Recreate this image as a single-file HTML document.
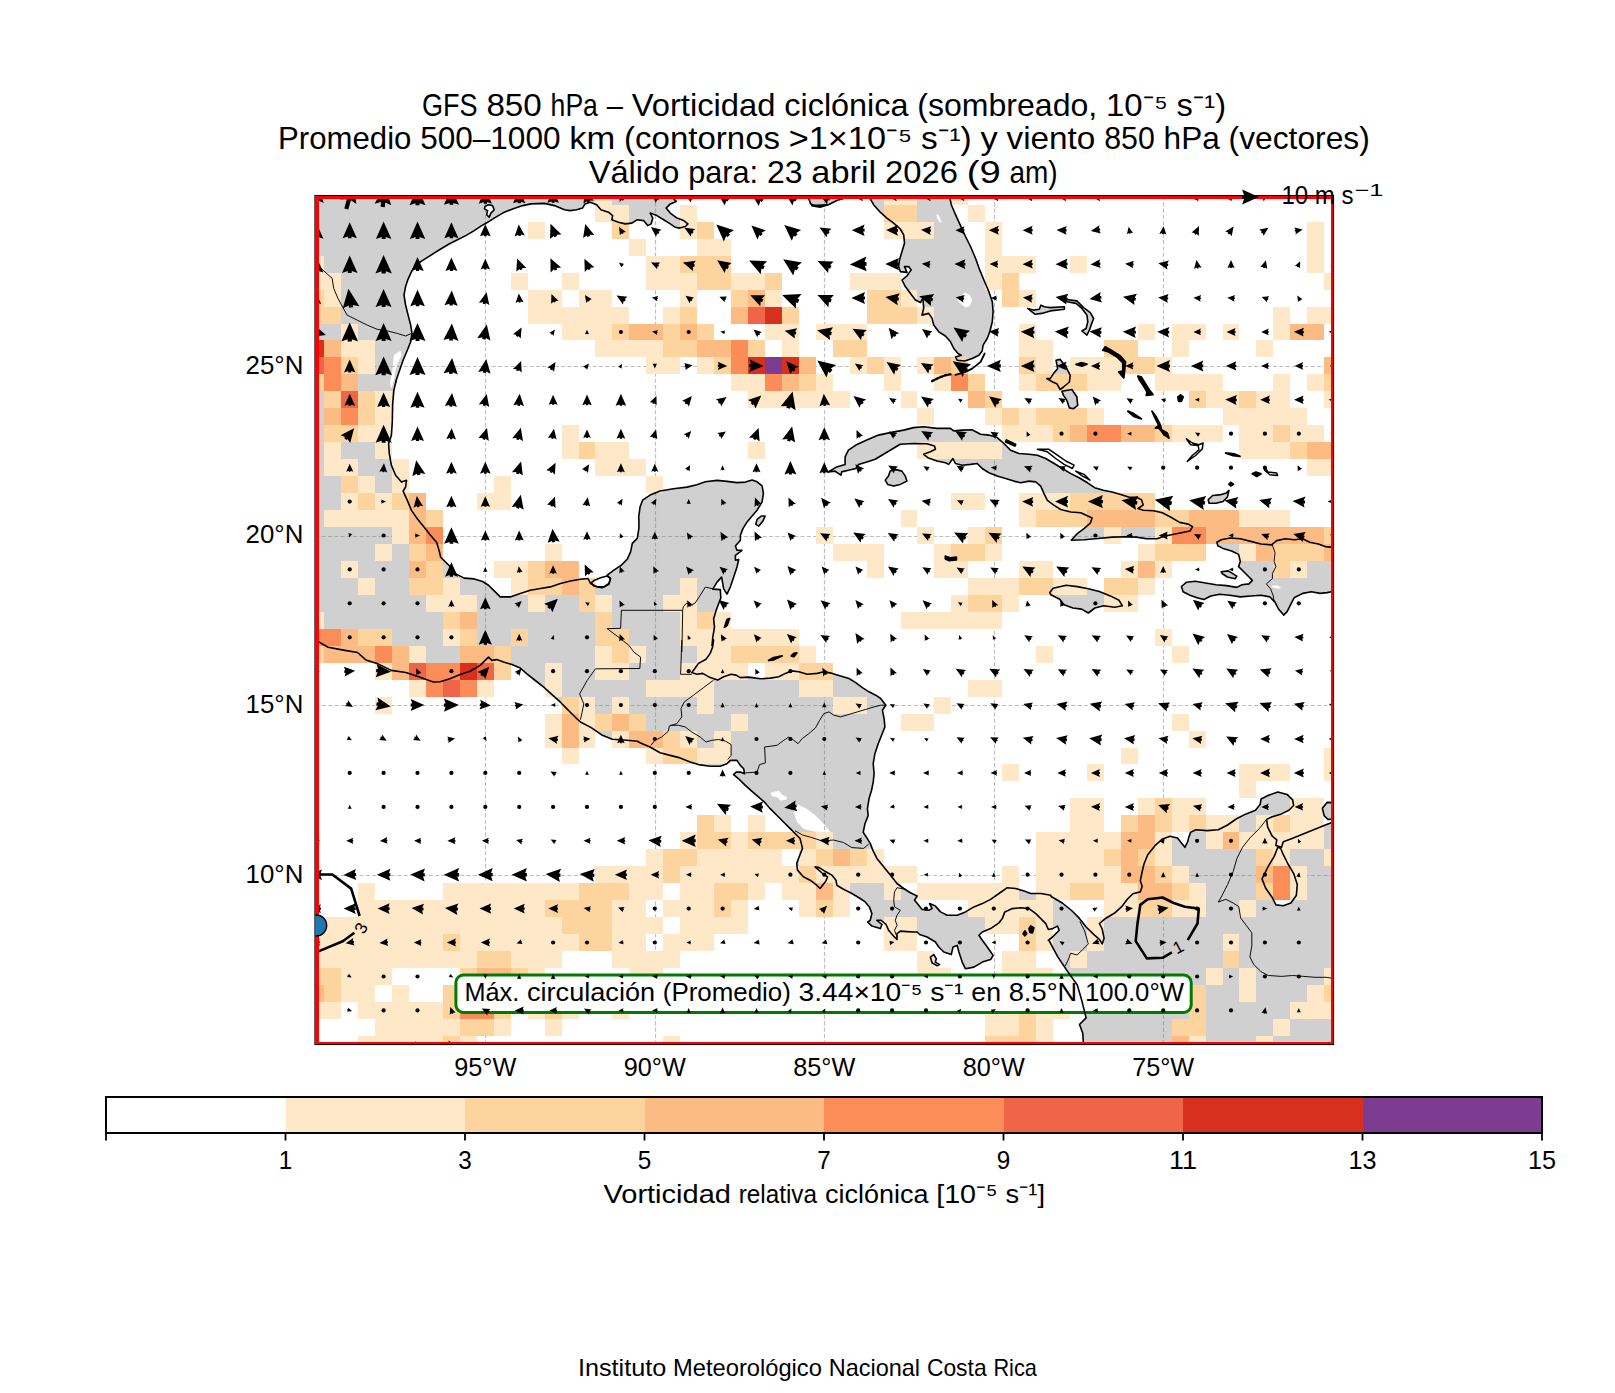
<!DOCTYPE html><html><head><meta charset="utf-8"><title>GFS 850 hPa</title><style>html,body{margin:0;padding:0;background:#fff}svg{display:block}text{font-family:"Liberation Sans",sans-serif;fill:#000}</style></head><body>
<svg width="1615" height="1393" viewBox="0 0 1615 1393">
<rect width="1615" height="1393" fill="#fff"/>
<defs><clipPath id="ax"><rect x="315.4" y="196.0" width="1017.7" height="848.1"/></clipPath></defs>
<g clip-path="url(#ax)">
<g fill="#d0d0d0" stroke="none">
<path d="M313.0 193.0 L673.7 193.0 L673.7 196.4 L673.7 198.9 L676.2 201.4 L670.3 203.9 L666.1 208.1 L670.3 213.1 L677.0 218.1 L683.7 220.6 L687.9 223.9 L685.4 226.5 L679.5 228.1 L675.3 227.3 L670.3 223.9 L663.6 219.8 L656.9 215.6 L650.2 213.1 L652.8 218.1 L651.1 223.9 L647.7 225.6 L643.6 220.6 L636.9 219.8 L631.9 223.1 L625.2 223.9 L618.5 222.3 L611.8 219.8 L612.6 215.6 L608.5 212.2 L600.9 209.7 L596.7 204.7 L590.1 202.2 L585.0 203.9 L582.5 208.1 L576.7 209.7 L570.0 210.6 L564.5 209.7 L554.4 205.6 L544.4 203.4 L531.0 203.9 L522.7 205.6 L512.6 208.9 L502.6 213.1 L494.2 218.1 L487.6 222.3 L480.9 226.1 L474.2 230.6 L465.8 235.6 L457.5 239.8 L449.1 244.0 L440.7 249.0 L434.1 253.2 L427.4 257.4 L420.7 261.6 L415.7 265.7 L411.5 271.6 L408.1 279.1 L405.6 286.6 L404.0 295.0 L405.6 305.0 L408.1 315.1 L410.7 325.1 L412.0 333.4 L410.7 341.8 L407.3 350.2 L403.1 360.2 L399.0 371.9 L395.6 381.9 L396.4 380.0 L393.9 390.0 L392.6 405.1 L392.3 421.8 L391.4 435.2 L388.6 443.5 L389.3 453.6 L391.4 465.3 L395.6 475.3 L401.5 482.0 L406.5 480.3 L405.6 487.0 L403.1 491.2 L407.3 500.4 L411.5 510.4 L417.3 518.8 L424.0 527.1 L430.7 535.5 L436.6 542.2 L439.1 550.5 L440.7 557.2 L445.8 562.2 L450.8 567.2 L455.8 573.9 L464.2 578.1 L474.2 578.9 L482.6 581.5 L488.5 585.2 L495.2 591.9 L500.2 596.9 L510.2 596.9 L520.2 593.6 L530.3 590.2 L540.3 588.5 L550.3 586.9 L560.4 583.5 L570.4 581.0 L580.4 579.3 L588.0 578.5 L590.5 583.5 L597.2 586.9 L603.8 586.9 L608.9 583.5 L610.5 578.5 L607.2 575.2 L613.9 570.2 L621.4 565.1 L627.2 559.3 L630.6 551.8 L632.3 543.4 L637.3 538.4 L638.9 528.4 L638.9 520.0 L638.7 516.9 L640.1 506.8 L642.6 500.2 L650.1 495.1 L660.1 491.0 L673.5 488.8 L686.9 487.1 L696.9 484.8 L705.3 481.8 L717.0 480.4 L727.0 481.4 L737.0 482.6 L745.4 482.1 L752.1 480.1 L757.1 481.8 L762.1 485.9 L763.4 493.5 L762.1 501.8 L757.1 510.2 L752.1 516.0 L747.1 521.9 L742.9 528.6 L740.4 535.3 L740.4 540.3 L735.4 546.1 L737.0 550.3 L742.0 550.3 L735.4 555.3 L735.4 560.3 L738.7 559.5 L737.0 567.0 L733.7 577.1 L730.3 587.1 L727.0 594.1 L723.7 588.8 L721.6 577.1 L717.0 582.1 L712.8 589.1 L720.3 589.6 L720.8 598.0 L718.6 603.8 L716.1 610.5 L713.6 618.9 L714.5 627.2 L712.8 637.2 L712.0 645.6 L713.6 640.0 L712.7 646.7 L710.2 653.4 L706.0 659.2 L698.5 663.4 L694.3 669.3 L691.8 672.6 L696.8 674.3 L702.7 673.4 L710.2 677.6 L717.7 680.1 L723.6 676.8 L731.1 674.3 L736.1 675.1 L740.3 677.6 L748.7 677.1 L760.4 678.8 L770.4 678.1 L778.8 676.8 L785.4 673.4 L791.3 670.9 L798.8 671.8 L807.2 674.3 L817.2 673.4 L823.9 671.8 L832.3 673.4 L840.6 675.9 L849.0 678.5 L855.7 682.6 L862.4 687.6 L869.0 691.8 L875.7 695.2 L880.7 698.5 L885.8 705.2 L882.4 710.2 L884.1 718.6 L884.9 726.9 L881.6 735.3 L878.2 743.7 L874.9 753.7 L873.2 763.7 L874.1 773.7 L873.2 782.1 L871.5 790.5 L869.0 798.8 L867.4 808.9 L868.2 815.5 L864.9 823.9 L863.2 832.3 L866.1 836.7 L870.2 843.4 L872.8 850.1 L876.9 858.4 L883.6 866.8 L890.3 875.1 L897.0 883.5 L903.7 888.5 L910.4 892.7 L917.1 896.0 L914.6 900.2 L918.7 905.2 L922.1 909.4 L928.8 910.2 L932.1 908.6 L929.6 903.6 L935.4 906.1 L940.5 911.9 L947.2 915.3 L957.2 915.3 L965.5 911.9 L973.9 906.9 L982.3 903.6 L990.6 899.4 L999.0 893.5 L1007.3 887.7 L1015.7 888.5 L1024.1 891.0 L1030.7 893.5 L1040.8 893.5 L1050.8 895.2 L1051.1 896.5 L1062.3 903.0 L1071.6 910.5 L1079.0 917.9 L1086.4 927.2 L1093.9 934.6 L1099.4 939.3 L1102.2 943.9 L1104.1 938.3 L1102.2 929.0 L1099.4 923.5 L1105.0 918.8 L1114.3 913.3 L1121.7 906.7 L1127.3 899.3 L1132.9 893.7 L1140.3 891.9 L1142.2 886.3 L1140.3 880.7 L1142.2 871.5 L1144.0 864.0 L1147.7 854.7 L1155.2 845.4 L1162.6 838.9 L1170.0 836.2 L1177.5 838.0 L1181.2 842.7 L1184.9 847.3 L1187.7 841.7 L1188.6 838.0 L1190.5 832.4 L1196.0 829.7 L1207.2 830.6 L1218.3 829.7 L1227.6 825.0 L1236.9 818.5 L1246.2 813.9 L1255.5 810.2 L1260.1 804.6 L1261.1 799.0 L1268.5 795.3 L1277.8 792.0 L1287.1 794.4 L1292.6 799.9 L1293.6 805.5 L1288.9 810.2 L1281.5 813.9 L1272.2 816.7 L1266.6 819.4 L1267.6 826.9 L1272.2 836.2 L1276.8 839.9 L1275.9 845.4 L1281.5 847.3 L1283.3 841.7 L1290.8 838.9 L1300.1 835.2 L1309.3 831.5 L1318.6 827.8 L1327.9 824.1 L1332.8 822.2 L1336.0 822.2 L1336.0 1047.0 L1084.8 1047.0 L1083.3 1042.5 L1082.8 1033.3 L1079.5 1024.5 L1086.1 1017.9 L1081.7 1000.3 L1077.3 985.0 L1066.3 969.6 L1057.5 956.4 L1048.7 939.9 L1048.3 940.3 L1052.5 937.0 L1059.2 930.3 L1057.5 926.1 L1052.5 928.6 L1048.3 929.5 L1045.8 923.6 L1040.8 918.6 L1035.8 913.6 L1029.1 908.6 L1020.7 907.7 L1012.4 908.6 L1004.8 911.9 L1002.3 918.6 L999.0 922.8 L990.6 928.6 L982.3 932.0 L978.9 935.3 L982.3 940.3 L987.3 947.0 L993.1 955.4 L990.6 959.6 L982.3 962.1 L973.9 967.1 L965.5 968.8 L962.2 962.1 L958.9 952.0 L957.2 945.4 L953.0 947.0 L951.3 954.6 L943.8 952.0 L938.8 947.0 L935.4 942.0 L927.1 937.0 L919.6 934.5 L917.1 932.0 L913.7 932.0 L907.0 931.6 L900.3 931.1 L897.0 933.7 L897.0 939.5 L893.7 936.2 L888.6 930.3 L886.1 924.5 L881.1 920.3 L876.9 920.3 L882.0 924.5 L880.3 928.6 L871.9 926.1 L867.7 922.0 L870.2 920.3 L871.9 913.6 L869.4 906.9 L865.2 901.9 L860.2 898.5 L851.9 893.5 L843.5 889.3 L836.8 885.2 L836.0 880.2 L831.8 875.1 L825.9 871.8 L819.3 867.6 L815.1 866.8 L822.6 873.5 L827.6 876.8 L825.9 881.0 L820.1 888.5 L816.7 885.2 L810.1 880.2 L803.4 876.8 L797.5 870.1 L796.7 863.4 L799.2 856.7 L802.5 848.4 L800.0 838.4 L796.3 834.8 L790.5 828.9 L783.8 822.2 L777.1 815.5 L770.4 808.9 L764.6 802.2 L758.7 797.2 L752.0 791.3 L745.3 785.4 L738.6 778.8 L733.6 774.6 L736.1 772.1 L740.3 772.1 L744.5 773.7 L743.7 768.7 L740.3 765.4 L737.0 760.4 L730.3 760.4 L726.9 763.7 L720.2 766.2 L710.2 766.2 L698.5 764.6 L690.2 762.0 L680.1 757.9 L670.1 755.4 L660.1 752.8 L650.0 747.0 L640.0 742.8 L637.5 741.3 L627.0 740.2 L612.3 739.2 L601.7 734.9 L591.2 727.6 L580.4 722.0 L575.4 717.3 L568.7 710.6 L560.4 702.2 L552.0 694.7 L543.7 687.2 L535.3 680.5 L526.9 673.8 L520.2 668.0 L511.9 664.6 L503.5 662.1 L496.8 659.6 L491.8 660.4 L488.5 657.1 L485.1 660.4 L480.1 665.4 L470.1 671.3 L460.1 674.6 L450.0 678.8 L440.0 681.8 L433.3 682.0 L418.6 676.7 L405.9 672.5 L391.2 670.4 L378.6 664.1 L365.9 659.9 L357.5 652.5 L344.9 650.4 L328.1 647.3 L315.4 639.9 L313.0 639.9Z"/>
<path d="M866.9 193.0 L873.6 204.7 L880.2 212.2 L886.9 218.1 L893.6 223.1 L900.3 229.0 L903.7 234.8 L904.5 243.2 L902.0 251.5 L899.5 259.9 L898.6 266.6 L900.3 271.6 L907.0 272.4 L904.5 266.6 L908.7 266.6 L911.2 269.9 L907.0 275.8 L902.0 280.0 L905.3 286.6 L910.3 293.3 L915.4 300.0 L920.4 302.5 L922.9 298.3 L923.7 308.4 L922.0 315.1 L928.7 313.4 L932.1 318.4 L933.7 325.1 L938.8 331.8 L945.4 336.0 L950.5 341.8 L953.8 348.5 L958.0 353.5 L961.3 355.2 L955.5 356.9 L957.2 360.2 L964.7 361.0 L972.2 358.5 L978.9 355.2 L982.2 351.0 L983.1 345.2 L987.2 338.5 L989.8 331.8 L992.3 321.7 L993.1 311.7 L992.3 301.7 L988.9 291.7 L983.9 280.0 L979.7 269.9 L975.5 258.2 L970.5 246.5 L965.5 236.5 L960.5 225.6 L955.5 214.7 L951.3 204.7 L948.8 193.0Z"/>
<path d="M806.6 193.0 L810.7 203.9 L817.4 206.4 L827.5 204.7 L811.7 205.6 L820.1 207.2 L828.4 204.7 L836.8 200.5 L845.1 198.0 L847.6 193.0Z"/>
<path d="M828.4 471.9 L836.7 466.9 L845.1 464.4 L845.1 456.8 L848.4 450.2 L855.9 445.1 L866.8 440.1 L878.5 435.1 L890.2 432.6 L903.6 430.1 L913.6 427.6 L923.7 426.7 L937.0 428.4 L950.4 428.4 L953.7 430.9 L962.1 430.1 L972.1 429.8 L980.5 434.3 L988.9 435.1 L997.2 437.6 L1003.9 443.5 L1010.6 450.2 L1018.9 453.5 L1029.0 454.3 L1037.3 455.2 L1045.7 458.5 L1054.1 463.5 L1062.4 468.5 L1070.8 473.6 L1079.1 477.7 L1087.5 482.8 L1094.7 487.7 L1103.3 490.3 L1112.0 492.0 L1120.7 494.6 L1129.3 497.2 L1136.3 497.2 L1141.5 499.8 L1143.2 505.0 L1138.0 508.5 L1143.2 510.2 L1153.6 510.7 L1162.3 512.8 L1171.0 517.2 L1179.6 522.4 L1188.3 524.1 L1192.6 526.7 L1190.0 531.0 L1181.4 532.8 L1172.7 534.5 L1164.0 536.2 L1157.1 538.8 L1146.7 538.8 L1136.3 537.1 L1125.9 536.7 L1112.0 537.1 L1098.1 538.5 L1084.3 539.7 L1071.3 540.2 L1077.3 533.6 L1084.3 528.4 L1090.3 523.2 L1092.1 518.0 L1080.8 512.8 L1070.8 512.0 L1060.7 509.5 L1054.1 505.3 L1047.4 500.3 L1044.0 493.6 L1040.7 486.1 L1035.7 481.9 L1029.0 481.1 L1020.6 482.8 L1013.9 481.1 L1005.6 478.6 L997.2 476.1 L988.9 472.7 L982.2 468.5 L977.2 463.5 L970.5 464.4 L962.1 465.2 L955.4 463.5 L952.9 458.5 L948.7 464.4 L945.4 462.7 L937.0 461.0 L927.8 457.7 L923.7 454.3 L930.3 451.8 L935.4 449.3 L934.5 446.0 L927.0 443.8 L913.6 443.5 L900.2 444.3 L891.9 449.3 L883.5 454.3 L875.2 459.3 L866.8 461.9 L858.5 464.4 L855.9 468.5 L848.4 470.2 L841.7 471.9 L840.9 475.2 L835.0 471.1Z"/>
<path d="M885.2 480.2 L888.5 476.1 L890.2 471.1 L895.2 469.4 L901.9 471.1 L905.3 476.1 L906.9 481.1 L900.2 484.4 L893.6 486.1 L887.7 484.4Z"/>
<path d="M1049.8 592.6 L1053.1 588.2 L1066.3 585.3 L1077.3 586.6 L1088.3 588.8 L1099.3 591.5 L1110.3 595.9 L1119.1 600.3 L1122.4 605.8 L1114.7 607.3 L1103.7 605.8 L1094.9 608.0 L1088.3 613.0 L1081.7 609.1 L1072.9 608.0 L1064.1 604.7 L1059.7 599.2 L1050.9 594.8Z"/>
<path d="M1216.9 542.3 L1221.2 539.7 L1229.9 538.0 L1240.3 538.8 L1250.7 541.4 L1261.1 544.0 L1271.5 544.9 L1276.7 540.6 L1285.4 538.8 L1294.1 539.7 L1302.7 538.8 L1309.7 542.3 L1318.3 544.0 L1325.3 546.6 L1336.0 547.5 L1336.0 590.8 L1327.0 592.6 L1320.1 593.4 L1311.4 591.7 L1302.7 593.4 L1294.1 597.8 L1290.6 604.7 L1287.1 611.6 L1283.7 615.1 L1278.5 609.0 L1275.0 602.1 L1269.8 596.9 L1261.1 595.2 L1250.7 596.0 L1240.3 596.9 L1229.9 595.2 L1219.5 594.3 L1210.8 596.0 L1203.9 599.5 L1197.0 597.8 L1190.0 595.2 L1183.1 591.7 L1181.4 586.5 L1186.6 582.2 L1195.2 581.3 L1205.6 583.0 L1216.0 584.8 L1226.4 585.6 L1236.8 587.4 L1242.0 584.8 L1249.0 583.9 L1252.4 580.4 L1249.0 577.0 L1243.8 571.8 L1238.6 566.6 L1240.3 561.4 L1238.6 554.4 L1231.6 551.0 L1223.0 548.4 L1217.8 545.8Z"/>
<path d="M1221.2 571.8 L1228.2 570.9 L1236.8 576.1 L1235.1 578.7 L1227.3 577.0 L1222.1 573.5Z"/>
<path d="M1208.2 499.8 L1212.6 495.5 L1221.2 494.6 L1226.4 492.9 L1229.0 490.3 L1227.3 497.2 L1223.0 501.5 L1216.0 503.3 L1209.1 503.3Z"/>
<path d="M1027.6 308.4 L1035.1 314.3 L1041.8 313.4 L1050.2 310.9 L1064.4 309.3 L1064.4 306.7 L1050.2 307.6 L1044.3 306.7 L1041.0 305.1 L1039.3 309.3 L1033.4 310.1Z"/>
<path d="M1064.4 299.2 L1076.9 300.9 L1083.6 307.6 L1090.3 312.6 L1093.6 318.5 L1091.1 325.1 L1089.4 330.2 L1086.9 335.2 L1081.9 331.0 L1086.1 328.5 L1087.8 321.8 L1086.9 315.1 L1081.9 308.4 L1076.1 303.4 L1066.9 301.7Z"/>
<path d="M1050.2 378.6 L1053.5 373.6 L1057.7 368.6 L1056.0 360.2 L1060.2 359.4 L1066.0 366.9 L1070.2 375.3 L1069.4 382.0 L1063.5 387.0 L1060.2 389.5 L1056.8 383.7 L1052.7 382.0 L1046.8 378.6Z"/>
<path d="M1061.9 391.2 L1071.9 389.5 L1076.9 397.0 L1077.7 405.4 L1073.6 408.7 L1069.4 407.9 L1066.9 400.4 L1063.5 395.4Z"/>
<path d="M755.8 524.4 L757.1 519.4 L761.3 516.0 L765.1 516.0 L762.9 521.1 L758.8 526.1Z"/>
<path d="M930.4 957.1 L933.8 954.6 L936.3 958.7 L935.4 962.1 L939.6 964.6 L937.1 965.8 L932.1 962.9Z"/>
<path d="M1336.3 802.7 L1327.0 802.4 L1322.4 808.3 L1324.2 815.7 L1327.9 819.4 L1336.3 819.1Z"/>
</g>
<g fill="#fff" stroke="none">
<path d="M1277.8 847.3 L1274.1 856.6 L1268.5 865.9 L1262.0 878.9 L1265.7 888.2 L1272.2 897.5 L1275.9 904.9 L1283.3 905.8 L1290.8 903.0 L1296.3 895.6 L1297.3 884.5 L1293.6 873.3 L1288.0 864.0 L1283.3 854.7 L1280.6 848.2Z"/>
<path d="M770.4 793.0 L778.8 790.5 L782.1 794.6 L787.1 797.2 L786.3 799.7 L780.4 800.5 L777.1 797.2 L772.1 796.3Z"/>
<path d="M793.8 810.5 L798.0 804.7 L807.2 808.9 L815.5 815.5 L823.9 823.9 L830.6 832.3 L823.9 832.3 L813.9 831.4 L803.8 828.9 L797.2 822.2 L794.6 815.5Z"/>
<path d="M964.7 292.5 L969.7 295.0 L972.2 300.0 L969.7 305.9 L965.5 307.5 L960.5 303.4 L957.2 300.0 L960.5 296.7Z"/>
<path d="M936.3 213.9 L938.8 215.6 L941.8 222.3 L939.6 222.3 L937.1 218.1Z"/>
<path d="M397.3 352.7 L400.6 351.0 L401.5 355.2 L398.1 361.9 L395.6 370.2 L393.9 380.3 L391.4 388.6 L389.8 383.6 L392.3 371.9 L393.1 361.9 L393.9 355.2Z"/>
<path d="M591.3 582.7 L593.8 586.0 L602.2 587.7 L608.9 584.4 L610.5 578.5 L607.2 576.0 L600.5 577.7 L594.6 580.2Z"/>
<path d="M1271.5 586.0 L1276.7 585.3 L1281.1 587.4 L1278.5 588.8 L1273.3 587.7Z"/>
<path d="M485.0 206.4 L488.4 204.7 L492.6 205.6 L494.2 209.7 L490.9 213.1 L489.2 217.3 L486.7 214.7 L487.6 210.6 L484.5 208.9Z"/>
</g>
<g stroke="#808080" stroke-opacity="0.5" stroke-width="1.15" stroke-dasharray="4.1 2.2" fill="none">
<path d="M485.5 196.0 V1044.1"/>
<path d="M655.5 196.0 V1044.1"/>
<path d="M824.5 196.0 V1044.1"/>
<path d="M994.5 196.0 V1044.1"/>
<path d="M1163.5 196.0 V1044.1"/>
<path d="M315.4 366.5 H1333.1"/>
<path d="M315.4 536.5 H1333.1"/>
<path d="M315.4 705.5 H1333.1"/>
<path d="M315.4 875.5 H1333.1"/>
</g>
<g shape-rendering="crispEdges">
<rect x="595" y="188" width="17" height="17" fill="#fee8c8"/>
<rect x="884" y="188" width="33" height="17" fill="#fee8c8"/>
<rect x="951" y="188" width="17" height="17" fill="#fee8c8"/>
<rect x="595" y="205" width="34" height="17" fill="#fee8c8"/>
<rect x="680" y="205" width="17" height="17" fill="#fee8c8"/>
<rect x="884" y="205" width="33" height="17" fill="#fdd49e"/>
<rect x="968" y="205" width="17" height="17" fill="#fee8c8"/>
<rect x="528" y="222" width="17" height="17" fill="#fee8c8"/>
<rect x="612" y="222" width="17" height="17" fill="#fdd49e"/>
<rect x="680" y="222" width="17" height="17" fill="#fee8c8"/>
<rect x="697" y="222" width="17" height="17" fill="#fdd49e"/>
<rect x="884" y="222" width="50" height="17" fill="#fee8c8"/>
<rect x="985" y="222" width="17" height="17" fill="#fee8c8"/>
<rect x="1307" y="222" width="17" height="17" fill="#fee8c8"/>
<rect x="629" y="239" width="17" height="17" fill="#fee8c8"/>
<rect x="697" y="239" width="34" height="17" fill="#fee8c8"/>
<rect x="985" y="239" width="17" height="17" fill="#fee8c8"/>
<rect x="1307" y="239" width="17" height="17" fill="#fee8c8"/>
<rect x="307" y="256" width="17" height="17" fill="#fee8c8"/>
<rect x="646" y="256" width="34" height="17" fill="#fee8c8"/>
<rect x="680" y="256" width="51" height="17" fill="#fdd49e"/>
<rect x="985" y="256" width="51" height="17" fill="#fee8c8"/>
<rect x="1070" y="256" width="17" height="17" fill="#fee8c8"/>
<rect x="1307" y="256" width="17" height="17" fill="#fee8c8"/>
<rect x="307" y="273" width="34" height="17" fill="#fee8c8"/>
<rect x="511" y="273" width="17" height="17" fill="#fee8c8"/>
<rect x="562" y="273" width="17" height="17" fill="#fee8c8"/>
<rect x="646" y="273" width="51" height="17" fill="#fee8c8"/>
<rect x="697" y="273" width="34" height="17" fill="#fdd49e"/>
<rect x="731" y="273" width="34" height="17" fill="#fee8c8"/>
<rect x="765" y="273" width="17" height="17" fill="#fdd49e"/>
<rect x="850" y="273" width="51" height="17" fill="#fee8c8"/>
<rect x="985" y="273" width="17" height="17" fill="#fee8c8"/>
<rect x="1002" y="273" width="17" height="17" fill="#fdd49e"/>
<rect x="1324" y="273" width="17" height="17" fill="#fee8c8"/>
<rect x="307" y="290" width="17" height="17" fill="#fdd49e"/>
<rect x="324" y="290" width="17" height="17" fill="#fee8c8"/>
<rect x="528" y="290" width="34" height="17" fill="#fee8c8"/>
<rect x="579" y="290" width="33" height="17" fill="#fee8c8"/>
<rect x="680" y="290" width="17" height="17" fill="#fee8c8"/>
<rect x="731" y="290" width="17" height="17" fill="#fdd49e"/>
<rect x="748" y="290" width="17" height="17" fill="#fdbb84"/>
<rect x="765" y="290" width="17" height="17" fill="#fee8c8"/>
<rect x="867" y="290" width="34" height="17" fill="#fdd49e"/>
<rect x="901" y="290" width="16" height="17" fill="#fee8c8"/>
<rect x="1002" y="290" width="17" height="17" fill="#fdd49e"/>
<rect x="1019" y="290" width="17" height="17" fill="#fee8c8"/>
<rect x="307" y="307" width="34" height="17" fill="#fdd49e"/>
<rect x="528" y="307" width="101" height="17" fill="#fee8c8"/>
<rect x="663" y="307" width="17" height="17" fill="#fee8c8"/>
<rect x="680" y="307" width="17" height="17" fill="#fdd49e"/>
<rect x="731" y="307" width="17" height="17" fill="#fdbb84"/>
<rect x="748" y="307" width="17" height="17" fill="#ef6548"/>
<rect x="765" y="307" width="17" height="17" fill="#d7301f"/>
<rect x="782" y="307" width="17" height="17" fill="#fdd49e"/>
<rect x="867" y="307" width="50" height="17" fill="#fdd49e"/>
<rect x="917" y="307" width="17" height="17" fill="#fee8c8"/>
<rect x="1273" y="307" width="17" height="17" fill="#fee8c8"/>
<rect x="1307" y="307" width="34" height="17" fill="#fee8c8"/>
<rect x="341" y="324" width="17" height="16" fill="#fee8c8"/>
<rect x="562" y="324" width="50" height="16" fill="#fee8c8"/>
<rect x="612" y="324" width="17" height="16" fill="#fdd49e"/>
<rect x="629" y="324" width="34" height="16" fill="#fdbb84"/>
<rect x="663" y="324" width="17" height="16" fill="#fdd49e"/>
<rect x="680" y="324" width="17" height="16" fill="#fdbb84"/>
<rect x="697" y="324" width="17" height="16" fill="#fdd49e"/>
<rect x="765" y="324" width="34" height="16" fill="#fee8c8"/>
<rect x="816" y="324" width="51" height="16" fill="#fee8c8"/>
<rect x="1019" y="324" width="17" height="16" fill="#fee8c8"/>
<rect x="1138" y="324" width="17" height="16" fill="#fee8c8"/>
<rect x="1172" y="324" width="34" height="16" fill="#fee8c8"/>
<rect x="1223" y="324" width="16" height="16" fill="#fee8c8"/>
<rect x="1273" y="324" width="17" height="16" fill="#fee8c8"/>
<rect x="1290" y="324" width="34" height="16" fill="#fdbb84"/>
<rect x="307" y="340" width="17" height="17" fill="#d7301f"/>
<rect x="324" y="340" width="17" height="17" fill="#fdbb84"/>
<rect x="341" y="340" width="34" height="17" fill="#fee8c8"/>
<rect x="595" y="340" width="68" height="17" fill="#fee8c8"/>
<rect x="663" y="340" width="34" height="17" fill="#fdd49e"/>
<rect x="697" y="340" width="34" height="17" fill="#fdbb84"/>
<rect x="731" y="340" width="17" height="17" fill="#fc8d59"/>
<rect x="748" y="340" width="17" height="17" fill="#fdd49e"/>
<rect x="782" y="340" width="17" height="17" fill="#fee8c8"/>
<rect x="833" y="340" width="34" height="17" fill="#fdd49e"/>
<rect x="1019" y="340" width="34" height="17" fill="#fee8c8"/>
<rect x="1104" y="340" width="34" height="17" fill="#fdd49e"/>
<rect x="1172" y="340" width="17" height="17" fill="#fee8c8"/>
<rect x="1256" y="340" width="17" height="17" fill="#fee8c8"/>
<rect x="307" y="357" width="17" height="17" fill="#ef6548"/>
<rect x="324" y="357" width="17" height="17" fill="#fc8d59"/>
<rect x="341" y="357" width="17" height="17" fill="#fdd49e"/>
<rect x="358" y="357" width="17" height="17" fill="#fee8c8"/>
<rect x="646" y="357" width="34" height="17" fill="#fee8c8"/>
<rect x="697" y="357" width="17" height="17" fill="#fee8c8"/>
<rect x="714" y="357" width="17" height="17" fill="#fdd49e"/>
<rect x="731" y="357" width="17" height="17" fill="#fc8d59"/>
<rect x="748" y="357" width="17" height="17" fill="#d7301f"/>
<rect x="765" y="357" width="17" height="17" fill="#7d3c92"/>
<rect x="782" y="357" width="17" height="17" fill="#d7301f"/>
<rect x="799" y="357" width="17" height="17" fill="#fdbb84"/>
<rect x="850" y="357" width="17" height="17" fill="#fee8c8"/>
<rect x="867" y="357" width="17" height="17" fill="#fdd49e"/>
<rect x="884" y="357" width="17" height="17" fill="#fee8c8"/>
<rect x="917" y="357" width="17" height="17" fill="#fee8c8"/>
<rect x="934" y="357" width="17" height="17" fill="#fdbb84"/>
<rect x="951" y="357" width="17" height="17" fill="#fdd49e"/>
<rect x="1019" y="357" width="17" height="17" fill="#fdd49e"/>
<rect x="1036" y="357" width="17" height="17" fill="#fee8c8"/>
<rect x="1070" y="357" width="51" height="17" fill="#fee8c8"/>
<rect x="1121" y="357" width="34" height="17" fill="#fdd49e"/>
<rect x="1155" y="357" width="17" height="17" fill="#fee8c8"/>
<rect x="1324" y="357" width="17" height="17" fill="#fdbb84"/>
<rect x="307" y="374" width="17" height="17" fill="#fdd49e"/>
<rect x="324" y="374" width="17" height="17" fill="#fc8d59"/>
<rect x="341" y="374" width="17" height="17" fill="#fdbb84"/>
<rect x="731" y="374" width="34" height="17" fill="#fee8c8"/>
<rect x="765" y="374" width="17" height="17" fill="#fc8d59"/>
<rect x="782" y="374" width="17" height="17" fill="#fdbb84"/>
<rect x="799" y="374" width="17" height="17" fill="#fdd49e"/>
<rect x="816" y="374" width="17" height="17" fill="#fee8c8"/>
<rect x="884" y="374" width="17" height="17" fill="#fee8c8"/>
<rect x="934" y="374" width="17" height="17" fill="#fee8c8"/>
<rect x="951" y="374" width="17" height="17" fill="#fc8d59"/>
<rect x="968" y="374" width="17" height="17" fill="#fdd49e"/>
<rect x="1019" y="374" width="17" height="17" fill="#fee8c8"/>
<rect x="1036" y="374" width="51" height="17" fill="#fdd49e"/>
<rect x="1087" y="374" width="34" height="17" fill="#fee8c8"/>
<rect x="1155" y="374" width="68" height="17" fill="#fee8c8"/>
<rect x="1273" y="374" width="17" height="17" fill="#fee8c8"/>
<rect x="1307" y="374" width="17" height="17" fill="#fee8c8"/>
<rect x="1324" y="374" width="17" height="17" fill="#fdd49e"/>
<rect x="324" y="391" width="17" height="17" fill="#fdd49e"/>
<rect x="341" y="391" width="17" height="17" fill="#ef6548"/>
<rect x="358" y="391" width="17" height="17" fill="#fdd49e"/>
<rect x="375" y="391" width="17" height="17" fill="#fee8c8"/>
<rect x="748" y="391" width="102" height="17" fill="#fee8c8"/>
<rect x="901" y="391" width="16" height="17" fill="#fee8c8"/>
<rect x="968" y="391" width="17" height="17" fill="#fdbb84"/>
<rect x="985" y="391" width="17" height="17" fill="#fdd49e"/>
<rect x="1189" y="391" width="17" height="17" fill="#fdd49e"/>
<rect x="1206" y="391" width="33" height="17" fill="#fee8c8"/>
<rect x="1239" y="391" width="17" height="17" fill="#fdd49e"/>
<rect x="1256" y="391" width="34" height="17" fill="#fee8c8"/>
<rect x="1324" y="391" width="17" height="17" fill="#fee8c8"/>
<rect x="324" y="408" width="17" height="17" fill="#fdbb84"/>
<rect x="341" y="408" width="17" height="17" fill="#fc8d59"/>
<rect x="358" y="408" width="17" height="17" fill="#fdd49e"/>
<rect x="375" y="408" width="17" height="17" fill="#fee8c8"/>
<rect x="917" y="408" width="17" height="17" fill="#fee8c8"/>
<rect x="985" y="408" width="17" height="17" fill="#fee8c8"/>
<rect x="1002" y="408" width="17" height="17" fill="#fdd49e"/>
<rect x="1019" y="408" width="17" height="17" fill="#fee8c8"/>
<rect x="1036" y="408" width="51" height="17" fill="#fdd49e"/>
<rect x="1087" y="408" width="17" height="17" fill="#fee8c8"/>
<rect x="1223" y="408" width="84" height="17" fill="#fee8c8"/>
<rect x="324" y="425" width="34" height="17" fill="#fdd49e"/>
<rect x="358" y="425" width="34" height="17" fill="#fee8c8"/>
<rect x="562" y="425" width="17" height="17" fill="#fee8c8"/>
<rect x="1002" y="425" width="51" height="17" fill="#fee8c8"/>
<rect x="1053" y="425" width="17" height="17" fill="#fdd49e"/>
<rect x="1070" y="425" width="17" height="17" fill="#fdbb84"/>
<rect x="1087" y="425" width="34" height="17" fill="#fc8d59"/>
<rect x="1121" y="425" width="34" height="17" fill="#fdbb84"/>
<rect x="1155" y="425" width="17" height="17" fill="#fdd49e"/>
<rect x="1172" y="425" width="51" height="17" fill="#fee8c8"/>
<rect x="1239" y="425" width="34" height="17" fill="#fee8c8"/>
<rect x="1273" y="425" width="17" height="17" fill="#fdd49e"/>
<rect x="1290" y="425" width="34" height="17" fill="#fee8c8"/>
<rect x="324" y="442" width="17" height="17" fill="#fee8c8"/>
<rect x="375" y="442" width="17" height="17" fill="#fee8c8"/>
<rect x="562" y="442" width="17" height="17" fill="#fee8c8"/>
<rect x="579" y="442" width="16" height="17" fill="#fdd49e"/>
<rect x="595" y="442" width="34" height="17" fill="#fee8c8"/>
<rect x="748" y="442" width="17" height="17" fill="#fee8c8"/>
<rect x="917" y="442" width="85" height="17" fill="#fee8c8"/>
<rect x="1239" y="442" width="51" height="17" fill="#fee8c8"/>
<rect x="1290" y="442" width="17" height="17" fill="#fdd49e"/>
<rect x="1307" y="442" width="34" height="17" fill="#fdbb84"/>
<rect x="324" y="459" width="34" height="17" fill="#fee8c8"/>
<rect x="392" y="459" width="17" height="17" fill="#fee8c8"/>
<rect x="595" y="459" width="51" height="17" fill="#fee8c8"/>
<rect x="1307" y="459" width="34" height="17" fill="#fee8c8"/>
<rect x="341" y="476" width="17" height="17" fill="#fdd49e"/>
<rect x="358" y="476" width="17" height="17" fill="#fee8c8"/>
<rect x="392" y="476" width="17" height="17" fill="#fee8c8"/>
<rect x="494" y="476" width="17" height="17" fill="#fee8c8"/>
<rect x="646" y="476" width="17" height="17" fill="#fee8c8"/>
<rect x="341" y="493" width="17" height="17" fill="#fee8c8"/>
<rect x="358" y="493" width="17" height="17" fill="#fdd49e"/>
<rect x="375" y="493" width="17" height="17" fill="#fee8c8"/>
<rect x="392" y="493" width="17" height="17" fill="#fdd49e"/>
<rect x="409" y="493" width="17" height="17" fill="#fdbb84"/>
<rect x="477" y="493" width="34" height="17" fill="#fee8c8"/>
<rect x="951" y="493" width="34" height="17" fill="#fee8c8"/>
<rect x="1019" y="493" width="51" height="17" fill="#fee8c8"/>
<rect x="1070" y="493" width="85" height="17" fill="#fdd49e"/>
<rect x="324" y="510" width="85" height="17" fill="#fee8c8"/>
<rect x="409" y="510" width="17" height="17" fill="#fdbb84"/>
<rect x="426" y="510" width="17" height="17" fill="#fdd49e"/>
<rect x="901" y="510" width="16" height="17" fill="#fee8c8"/>
<rect x="1019" y="510" width="17" height="17" fill="#fee8c8"/>
<rect x="1036" y="510" width="51" height="17" fill="#fdd49e"/>
<rect x="1087" y="510" width="68" height="17" fill="#fdbb84"/>
<rect x="1155" y="510" width="34" height="17" fill="#fdd49e"/>
<rect x="1189" y="510" width="50" height="17" fill="#fdbb84"/>
<rect x="1239" y="510" width="51" height="17" fill="#fee8c8"/>
<rect x="392" y="527" width="17" height="17" fill="#fee8c8"/>
<rect x="409" y="527" width="17" height="17" fill="#fdbb84"/>
<rect x="426" y="527" width="17" height="17" fill="#fc8d59"/>
<rect x="816" y="527" width="17" height="17" fill="#fee8c8"/>
<rect x="917" y="527" width="17" height="17" fill="#fee8c8"/>
<rect x="968" y="527" width="17" height="17" fill="#fee8c8"/>
<rect x="985" y="527" width="17" height="17" fill="#fdd49e"/>
<rect x="1104" y="527" width="17" height="17" fill="#fee8c8"/>
<rect x="1155" y="527" width="17" height="17" fill="#fee8c8"/>
<rect x="1172" y="527" width="34" height="17" fill="#fc8d59"/>
<rect x="1206" y="527" width="118" height="17" fill="#fdbb84"/>
<rect x="1324" y="527" width="17" height="17" fill="#fdd49e"/>
<rect x="375" y="544" width="17" height="17" fill="#fee8c8"/>
<rect x="409" y="544" width="17" height="17" fill="#fdd49e"/>
<rect x="426" y="544" width="17" height="17" fill="#fdbb84"/>
<rect x="545" y="544" width="17" height="17" fill="#fee8c8"/>
<rect x="833" y="544" width="51" height="17" fill="#fee8c8"/>
<rect x="934" y="544" width="17" height="17" fill="#fee8c8"/>
<rect x="951" y="544" width="34" height="17" fill="#fdd49e"/>
<rect x="985" y="544" width="17" height="17" fill="#fee8c8"/>
<rect x="1138" y="544" width="17" height="17" fill="#fee8c8"/>
<rect x="1155" y="544" width="51" height="17" fill="#fdd49e"/>
<rect x="1239" y="544" width="17" height="17" fill="#fee8c8"/>
<rect x="1256" y="544" width="17" height="17" fill="#fdbb84"/>
<rect x="1273" y="544" width="51" height="17" fill="#fdd49e"/>
<rect x="1324" y="544" width="17" height="17" fill="#fdbb84"/>
<rect x="341" y="561" width="17" height="17" fill="#fee8c8"/>
<rect x="409" y="561" width="17" height="17" fill="#fdbb84"/>
<rect x="426" y="561" width="17" height="17" fill="#fdd49e"/>
<rect x="494" y="561" width="34" height="17" fill="#fee8c8"/>
<rect x="528" y="561" width="17" height="17" fill="#fdd49e"/>
<rect x="545" y="561" width="34" height="17" fill="#fdbb84"/>
<rect x="867" y="561" width="17" height="17" fill="#fee8c8"/>
<rect x="934" y="561" width="34" height="17" fill="#fee8c8"/>
<rect x="1019" y="561" width="34" height="17" fill="#fee8c8"/>
<rect x="1121" y="561" width="17" height="17" fill="#fee8c8"/>
<rect x="1138" y="561" width="17" height="17" fill="#fdbb84"/>
<rect x="1155" y="561" width="17" height="17" fill="#fee8c8"/>
<rect x="1273" y="561" width="17" height="17" fill="#fdd49e"/>
<rect x="1290" y="561" width="17" height="17" fill="#fee8c8"/>
<rect x="358" y="578" width="17" height="17" fill="#fee8c8"/>
<rect x="409" y="578" width="34" height="17" fill="#fdd49e"/>
<rect x="443" y="578" width="17" height="17" fill="#fee8c8"/>
<rect x="511" y="578" width="17" height="17" fill="#fee8c8"/>
<rect x="528" y="578" width="34" height="17" fill="#fdd49e"/>
<rect x="562" y="578" width="17" height="17" fill="#fdbb84"/>
<rect x="579" y="578" width="16" height="17" fill="#fdd49e"/>
<rect x="680" y="578" width="17" height="17" fill="#fee8c8"/>
<rect x="968" y="578" width="51" height="17" fill="#fee8c8"/>
<rect x="1019" y="578" width="34" height="17" fill="#fdd49e"/>
<rect x="1053" y="578" width="34" height="17" fill="#fee8c8"/>
<rect x="1104" y="578" width="34" height="17" fill="#fdd49e"/>
<rect x="1138" y="578" width="17" height="17" fill="#fee8c8"/>
<rect x="426" y="595" width="51" height="17" fill="#fee8c8"/>
<rect x="528" y="595" width="17" height="17" fill="#fee8c8"/>
<rect x="579" y="595" width="16" height="17" fill="#fdd49e"/>
<rect x="595" y="595" width="17" height="17" fill="#fee8c8"/>
<rect x="663" y="595" width="34" height="17" fill="#fee8c8"/>
<rect x="951" y="595" width="17" height="17" fill="#fee8c8"/>
<rect x="968" y="595" width="34" height="17" fill="#fdd49e"/>
<rect x="1002" y="595" width="17" height="17" fill="#fee8c8"/>
<rect x="1104" y="595" width="34" height="17" fill="#fee8c8"/>
<rect x="307" y="612" width="17" height="17" fill="#fee8c8"/>
<rect x="443" y="612" width="17" height="17" fill="#fdd49e"/>
<rect x="460" y="612" width="17" height="17" fill="#fdbb84"/>
<rect x="595" y="612" width="17" height="17" fill="#fdd49e"/>
<rect x="680" y="612" width="17" height="17" fill="#fee8c8"/>
<rect x="697" y="612" width="17" height="17" fill="#fdd49e"/>
<rect x="714" y="612" width="17" height="17" fill="#fee8c8"/>
<rect x="901" y="612" width="101" height="17" fill="#fee8c8"/>
<rect x="307" y="629" width="34" height="17" fill="#fc8d59"/>
<rect x="341" y="629" width="17" height="17" fill="#fdbb84"/>
<rect x="358" y="629" width="34" height="17" fill="#fdd49e"/>
<rect x="443" y="629" width="17" height="17" fill="#fee8c8"/>
<rect x="460" y="629" width="17" height="17" fill="#fdd49e"/>
<rect x="511" y="629" width="17" height="17" fill="#fdd49e"/>
<rect x="595" y="629" width="34" height="17" fill="#fdd49e"/>
<rect x="680" y="629" width="119" height="17" fill="#fee8c8"/>
<rect x="1155" y="629" width="17" height="17" fill="#fee8c8"/>
<rect x="307" y="646" width="17" height="17" fill="#fdd49e"/>
<rect x="324" y="646" width="51" height="17" fill="#fdbb84"/>
<rect x="375" y="646" width="17" height="17" fill="#fc8d59"/>
<rect x="392" y="646" width="17" height="17" fill="#fdbb84"/>
<rect x="409" y="646" width="17" height="17" fill="#fee8c8"/>
<rect x="460" y="646" width="34" height="17" fill="#fdbb84"/>
<rect x="494" y="646" width="17" height="17" fill="#fdd49e"/>
<rect x="595" y="646" width="17" height="17" fill="#fee8c8"/>
<rect x="612" y="646" width="17" height="17" fill="#fdd49e"/>
<rect x="629" y="646" width="17" height="17" fill="#fee8c8"/>
<rect x="697" y="646" width="34" height="17" fill="#fee8c8"/>
<rect x="731" y="646" width="68" height="17" fill="#fdd49e"/>
<rect x="799" y="646" width="17" height="17" fill="#fee8c8"/>
<rect x="1036" y="646" width="17" height="17" fill="#fee8c8"/>
<rect x="1172" y="646" width="17" height="17" fill="#fee8c8"/>
<rect x="375" y="663" width="17" height="17" fill="#fee8c8"/>
<rect x="392" y="663" width="17" height="17" fill="#fdbb84"/>
<rect x="409" y="663" width="17" height="17" fill="#ef6548"/>
<rect x="426" y="663" width="34" height="17" fill="#fc8d59"/>
<rect x="460" y="663" width="17" height="17" fill="#d7301f"/>
<rect x="477" y="663" width="17" height="17" fill="#ef6548"/>
<rect x="494" y="663" width="17" height="17" fill="#fdd49e"/>
<rect x="545" y="663" width="17" height="17" fill="#fee8c8"/>
<rect x="595" y="663" width="34" height="17" fill="#fee8c8"/>
<rect x="680" y="663" width="68" height="17" fill="#fee8c8"/>
<rect x="765" y="663" width="34" height="17" fill="#fee8c8"/>
<rect x="799" y="663" width="34" height="17" fill="#fdd49e"/>
<rect x="409" y="680" width="17" height="17" fill="#fee8c8"/>
<rect x="426" y="680" width="17" height="17" fill="#fc8d59"/>
<rect x="443" y="680" width="17" height="17" fill="#ef6548"/>
<rect x="460" y="680" width="17" height="17" fill="#fc8d59"/>
<rect x="477" y="680" width="17" height="17" fill="#fee8c8"/>
<rect x="545" y="680" width="17" height="17" fill="#fee8c8"/>
<rect x="646" y="680" width="68" height="17" fill="#fee8c8"/>
<rect x="799" y="680" width="34" height="17" fill="#fee8c8"/>
<rect x="968" y="680" width="34" height="17" fill="#fee8c8"/>
<rect x="375" y="697" width="17" height="17" fill="#fee8c8"/>
<rect x="562" y="697" width="17" height="17" fill="#fdd49e"/>
<rect x="579" y="697" width="16" height="17" fill="#fee8c8"/>
<rect x="612" y="697" width="17" height="17" fill="#fee8c8"/>
<rect x="697" y="697" width="17" height="17" fill="#fee8c8"/>
<rect x="833" y="697" width="34" height="17" fill="#fee8c8"/>
<rect x="934" y="697" width="17" height="17" fill="#fee8c8"/>
<rect x="545" y="714" width="17" height="17" fill="#fee8c8"/>
<rect x="562" y="714" width="17" height="17" fill="#fdbb84"/>
<rect x="579" y="714" width="16" height="17" fill="#fee8c8"/>
<rect x="595" y="714" width="17" height="17" fill="#fdd49e"/>
<rect x="612" y="714" width="17" height="17" fill="#fdbb84"/>
<rect x="629" y="714" width="17" height="17" fill="#fdd49e"/>
<rect x="731" y="714" width="17" height="17" fill="#fee8c8"/>
<rect x="901" y="714" width="33" height="17" fill="#fee8c8"/>
<rect x="1172" y="714" width="17" height="17" fill="#fee8c8"/>
<rect x="545" y="731" width="17" height="17" fill="#fee8c8"/>
<rect x="562" y="731" width="17" height="17" fill="#fdbb84"/>
<rect x="579" y="731" width="16" height="17" fill="#fee8c8"/>
<rect x="612" y="731" width="17" height="17" fill="#fee8c8"/>
<rect x="629" y="731" width="34" height="17" fill="#fdbb84"/>
<rect x="663" y="731" width="17" height="17" fill="#fdd49e"/>
<rect x="680" y="731" width="17" height="17" fill="#fee8c8"/>
<rect x="714" y="731" width="17" height="17" fill="#fee8c8"/>
<rect x="1189" y="731" width="17" height="17" fill="#fee8c8"/>
<rect x="562" y="748" width="17" height="16" fill="#fee8c8"/>
<rect x="646" y="748" width="17" height="16" fill="#fee8c8"/>
<rect x="663" y="748" width="34" height="16" fill="#fdd49e"/>
<rect x="697" y="748" width="34" height="16" fill="#fee8c8"/>
<rect x="1121" y="748" width="17" height="16" fill="#fee8c8"/>
<rect x="1324" y="748" width="17" height="16" fill="#fee8c8"/>
<rect x="1002" y="764" width="17" height="17" fill="#fee8c8"/>
<rect x="1087" y="764" width="17" height="17" fill="#fee8c8"/>
<rect x="1239" y="764" width="51" height="17" fill="#fee8c8"/>
<rect x="1324" y="764" width="17" height="17" fill="#fee8c8"/>
<rect x="1239" y="781" width="17" height="17" fill="#fee8c8"/>
<rect x="1070" y="798" width="34" height="17" fill="#fee8c8"/>
<rect x="1138" y="798" width="17" height="17" fill="#fee8c8"/>
<rect x="1155" y="798" width="17" height="17" fill="#fdd49e"/>
<rect x="1172" y="798" width="34" height="17" fill="#fee8c8"/>
<rect x="1290" y="798" width="34" height="17" fill="#fee8c8"/>
<rect x="697" y="815" width="17" height="17" fill="#fdd49e"/>
<rect x="714" y="815" width="17" height="17" fill="#fee8c8"/>
<rect x="748" y="815" width="17" height="17" fill="#fee8c8"/>
<rect x="1070" y="815" width="34" height="17" fill="#fee8c8"/>
<rect x="1121" y="815" width="17" height="17" fill="#fdd49e"/>
<rect x="1138" y="815" width="17" height="17" fill="#fdbb84"/>
<rect x="1155" y="815" width="17" height="17" fill="#fdd49e"/>
<rect x="1172" y="815" width="17" height="17" fill="#fee8c8"/>
<rect x="1189" y="815" width="17" height="17" fill="#fdd49e"/>
<rect x="1206" y="815" width="33" height="17" fill="#fee8c8"/>
<rect x="1256" y="815" width="17" height="17" fill="#fee8c8"/>
<rect x="1273" y="815" width="17" height="17" fill="#fdd49e"/>
<rect x="1290" y="815" width="34" height="17" fill="#fee8c8"/>
<rect x="680" y="832" width="17" height="17" fill="#fee8c8"/>
<rect x="697" y="832" width="34" height="17" fill="#fdd49e"/>
<rect x="731" y="832" width="17" height="17" fill="#fee8c8"/>
<rect x="748" y="832" width="68" height="17" fill="#fdd49e"/>
<rect x="816" y="832" width="17" height="17" fill="#fee8c8"/>
<rect x="1036" y="832" width="85" height="17" fill="#fee8c8"/>
<rect x="1121" y="832" width="34" height="17" fill="#fdbb84"/>
<rect x="1155" y="832" width="17" height="17" fill="#fee8c8"/>
<rect x="1206" y="832" width="17" height="17" fill="#fee8c8"/>
<rect x="1223" y="832" width="16" height="17" fill="#fdbb84"/>
<rect x="1239" y="832" width="85" height="17" fill="#fee8c8"/>
<rect x="646" y="849" width="17" height="17" fill="#fee8c8"/>
<rect x="663" y="849" width="34" height="17" fill="#fdd49e"/>
<rect x="697" y="849" width="85" height="17" fill="#fee8c8"/>
<rect x="799" y="849" width="17" height="17" fill="#fee8c8"/>
<rect x="816" y="849" width="17" height="17" fill="#fdd49e"/>
<rect x="833" y="849" width="17" height="17" fill="#fdbb84"/>
<rect x="850" y="849" width="17" height="17" fill="#fdd49e"/>
<rect x="867" y="849" width="17" height="17" fill="#fee8c8"/>
<rect x="1036" y="849" width="68" height="17" fill="#fee8c8"/>
<rect x="1104" y="849" width="17" height="17" fill="#fdd49e"/>
<rect x="1121" y="849" width="17" height="17" fill="#fdbb84"/>
<rect x="1138" y="849" width="17" height="17" fill="#fdd49e"/>
<rect x="1155" y="849" width="17" height="17" fill="#fee8c8"/>
<rect x="1256" y="849" width="17" height="17" fill="#fdd49e"/>
<rect x="1273" y="849" width="17" height="17" fill="#fee8c8"/>
<rect x="1324" y="849" width="17" height="17" fill="#fee8c8"/>
<rect x="595" y="866" width="68" height="17" fill="#fee8c8"/>
<rect x="663" y="866" width="17" height="17" fill="#fdd49e"/>
<rect x="680" y="866" width="119" height="17" fill="#fee8c8"/>
<rect x="799" y="866" width="17" height="17" fill="#fdd49e"/>
<rect x="816" y="866" width="101" height="17" fill="#fee8c8"/>
<rect x="1002" y="866" width="17" height="17" fill="#fee8c8"/>
<rect x="1036" y="866" width="85" height="17" fill="#fee8c8"/>
<rect x="1121" y="866" width="34" height="17" fill="#fdbb84"/>
<rect x="1155" y="866" width="17" height="17" fill="#fdd49e"/>
<rect x="1172" y="866" width="17" height="17" fill="#fee8c8"/>
<rect x="1256" y="866" width="17" height="17" fill="#fdbb84"/>
<rect x="1273" y="866" width="17" height="17" fill="#fc8d59"/>
<rect x="1290" y="866" width="17" height="17" fill="#fee8c8"/>
<rect x="358" y="883" width="17" height="17" fill="#fee8c8"/>
<rect x="443" y="883" width="136" height="17" fill="#fee8c8"/>
<rect x="579" y="883" width="50" height="17" fill="#fdd49e"/>
<rect x="629" y="883" width="34" height="17" fill="#fee8c8"/>
<rect x="680" y="883" width="34" height="17" fill="#fee8c8"/>
<rect x="714" y="883" width="34" height="17" fill="#fdd49e"/>
<rect x="748" y="883" width="17" height="17" fill="#fee8c8"/>
<rect x="782" y="883" width="34" height="17" fill="#fee8c8"/>
<rect x="816" y="883" width="17" height="17" fill="#fdbb84"/>
<rect x="833" y="883" width="17" height="17" fill="#fee8c8"/>
<rect x="884" y="883" width="17" height="17" fill="#fee8c8"/>
<rect x="917" y="883" width="102" height="17" fill="#fee8c8"/>
<rect x="1036" y="883" width="34" height="17" fill="#fee8c8"/>
<rect x="1070" y="883" width="34" height="17" fill="#fdd49e"/>
<rect x="1104" y="883" width="34" height="17" fill="#fee8c8"/>
<rect x="1138" y="883" width="34" height="17" fill="#fdbb84"/>
<rect x="1172" y="883" width="17" height="17" fill="#fdd49e"/>
<rect x="1189" y="883" width="17" height="17" fill="#fee8c8"/>
<rect x="1256" y="883" width="17" height="17" fill="#fdd49e"/>
<rect x="1273" y="883" width="17" height="17" fill="#fc8d59"/>
<rect x="1290" y="883" width="17" height="17" fill="#fee8c8"/>
<rect x="358" y="900" width="187" height="17" fill="#fee8c8"/>
<rect x="545" y="900" width="67" height="17" fill="#fdd49e"/>
<rect x="612" y="900" width="34" height="17" fill="#fee8c8"/>
<rect x="663" y="900" width="51" height="17" fill="#fee8c8"/>
<rect x="714" y="900" width="17" height="17" fill="#fdd49e"/>
<rect x="731" y="900" width="17" height="17" fill="#fee8c8"/>
<rect x="799" y="900" width="17" height="17" fill="#fee8c8"/>
<rect x="816" y="900" width="17" height="17" fill="#fdd49e"/>
<rect x="833" y="900" width="17" height="17" fill="#fee8c8"/>
<rect x="968" y="900" width="85" height="17" fill="#fee8c8"/>
<rect x="1104" y="900" width="34" height="17" fill="#fee8c8"/>
<rect x="1138" y="900" width="34" height="17" fill="#fdd49e"/>
<rect x="1172" y="900" width="34" height="17" fill="#fee8c8"/>
<rect x="1239" y="900" width="17" height="17" fill="#fee8c8"/>
<rect x="307" y="917" width="255" height="17" fill="#fee8c8"/>
<rect x="562" y="917" width="50" height="17" fill="#fdd49e"/>
<rect x="612" y="917" width="51" height="17" fill="#fee8c8"/>
<rect x="680" y="917" width="68" height="17" fill="#fee8c8"/>
<rect x="884" y="917" width="33" height="17" fill="#fee8c8"/>
<rect x="985" y="917" width="34" height="17" fill="#fee8c8"/>
<rect x="1019" y="917" width="17" height="17" fill="#fdd49e"/>
<rect x="1036" y="917" width="17" height="17" fill="#fee8c8"/>
<rect x="1087" y="917" width="17" height="17" fill="#fee8c8"/>
<rect x="307" y="934" width="136" height="17" fill="#fee8c8"/>
<rect x="443" y="934" width="17" height="17" fill="#fdd49e"/>
<rect x="460" y="934" width="119" height="17" fill="#fee8c8"/>
<rect x="579" y="934" width="33" height="17" fill="#fdd49e"/>
<rect x="612" y="934" width="34" height="17" fill="#fee8c8"/>
<rect x="663" y="934" width="51" height="17" fill="#fee8c8"/>
<rect x="884" y="934" width="33" height="17" fill="#fee8c8"/>
<rect x="1019" y="934" width="17" height="17" fill="#fdd49e"/>
<rect x="1036" y="934" width="17" height="17" fill="#fee8c8"/>
<rect x="1087" y="934" width="17" height="17" fill="#fee8c8"/>
<rect x="1223" y="934" width="16" height="17" fill="#fee8c8"/>
<rect x="307" y="951" width="170" height="17" fill="#fee8c8"/>
<rect x="477" y="951" width="34" height="17" fill="#fdd49e"/>
<rect x="511" y="951" width="51" height="17" fill="#fee8c8"/>
<rect x="612" y="951" width="68" height="17" fill="#fee8c8"/>
<rect x="917" y="951" width="17" height="17" fill="#fee8c8"/>
<rect x="1002" y="951" width="34" height="17" fill="#fee8c8"/>
<rect x="1070" y="951" width="17" height="17" fill="#fee8c8"/>
<rect x="1223" y="951" width="16" height="17" fill="#fdd49e"/>
<rect x="307" y="968" width="34" height="17" fill="#fdd49e"/>
<rect x="341" y="968" width="51" height="17" fill="#fee8c8"/>
<rect x="460" y="968" width="17" height="17" fill="#fdd49e"/>
<rect x="477" y="968" width="34" height="17" fill="#fdbb84"/>
<rect x="511" y="968" width="17" height="17" fill="#fdd49e"/>
<rect x="528" y="968" width="17" height="17" fill="#fee8c8"/>
<rect x="629" y="968" width="34" height="17" fill="#fee8c8"/>
<rect x="917" y="968" width="34" height="17" fill="#fee8c8"/>
<rect x="1002" y="968" width="51" height="17" fill="#fee8c8"/>
<rect x="1206" y="968" width="17" height="17" fill="#fee8c8"/>
<rect x="1239" y="968" width="17" height="17" fill="#fee8c8"/>
<rect x="1324" y="968" width="17" height="17" fill="#fee8c8"/>
<rect x="307" y="985" width="17" height="17" fill="#fdbb84"/>
<rect x="324" y="985" width="17" height="17" fill="#fdd49e"/>
<rect x="341" y="985" width="34" height="17" fill="#fee8c8"/>
<rect x="392" y="985" width="17" height="17" fill="#fee8c8"/>
<rect x="443" y="985" width="17" height="17" fill="#fdd49e"/>
<rect x="1189" y="985" width="17" height="17" fill="#fdd49e"/>
<rect x="1239" y="985" width="17" height="17" fill="#fee8c8"/>
<rect x="1307" y="985" width="17" height="17" fill="#fee8c8"/>
<rect x="1324" y="985" width="17" height="17" fill="#fdd49e"/>
<rect x="307" y="1002" width="34" height="17" fill="#fee8c8"/>
<rect x="358" y="1002" width="85" height="17" fill="#fee8c8"/>
<rect x="443" y="1002" width="17" height="17" fill="#fdd49e"/>
<rect x="460" y="1002" width="34" height="17" fill="#fc8d59"/>
<rect x="494" y="1002" width="17" height="17" fill="#fdd49e"/>
<rect x="528" y="1002" width="17" height="17" fill="#fee8c8"/>
<rect x="545" y="1002" width="17" height="17" fill="#fdd49e"/>
<rect x="562" y="1002" width="17" height="17" fill="#fee8c8"/>
<rect x="612" y="1002" width="17" height="17" fill="#fee8c8"/>
<rect x="985" y="1002" width="34" height="17" fill="#fee8c8"/>
<rect x="1019" y="1002" width="17" height="17" fill="#fdd49e"/>
<rect x="1036" y="1002" width="34" height="17" fill="#fee8c8"/>
<rect x="1189" y="1002" width="17" height="17" fill="#fdd49e"/>
<rect x="1290" y="1002" width="51" height="17" fill="#fee8c8"/>
<rect x="375" y="1019" width="85" height="17" fill="#fee8c8"/>
<rect x="460" y="1019" width="34" height="17" fill="#fdd49e"/>
<rect x="494" y="1019" width="17" height="17" fill="#fee8c8"/>
<rect x="545" y="1019" width="17" height="17" fill="#fee8c8"/>
<rect x="985" y="1019" width="34" height="17" fill="#fee8c8"/>
<rect x="1019" y="1019" width="17" height="17" fill="#fdd49e"/>
<rect x="1036" y="1019" width="17" height="17" fill="#fee8c8"/>
<rect x="1172" y="1019" width="34" height="17" fill="#fdd49e"/>
<rect x="1273" y="1019" width="17" height="17" fill="#fee8c8"/>
<rect x="358" y="1036" width="85" height="17" fill="#fee8c8"/>
<rect x="443" y="1036" width="17" height="17" fill="#fdd49e"/>
<rect x="460" y="1036" width="17" height="17" fill="#fee8c8"/>
<rect x="663" y="1036" width="17" height="17" fill="#fee8c8"/>
<rect x="985" y="1036" width="51" height="17" fill="#fdd49e"/>
<rect x="1036" y="1036" width="17" height="17" fill="#fee8c8"/>
<rect x="1172" y="1036" width="17" height="17" fill="#fdbb84"/>
<rect x="1189" y="1036" width="17" height="17" fill="#fee8c8"/>
<rect x="1256" y="1036" width="17" height="17" fill="#fee8c8"/>
</g>
<rect x="455.9" y="975.1" width="735.3" height="37.4" rx="7.5" ry="7.5" fill="#fff" stroke="#007a00" stroke-width="3.0"/>
<text x="464.5" y="1000.5" font-size="26.3" textLength="54.8" lengthAdjust="spacingAndGlyphs">Máx.</text>
<text x="527.0" y="1000.5" font-size="26.3" textLength="128.1" lengthAdjust="spacingAndGlyphs">circulación</text>
<text x="662.8" y="1000.5" font-size="26.3" textLength="128.1" lengthAdjust="spacingAndGlyphs">(Promedio)</text>
<text x="798.6" y="1000.5" font-size="26.3" textLength="123.9" lengthAdjust="spacingAndGlyphs">3.44×10⁻⁵</text>
<text x="930.2" y="1000.5" font-size="26.3" textLength="33.4" lengthAdjust="spacingAndGlyphs">s⁻¹</text>
<text x="971.3" y="1000.5" font-size="26.3" textLength="29.7" lengthAdjust="spacingAndGlyphs">en</text>
<text x="1008.7" y="1000.5" font-size="26.3" textLength="68.6" lengthAdjust="spacingAndGlyphs">8.5°N</text>
<text x="1085.0" y="1000.5" font-size="26.3" textLength="99.0" lengthAdjust="spacingAndGlyphs">100.0°W</text>
<g fill="none" stroke="#000" stroke-width="1.6" stroke-linejoin="round" stroke-linecap="round">
<path d="M313.0 193.0 L673.7 193.0 L673.7 196.4 L673.7 198.9 L676.2 201.4 L670.3 203.9 L666.1 208.1 L670.3 213.1 L677.0 218.1 L683.7 220.6 L687.9 223.9 L685.4 226.5 L679.5 228.1 L675.3 227.3 L670.3 223.9 L663.6 219.8 L656.9 215.6 L650.2 213.1 L652.8 218.1 L651.1 223.9 L647.7 225.6 L643.6 220.6 L636.9 219.8 L631.9 223.1 L625.2 223.9 L618.5 222.3 L611.8 219.8 L612.6 215.6 L608.5 212.2 L600.9 209.7 L596.7 204.7 L590.1 202.2 L585.0 203.9 L582.5 208.1 L576.7 209.7 L570.0 210.6 L564.5 209.7 L554.4 205.6 L544.4 203.4 L531.0 203.9 L522.7 205.6 L512.6 208.9 L502.6 213.1 L494.2 218.1 L487.6 222.3 L480.9 226.1 L474.2 230.6 L465.8 235.6 L457.5 239.8 L449.1 244.0 L440.7 249.0 L434.1 253.2 L427.4 257.4 L420.7 261.6 L415.7 265.7 L411.5 271.6 L408.1 279.1 L405.6 286.6 L404.0 295.0 L405.6 305.0 L408.1 315.1 L410.7 325.1 L412.0 333.4 L410.7 341.8 L407.3 350.2 L403.1 360.2 L399.0 371.9 L395.6 381.9 L396.4 380.0 L393.9 390.0 L392.6 405.1 L392.3 421.8 L391.4 435.2 L388.6 443.5 L389.3 453.6 L391.4 465.3 L395.6 475.3 L401.5 482.0 L406.5 480.3 L405.6 487.0 L403.1 491.2 L407.3 500.4 L411.5 510.4 L417.3 518.8 L424.0 527.1 L430.7 535.5 L436.6 542.2 L439.1 550.5 L440.7 557.2 L445.8 562.2 L450.8 567.2 L455.8 573.9 L464.2 578.1 L474.2 578.9 L482.6 581.5 L488.5 585.2 L495.2 591.9 L500.2 596.9 L510.2 596.9 L520.2 593.6 L530.3 590.2 L540.3 588.5 L550.3 586.9 L560.4 583.5 L570.4 581.0 L580.4 579.3 L588.0 578.5 L590.5 583.5 L597.2 586.9 L603.8 586.9 L608.9 583.5 L610.5 578.5 L607.2 575.2 L613.9 570.2 L621.4 565.1 L627.2 559.3 L630.6 551.8 L632.3 543.4 L637.3 538.4 L638.9 528.4 L638.9 520.0 L638.7 516.9 L640.1 506.8 L642.6 500.2 L650.1 495.1 L660.1 491.0 L673.5 488.8 L686.9 487.1 L696.9 484.8 L705.3 481.8 L717.0 480.4 L727.0 481.4 L737.0 482.6 L745.4 482.1 L752.1 480.1 L757.1 481.8 L762.1 485.9 L763.4 493.5 L762.1 501.8 L757.1 510.2 L752.1 516.0 L747.1 521.9 L742.9 528.6 L740.4 535.3 L740.4 540.3 L735.4 546.1 L737.0 550.3 L742.0 550.3 L735.4 555.3 L735.4 560.3 L738.7 559.5 L737.0 567.0 L733.7 577.1 L730.3 587.1 L727.0 594.1 L723.7 588.8 L721.6 577.1 L717.0 582.1 L712.8 589.1 L720.3 589.6 L720.8 598.0 L718.6 603.8 L716.1 610.5 L713.6 618.9 L714.5 627.2 L712.8 637.2 L712.0 645.6 L713.6 640.0 L712.7 646.7 L710.2 653.4 L706.0 659.2 L698.5 663.4 L694.3 669.3 L691.8 672.6 L696.8 674.3 L702.7 673.4 L710.2 677.6 L717.7 680.1 L723.6 676.8 L731.1 674.3 L736.1 675.1 L740.3 677.6 L748.7 677.1 L760.4 678.8 L770.4 678.1 L778.8 676.8 L785.4 673.4 L791.3 670.9 L798.8 671.8 L807.2 674.3 L817.2 673.4 L823.9 671.8 L832.3 673.4 L840.6 675.9 L849.0 678.5 L855.7 682.6 L862.4 687.6 L869.0 691.8 L875.7 695.2 L880.7 698.5 L885.8 705.2 L882.4 710.2 L884.1 718.6 L884.9 726.9 L881.6 735.3 L878.2 743.7 L874.9 753.7 L873.2 763.7 L874.1 773.7 L873.2 782.1 L871.5 790.5 L869.0 798.8 L867.4 808.9 L868.2 815.5 L864.9 823.9 L863.2 832.3 L866.1 836.7 L870.2 843.4 L872.8 850.1 L876.9 858.4 L883.6 866.8 L890.3 875.1 L897.0 883.5 L903.7 888.5 L910.4 892.7 L917.1 896.0 L914.6 900.2 L918.7 905.2 L922.1 909.4 L928.8 910.2 L932.1 908.6 L929.6 903.6 L935.4 906.1 L940.5 911.9 L947.2 915.3 L957.2 915.3 L965.5 911.9 L973.9 906.9 L982.3 903.6 L990.6 899.4 L999.0 893.5 L1007.3 887.7 L1015.7 888.5 L1024.1 891.0 L1030.7 893.5 L1040.8 893.5 L1050.8 895.2 L1051.1 896.5 L1062.3 903.0 L1071.6 910.5 L1079.0 917.9 L1086.4 927.2 L1093.9 934.6 L1099.4 939.3 L1102.2 943.9 L1104.1 938.3 L1102.2 929.0 L1099.4 923.5 L1105.0 918.8 L1114.3 913.3 L1121.7 906.7 L1127.3 899.3 L1132.9 893.7 L1140.3 891.9 L1142.2 886.3 L1140.3 880.7 L1142.2 871.5 L1144.0 864.0 L1147.7 854.7 L1155.2 845.4 L1162.6 838.9 L1170.0 836.2 L1177.5 838.0 L1181.2 842.7 L1184.9 847.3 L1187.7 841.7 L1188.6 838.0 L1190.5 832.4 L1196.0 829.7 L1207.2 830.6 L1218.3 829.7 L1227.6 825.0 L1236.9 818.5 L1246.2 813.9 L1255.5 810.2 L1260.1 804.6 L1261.1 799.0 L1268.5 795.3 L1277.8 792.0 L1287.1 794.4 L1292.6 799.9 L1293.6 805.5 L1288.9 810.2 L1281.5 813.9 L1272.2 816.7 L1266.6 819.4 L1267.6 826.9 L1272.2 836.2 L1276.8 839.9 L1275.9 845.4 L1281.5 847.3 L1283.3 841.7 L1290.8 838.9 L1300.1 835.2 L1309.3 831.5 L1318.6 827.8 L1327.9 824.1 L1332.8 822.2 L1336.0 822.2 L1336.0 1047.0 L1084.8 1047.0 L1083.3 1042.5 L1082.8 1033.3 L1079.5 1024.5 L1086.1 1017.9 L1081.7 1000.3 L1077.3 985.0 L1066.3 969.6 L1057.5 956.4 L1048.7 939.9 L1048.3 940.3 L1052.5 937.0 L1059.2 930.3 L1057.5 926.1 L1052.5 928.6 L1048.3 929.5 L1045.8 923.6 L1040.8 918.6 L1035.8 913.6 L1029.1 908.6 L1020.7 907.7 L1012.4 908.6 L1004.8 911.9 L1002.3 918.6 L999.0 922.8 L990.6 928.6 L982.3 932.0 L978.9 935.3 L982.3 940.3 L987.3 947.0 L993.1 955.4 L990.6 959.6 L982.3 962.1 L973.9 967.1 L965.5 968.8 L962.2 962.1 L958.9 952.0 L957.2 945.4 L953.0 947.0 L951.3 954.6 L943.8 952.0 L938.8 947.0 L935.4 942.0 L927.1 937.0 L919.6 934.5 L917.1 932.0 L913.7 932.0 L907.0 931.6 L900.3 931.1 L897.0 933.7 L897.0 939.5 L893.7 936.2 L888.6 930.3 L886.1 924.5 L881.1 920.3 L876.9 920.3 L882.0 924.5 L880.3 928.6 L871.9 926.1 L867.7 922.0 L870.2 920.3 L871.9 913.6 L869.4 906.9 L865.2 901.9 L860.2 898.5 L851.9 893.5 L843.5 889.3 L836.8 885.2 L836.0 880.2 L831.8 875.1 L825.9 871.8 L819.3 867.6 L815.1 866.8 L822.6 873.5 L827.6 876.8 L825.9 881.0 L820.1 888.5 L816.7 885.2 L810.1 880.2 L803.4 876.8 L797.5 870.1 L796.7 863.4 L799.2 856.7 L802.5 848.4 L800.0 838.4 L796.3 834.8 L790.5 828.9 L783.8 822.2 L777.1 815.5 L770.4 808.9 L764.6 802.2 L758.7 797.2 L752.0 791.3 L745.3 785.4 L738.6 778.8 L733.6 774.6 L736.1 772.1 L740.3 772.1 L744.5 773.7 L743.7 768.7 L740.3 765.4 L737.0 760.4 L730.3 760.4 L726.9 763.7 L720.2 766.2 L710.2 766.2 L698.5 764.6 L690.2 762.0 L680.1 757.9 L670.1 755.4 L660.1 752.8 L650.0 747.0 L640.0 742.8 L637.5 741.3 L627.0 740.2 L612.3 739.2 L601.7 734.9 L591.2 727.6 L580.4 722.0 L575.4 717.3 L568.7 710.6 L560.4 702.2 L552.0 694.7 L543.7 687.2 L535.3 680.5 L526.9 673.8 L520.2 668.0 L511.9 664.6 L503.5 662.1 L496.8 659.6 L491.8 660.4 L488.5 657.1 L485.1 660.4 L480.1 665.4 L470.1 671.3 L460.1 674.6 L450.0 678.8 L440.0 681.8 L433.3 682.0 L418.6 676.7 L405.9 672.5 L391.2 670.4 L378.6 664.1 L365.9 659.9 L357.5 652.5 L344.9 650.4 L328.1 647.3 L315.4 639.9 L313.0 639.9Z"/>
<path d="M866.9 193.0 L873.6 204.7 L880.2 212.2 L886.9 218.1 L893.6 223.1 L900.3 229.0 L903.7 234.8 L904.5 243.2 L902.0 251.5 L899.5 259.9 L898.6 266.6 L900.3 271.6 L907.0 272.4 L904.5 266.6 L908.7 266.6 L911.2 269.9 L907.0 275.8 L902.0 280.0 L905.3 286.6 L910.3 293.3 L915.4 300.0 L920.4 302.5 L922.9 298.3 L923.7 308.4 L922.0 315.1 L928.7 313.4 L932.1 318.4 L933.7 325.1 L938.8 331.8 L945.4 336.0 L950.5 341.8 L953.8 348.5 L958.0 353.5 L961.3 355.2 L955.5 356.9 L957.2 360.2 L964.7 361.0 L972.2 358.5 L978.9 355.2 L982.2 351.0 L983.1 345.2 L987.2 338.5 L989.8 331.8 L992.3 321.7 L993.1 311.7 L992.3 301.7 L988.9 291.7 L983.9 280.0 L979.7 269.9 L975.5 258.2 L970.5 246.5 L965.5 236.5 L960.5 225.6 L955.5 214.7 L951.3 204.7 L948.8 193.0Z"/>
<path d="M806.6 193.0 L810.7 203.9 L817.4 206.4 L827.5 204.7 L811.7 205.6 L820.1 207.2 L828.4 204.7 L836.8 200.5 L845.1 198.0 L847.6 193.0Z"/>
<path d="M828.4 471.9 L836.7 466.9 L845.1 464.4 L845.1 456.8 L848.4 450.2 L855.9 445.1 L866.8 440.1 L878.5 435.1 L890.2 432.6 L903.6 430.1 L913.6 427.6 L923.7 426.7 L937.0 428.4 L950.4 428.4 L953.7 430.9 L962.1 430.1 L972.1 429.8 L980.5 434.3 L988.9 435.1 L997.2 437.6 L1003.9 443.5 L1010.6 450.2 L1018.9 453.5 L1029.0 454.3 L1037.3 455.2 L1045.7 458.5 L1054.1 463.5 L1062.4 468.5 L1070.8 473.6 L1079.1 477.7 L1087.5 482.8 L1094.7 487.7 L1103.3 490.3 L1112.0 492.0 L1120.7 494.6 L1129.3 497.2 L1136.3 497.2 L1141.5 499.8 L1143.2 505.0 L1138.0 508.5 L1143.2 510.2 L1153.6 510.7 L1162.3 512.8 L1171.0 517.2 L1179.6 522.4 L1188.3 524.1 L1192.6 526.7 L1190.0 531.0 L1181.4 532.8 L1172.7 534.5 L1164.0 536.2 L1157.1 538.8 L1146.7 538.8 L1136.3 537.1 L1125.9 536.7 L1112.0 537.1 L1098.1 538.5 L1084.3 539.7 L1071.3 540.2 L1077.3 533.6 L1084.3 528.4 L1090.3 523.2 L1092.1 518.0 L1080.8 512.8 L1070.8 512.0 L1060.7 509.5 L1054.1 505.3 L1047.4 500.3 L1044.0 493.6 L1040.7 486.1 L1035.7 481.9 L1029.0 481.1 L1020.6 482.8 L1013.9 481.1 L1005.6 478.6 L997.2 476.1 L988.9 472.7 L982.2 468.5 L977.2 463.5 L970.5 464.4 L962.1 465.2 L955.4 463.5 L952.9 458.5 L948.7 464.4 L945.4 462.7 L937.0 461.0 L927.8 457.7 L923.7 454.3 L930.3 451.8 L935.4 449.3 L934.5 446.0 L927.0 443.8 L913.6 443.5 L900.2 444.3 L891.9 449.3 L883.5 454.3 L875.2 459.3 L866.8 461.9 L858.5 464.4 L855.9 468.5 L848.4 470.2 L841.7 471.9 L840.9 475.2 L835.0 471.1Z"/>
<path d="M885.2 480.2 L888.5 476.1 L890.2 471.1 L895.2 469.4 L901.9 471.1 L905.3 476.1 L906.9 481.1 L900.2 484.4 L893.6 486.1 L887.7 484.4Z"/>
<path d="M1049.8 592.6 L1053.1 588.2 L1066.3 585.3 L1077.3 586.6 L1088.3 588.8 L1099.3 591.5 L1110.3 595.9 L1119.1 600.3 L1122.4 605.8 L1114.7 607.3 L1103.7 605.8 L1094.9 608.0 L1088.3 613.0 L1081.7 609.1 L1072.9 608.0 L1064.1 604.7 L1059.7 599.2 L1050.9 594.8Z"/>
<path d="M1216.9 542.3 L1221.2 539.7 L1229.9 538.0 L1240.3 538.8 L1250.7 541.4 L1261.1 544.0 L1271.5 544.9 L1276.7 540.6 L1285.4 538.8 L1294.1 539.7 L1302.7 538.8 L1309.7 542.3 L1318.3 544.0 L1325.3 546.6 L1336.0 547.5 L1336.0 590.8 L1327.0 592.6 L1320.1 593.4 L1311.4 591.7 L1302.7 593.4 L1294.1 597.8 L1290.6 604.7 L1287.1 611.6 L1283.7 615.1 L1278.5 609.0 L1275.0 602.1 L1269.8 596.9 L1261.1 595.2 L1250.7 596.0 L1240.3 596.9 L1229.9 595.2 L1219.5 594.3 L1210.8 596.0 L1203.9 599.5 L1197.0 597.8 L1190.0 595.2 L1183.1 591.7 L1181.4 586.5 L1186.6 582.2 L1195.2 581.3 L1205.6 583.0 L1216.0 584.8 L1226.4 585.6 L1236.8 587.4 L1242.0 584.8 L1249.0 583.9 L1252.4 580.4 L1249.0 577.0 L1243.8 571.8 L1238.6 566.6 L1240.3 561.4 L1238.6 554.4 L1231.6 551.0 L1223.0 548.4 L1217.8 545.8Z"/>
<path d="M1221.2 571.8 L1228.2 570.9 L1236.8 576.1 L1235.1 578.7 L1227.3 577.0 L1222.1 573.5Z"/>
<path d="M1208.2 499.8 L1212.6 495.5 L1221.2 494.6 L1226.4 492.9 L1229.0 490.3 L1227.3 497.2 L1223.0 501.5 L1216.0 503.3 L1209.1 503.3Z"/>
<path d="M1027.6 308.4 L1035.1 314.3 L1041.8 313.4 L1050.2 310.9 L1064.4 309.3 L1064.4 306.7 L1050.2 307.6 L1044.3 306.7 L1041.0 305.1 L1039.3 309.3 L1033.4 310.1Z"/>
<path d="M1064.4 299.2 L1076.9 300.9 L1083.6 307.6 L1090.3 312.6 L1093.6 318.5 L1091.1 325.1 L1089.4 330.2 L1086.9 335.2 L1081.9 331.0 L1086.1 328.5 L1087.8 321.8 L1086.9 315.1 L1081.9 308.4 L1076.1 303.4 L1066.9 301.7Z"/>
<path d="M1050.2 378.6 L1053.5 373.6 L1057.7 368.6 L1056.0 360.2 L1060.2 359.4 L1066.0 366.9 L1070.2 375.3 L1069.4 382.0 L1063.5 387.0 L1060.2 389.5 L1056.8 383.7 L1052.7 382.0 L1046.8 378.6Z"/>
<path d="M1061.9 391.2 L1071.9 389.5 L1076.9 397.0 L1077.7 405.4 L1073.6 408.7 L1069.4 407.9 L1066.9 400.4 L1063.5 395.4Z"/>
<path d="M755.8 524.4 L757.1 519.4 L761.3 516.0 L765.1 516.0 L762.9 521.1 L758.8 526.1Z"/>
<path d="M930.4 957.1 L933.8 954.6 L936.3 958.7 L935.4 962.1 L939.6 964.6 L937.1 965.8 L932.1 962.9Z"/>
<path d="M1336.3 802.7 L1327.0 802.4 L1322.4 808.3 L1324.2 815.7 L1327.9 819.4 L1336.3 819.1Z"/>
<path d="M1277.8 847.3 L1274.1 856.6 L1268.5 865.9 L1262.0 878.9 L1265.7 888.2 L1272.2 897.5 L1275.9 904.9 L1283.3 905.8 L1290.8 903.0 L1296.3 895.6 L1297.3 884.5 L1293.6 873.3 L1288.0 864.0 L1283.3 854.7 L1280.6 848.2Z"/>
<path d="M591.3 582.7 L593.8 586.0 L602.2 587.7 L608.9 584.4 L610.5 578.5 L607.2 576.0 L600.5 577.7 L594.6 580.2Z"/>
<path d="M485.0 206.4 L488.4 204.7 L492.6 205.6 L494.2 209.7 L490.9 213.1 L489.2 217.3 L486.7 214.7 L487.6 210.6 L484.5 208.9Z"/>
<path d="M1102.8 350.2 L1105.3 346.9 L1113.7 351.9 L1120.4 356.1 L1125.4 361.9 L1124.6 370.3 L1123.7 377.8 L1118.7 372.0 L1122.9 371.1 L1122.9 362.8 L1117.0 356.9 L1108.7 351.9 L1102.8 350.2" stroke-width="1.9" fill="#000"/>
<path d="M1137.9 376.1 L1141.3 377.0 L1145.4 383.7 L1149.6 390.3 L1153.0 394.5 L1146.3 395.4 L1147.1 392.0 L1143.8 386.2 L1139.6 380.3 L1137.9 376.1" stroke-width="1.9" fill="#000"/>
<path d="M1127.9 411.2 L1133.7 413.7 L1141.3 418.8 L1133.7 416.3 L1127.9 411.2" stroke-width="1.9" fill="#000"/>
<path d="M1152.1 411.2 L1156.3 417.1 L1160.5 425.4 L1161.3 429.6 L1167.2 433.0 L1168.9 438.0 L1165.5 435.5 L1158.8 428.0 L1155.5 428.0 L1158.8 425.4 L1154.6 417.1 L1152.1 411.2" stroke-width="1.9" fill="#000"/>
<path d="M1178.0 397.0 L1180.6 395.0 L1183.1 397.0 L1181.4 401.2 L1178.6 401.2 L1178.0 397.0" stroke-width="1.9" fill="#000"/>
<path d="M1076.1 364.4 L1081.1 362.8 L1086.9 364.1 L1081.9 366.1 L1076.1 364.4" stroke-width="1.9" fill="#000"/>
<path d="M1186.4 438.8 L1192.3 443.0 L1198.9 444.7 L1203.1 443.0 L1202.3 448.9 L1195.6 455.5 L1187.2 461.4 L1192.3 455.5 L1198.9 449.7 L1198.1 445.5 L1190.6 444.7 L1186.4 438.8" stroke-width="1.5" fill="none"/>
<path d="M1225.7 453.0 L1234.1 453.9 L1239.9 456.4 L1233.2 455.5 L1225.7 453.0" stroke-width="1.9" fill="#000"/>
<path d="M1252.4 473.8 L1255.9 472.1 L1261.1 473.8 L1256.8 476.4 L1252.4 473.8" stroke-width="1.9" fill="#000"/>
<path d="M1264.6 466.9 L1268.0 472.1 L1276.7 472.9 L1277.6 475.5 L1269.8 474.7 L1264.6 470.3 L1264.6 466.9" stroke-width="1.5" fill="none"/>
<path d="M1230.8 482.5 L1233.4 484.2 L1230.8 485.9 L1229.0 484.2 L1230.8 482.5" stroke-width="1.9" fill="#000"/>
<path d="M1037.3 449.3 L1049.0 449.3 L1057.4 455.2 L1065.8 461.0 L1074.1 465.2 L1072.4 468.5 L1064.1 464.4 L1055.7 458.5 L1047.4 451.8 L1037.3 449.3" stroke-width="1.5" fill="none"/>
<path d="M1075.8 471.1 L1084.1 474.4 L1090.0 480.2 L1082.5 476.1 L1075.8 471.1" stroke-width="1.5" fill="none"/>
<path d="M1006.4 440.1 L1015.6 444.3 L1014.8 446.0 L1005.6 441.8 L1006.4 440.1" stroke-width="1.9" fill="#000"/>
<path d="M945.4 556.3 L950.4 558.0 L956.3 557.2 L956.3 559.7 L948.7 560.5 L945.4 558.8 L945.4 556.3" stroke-width="1.9" fill="#000"/>
<path d="M1023.2 933.7 L1024.9 931.1 L1026.6 933.7 L1024.9 935.7 L1023.2 933.7" stroke-width="1.9" fill="#000"/>
<path d="M1029.1 928.6 L1030.7 926.1 L1033.8 927.8 L1032.4 932.8 L1029.9 932.3 L1029.1 928.6" stroke-width="1.9" fill="#000"/>
<path d="M768.7 660.4 L773.7 657.6 L782.1 655.9 L773.7 659.7 L768.7 660.4" stroke-width="1.9" fill="#000"/>
<path d="M791.3 655.9 L793.8 653.4 L796.8 653.0 L793.8 656.7 L791.3 655.9" stroke-width="1.9" fill="#000"/>
<path d="M724.5 627.2 L727.0 619.7 L729.5 618.5 L727.0 625.5 L724.5 627.2" stroke-width="1.9" fill="#000"/>
<path d="M932.1 381.1 L938.8 377.8 L945.4 375.2 L950.5 374.4" stroke-width="2.4" stroke-dasharray="2.5 2"/>
<path d="M955.5 374.9 L965.5 371.9 L972.2 368.6 L980.6 361.9 L984.7 353.5" stroke-width="1.8"/>
</g>
<g fill="none" stroke="#000" stroke-width="0.95" stroke-linejoin="round">
<path d="M316.2 264.1 L323.7 270.8 L332.1 278.3 L333.7 288.3 L337.9 298.3 L342.9 307.5 L347.1 315.1 L357.2 320.1 L367.2 325.1 L377.2 329.3 L387.2 330.9 L397.3 333.4 L405.6 336.0 L411.5 333.4"/>
<path d="M580.4 719.8 L582.1 712.3 L583.8 703.9 L579.6 693.9 L587.1 680.5 L595.5 668.8 L639.8 668.5 L640.6 657.1 L633.9 652.1 L628.9 645.4 L620.6 638.7 L613.9 633.7 L607.2 628.7 L620.6 628.3 L621.4 610.3 L682.4 610.3"/>
<path d="M712.8 588.8 L705.3 587.1 L700.2 595.4 L695.2 603.0 L690.2 605.5 L686.9 603.0 L683.5 606.3 L682.7 609.7 L681.9 652.0"/>
<path d="M681.8 640.0 L680.6 674.3 L691.8 674.3"/>
<path d="M713.6 680.1 L703.5 687.6 L693.5 695.2 L684.3 701.9 L681.0 708.5 L681.8 716.9 L676.8 723.6 L669.3 726.1 L668.4 731.1 L661.7 737.0 L655.0 740.3 L650.9 745.3"/>
<path d="M670.1 725.3 L678.5 725.3 L685.1 726.9 L691.8 732.0 L700.2 737.0 L706.0 742.0 L711.9 740.3 L718.6 739.5 L725.3 741.1 L731.1 744.5 L731.1 755.4 L727.8 759.5"/>
<path d="M745.3 772.9 L757.0 772.1 L759.5 764.6 L765.4 762.9 L764.6 747.0 L777.1 745.3 L783.8 740.3 L788.8 737.0 L793.8 740.3 L798.0 743.7 L802.2 738.6 L808.9 733.6 L815.5 727.8 L819.7 720.2 L823.9 713.6 L828.9 711.9 L833.9 715.2 L840.6 716.9 L849.0 714.4 L857.3 711.9 L865.7 709.4 L874.1 706.9 L880.7 705.2 L885.8 705.2"/>
<path d="M795.0 830.8 L802.5 835.0 L811.7 837.5 L821.8 840.9 L833.5 840.0 L843.5 842.5 L851.9 847.6 L863.6 848.4 L868.6 844.2"/>
<path d="M905.4 889.3 L897.0 887.7 L894.5 891.9 L893.7 900.2 L894.5 906.9 L900.3 910.2 L897.0 915.3 L895.3 920.3 L897.0 925.3 L894.5 930.3 L897.0 937.0"/>
<path d="M1079.9 921.6 L1084.6 930.9 L1088.3 943.9 L1082.7 949.5 L1077.2 955.0 L1070.7 953.2 L1067.9 960.6 L1065.1 966.2"/>
<path d="M1266.6 819.4 L1259.2 828.7 L1249.9 838.0 L1242.5 847.3 L1236.9 858.5 L1233.2 871.5 L1227.6 884.5 L1222.0 895.6 L1218.3 902.1 L1225.8 899.3 L1233.2 903.0 L1238.8 906.7 L1240.6 917.9 L1246.2 925.3 L1251.8 932.8 L1251.8 945.8 L1249.9 956.9 L1253.6 964.3 L1261.1 971.8 L1268.5 975.5 L1281.5 976.4 L1292.6 975.5 L1303.8 976.4 L1314.9 977.3 L1326.1 977.3 L1332.8 978.3"/>
<path d="M1272.4 544.9 L1275.0 552.7 L1274.1 561.4 L1275.9 566.6 L1272.4 573.5 L1272.4 578.7 L1266.3 583.9 L1270.7 589.1 L1273.3 596.0 L1274.1 602.1"/>
</g>
<g fill="none" stroke="#000" stroke-width="2.6" stroke-linejoin="round" stroke-linecap="butt">
<path d="M1187.7 940.2 L1197.5 923.5 L1198.8 908.6 L1184.9 906.7 L1173.7 903.0 L1162.6 897.5 L1147.7 899.3 L1140.3 904.9 L1137.5 923.5 L1135.7 941.1 L1146.8 958.4 L1162.6 957.8 L1171.9 952.3"/>
<path d="M318.6 874.5 L332.3 874.5 L351.2 888.6 L359.6 916.0"/>
<path d="M354.4 932.8 L342.8 941.3 L319.6 950.9 L315.4 952.8"/>
</g>
<text x="1178" y="953" font-size="17" text-anchor="middle" transform="rotate(-28 1178 947)">1</text>
<text x="361" y="934" font-size="17" text-anchor="middle" transform="rotate(-62 361 928)">3</text>
<g fill="#000" stroke="none">
<path d="M316.8 209.4 L317.6 200.3 L323.7 202.9 L317.0 183.3 L307.0 201.4 L313.4 199.9 L312.6 209.1Z"/>
<path d="M348.3 209.6 L350.9 200.3 L356.4 203.9 L353.2 183.5 L340.2 199.6 L346.8 199.2 L344.3 208.6Z"/>
<path d="M384.8 207.2 L385.2 202.5 L391.3 205.2 L384.6 185.6 L374.6 203.7 L381.0 202.1 L380.6 206.8Z"/>
<path d="M419.5 205.3 L419.5 203.3 L425.5 205.3 L417.5 187.3 L409.5 205.3 L415.5 203.3 L415.5 205.3Z"/>
<path d="M453.3 204.8 L453.3 202.9 L459.0 204.8 L451.4 187.8 L443.9 204.8 L449.5 202.9 L449.5 204.8Z"/>
<path d="M487.0 203.8 L487.0 202.1 L492.0 203.8 L485.3 188.8 L478.7 203.8 L483.7 202.1 L483.7 203.8Z"/>
<path d="M520.8 203.3 L520.8 201.7 L525.4 203.3 L519.2 189.3 L513.0 203.3 L517.7 201.7 L517.7 203.3Z"/>
<path d="M554.6 202.8 L554.6 201.4 L558.9 202.8 L553.1 189.8 L547.3 202.8 L551.7 201.4 L551.7 202.8Z"/>
<path d="M589.9 201.8 L589.5 200.5 L593.7 200.7 L585.5 190.5 L583.4 203.5 L586.9 201.2 L587.3 202.4Z"/>
<path d="M624.0 199.7 L623.5 198.8 L626.6 198.2 L618.7 192.4 L619.7 202.2 L621.8 199.8 L622.3 200.7Z"/>
<path d="M659.3 198.7 L658.5 197.9 L661.5 196.1 L651.0 193.1 L655.8 202.9 L657.1 199.7 L657.9 200.4Z"/>
<path d="M693.6 197.8 L692.6 197.3 L695.2 195.0 L684.4 193.8 L690.8 202.6 L691.5 199.2 L692.5 199.8Z"/>
<path d="M729.2 199.0 L727.9 198.1 L731.9 195.2 L716.9 192.3 L724.8 205.4 L726.2 200.7 L727.4 201.6Z"/>
<path d="M763.6 199.2 L762.2 198.3 L766.5 195.1 L750.3 192.0 L758.8 206.1 L760.3 201.0 L761.7 202.0Z"/>
<path d="M797.0 199.0 L795.7 198.1 L799.7 195.2 L784.6 192.3 L792.5 205.4 L793.9 200.7 L795.2 201.6Z"/>
<path d="M830.6 198.3 L829.4 197.6 L832.8 194.5 L818.6 193.1 L827.0 204.6 L827.9 200.1 L829.2 200.8Z"/>
<path d="M863.2 195.6 L862.1 195.5 L863.5 192.3 L853.2 195.9 L862.8 201.2 L861.9 197.7 L863.1 197.8Z"/>
<path d="M897.1 195.6 L896.0 195.5 L897.4 192.3 L887.1 195.9 L896.7 201.2 L895.8 197.7 L896.9 197.8Z"/>
<path d="M931.0 195.6 L929.9 195.5 L931.3 192.3 L921.0 195.9 L930.6 201.2 L929.7 197.7 L930.8 197.8Z"/>
<path d="M964.9 195.6 L963.8 195.5 L965.2 192.3 L954.9 195.9 L964.4 201.2 L963.6 197.7 L964.7 197.8Z"/>
<path d="M998.8 195.6 L997.7 195.5 L999.1 192.3 L988.8 195.9 L998.3 201.2 L997.5 197.7 L998.6 197.8Z"/>
<path d="M1032.7 195.6 L1031.6 195.5 L1033.0 192.3 L1022.7 195.9 L1032.2 201.2 L1031.4 197.7 L1032.5 197.8Z"/>
<path d="M1066.6 195.6 L1065.5 195.5 L1066.9 192.3 L1056.6 195.9 L1066.1 201.2 L1065.3 197.7 L1066.4 197.8Z"/>
<path d="M1100.5 195.6 L1099.4 195.5 L1100.8 192.3 L1090.5 195.9 L1100.0 201.2 L1099.2 197.7 L1100.3 197.8Z"/>
<path d="M1195.9 200.2 L1196.3 199.4 L1198.2 201.5 L1199.1 192.8 L1192.0 198.0 L1194.8 198.5 L1194.4 199.3Z"/>
<path d="M1229.1 199.9 L1229.7 199.3 L1231.2 201.6 L1233.6 193.2 L1225.7 197.1 L1228.3 198.1 L1227.8 198.8Z"/>
<path d="M1262.1 199.3 L1262.9 198.8 L1263.7 201.5 L1268.2 194.0 L1259.6 195.7 L1261.9 197.4 L1261.1 197.9Z"/>
<path d="M317.7 238.7 L317.7 236.8 L323.4 238.7 L315.9 221.7 L308.3 238.7 L314.0 236.8 L314.0 238.7Z"/>
<path d="M351.5 238.2 L351.5 236.4 L356.9 238.2 L349.7 222.2 L342.6 238.2 L348.0 236.4 L348.0 238.2Z"/>
<path d="M385.6 239.0 L385.6 237.0 L391.4 239.0 L383.6 221.5 L375.9 239.0 L381.7 237.0 L381.7 239.0Z"/>
<path d="M419.5 239.0 L419.5 237.0 L425.3 239.0 L417.5 221.5 L409.8 239.0 L415.6 237.0 L415.6 239.0Z"/>
<path d="M453.2 238.2 L453.2 236.4 L458.5 238.2 L451.4 222.2 L444.3 238.2 L449.7 236.4 L449.7 238.2Z"/>
<path d="M486.7 236.2 L486.7 234.9 L490.7 236.2 L485.3 224.2 L480.0 236.2 L484.0 234.9 L484.0 236.2Z"/>
<path d="M521.0 235.8 L520.9 234.6 L524.8 235.5 L518.7 224.5 L514.6 236.4 L518.3 234.8 L518.4 236.1Z"/>
<path d="M557.2 236.1 L556.6 234.7 L561.5 234.4 L550.5 223.7 L550.0 239.0 L553.7 235.9 L554.3 237.3Z"/>
<path d="M590.1 236.1 L589.7 234.7 L594.3 235.0 L585.3 223.9 L583.1 238.0 L586.9 235.5 L587.3 236.9Z"/>
<path d="M623.6 233.2 L623.2 232.4 L625.9 231.9 L619.0 226.8 L619.9 235.3 L621.7 233.3 L622.1 234.0Z"/>
<path d="M659.4 232.4 L658.5 231.7 L661.5 229.8 L650.9 227.1 L656.0 236.8 L657.2 233.5 L658.1 234.2Z"/>
<path d="M693.6 231.8 L692.6 231.2 L695.2 228.9 L684.4 227.7 L690.8 236.6 L691.5 233.1 L692.5 233.7Z"/>
<path d="M730.2 234.5 L728.8 233.2 L734.0 230.3 L716.3 224.5 L723.9 241.5 L726.2 236.0 L727.6 237.3Z"/>
<path d="M762.7 233.9 L761.5 232.8 L765.8 230.4 L751.4 225.4 L757.4 239.5 L759.4 235.1 L760.5 236.1Z"/>
<path d="M797.6 234.1 L796.2 233.0 L801.1 230.1 L784.3 225.0 L791.8 240.8 L793.9 235.6 L795.3 236.8Z"/>
<path d="M829.6 231.9 L828.6 231.3 L831.5 228.7 L819.5 227.5 L826.6 237.2 L827.4 233.4 L828.4 234.0Z"/>
<path d="M864.6 228.8 L863.1 228.8 L864.6 224.5 L851.8 230.2 L864.6 235.9 L863.1 231.6 L864.6 231.6Z"/>
<path d="M898.1 229.1 L896.8 229.1 L898.2 225.1 L886.1 230.0 L897.9 235.8 L896.7 231.7 L898.0 231.8Z"/>
<path d="M931.0 229.5 L929.9 229.5 L931.3 226.2 L921.0 229.8 L930.6 235.1 L929.7 231.7 L930.8 231.8Z"/>
<path d="M964.4 229.2 L963.4 229.2 L964.4 226.2 L955.4 230.2 L964.4 234.2 L963.4 231.2 L964.4 231.2Z"/>
<path d="M998.8 229.1 L997.6 229.1 L998.8 225.8 L988.8 230.2 L998.8 234.7 L997.6 231.3 L998.8 231.3Z"/>
<path d="M1032.6 229.1 L1031.5 229.1 L1032.6 225.8 L1022.6 230.2 L1032.6 234.7 L1031.5 231.3 L1032.6 231.3Z"/>
<path d="M1066.6 229.3 L1065.5 229.2 L1066.7 226.0 L1056.5 230.0 L1066.4 234.8 L1065.4 231.5 L1066.5 231.5Z"/>
<path d="M1099.9 228.4 L1098.9 228.5 L1099.4 225.2 L1090.8 231.0 L1100.8 233.6 L1099.3 230.6 L1100.3 230.4Z"/>
<path d="M1130.7 233.5 L1130.6 232.8 L1133.0 233.1 L1128.7 226.8 L1126.9 234.2 L1129.0 233.0 L1129.2 233.8Z"/>
<path d="M1163.8 234.3 L1163.8 233.4 L1166.4 234.5 L1163.6 226.2 L1159.3 233.9 L1162.1 233.2 L1162.0 234.1Z"/>
<path d="M1196.1 234.7 L1196.5 233.8 L1198.8 236.0 L1199.0 226.1 L1191.6 232.6 L1194.7 233.0 L1194.3 233.9Z"/>
<path d="M1229.3 234.5 L1229.8 233.7 L1231.7 236.2 L1233.6 226.5 L1225.2 231.6 L1228.2 232.5 L1227.6 233.3Z"/>
<path d="M1262.0 233.4 L1262.7 232.9 L1263.6 235.8 L1268.4 227.8 L1259.3 229.6 L1261.7 231.3 L1260.9 231.9Z"/>
<path d="M1295.0 231.8 L1295.9 231.6 L1295.5 234.4 L1302.7 229.5 L1294.2 227.4 L1295.6 229.9 L1294.7 230.0Z"/>
<path d="M317.7 272.6 L317.7 270.8 L323.4 272.6 L315.9 255.6 L308.3 272.6 L314.0 270.8 L314.0 272.6Z"/>
<path d="M351.7 272.9 L351.7 270.9 L357.5 272.9 L349.7 255.4 L342.0 272.9 L347.8 270.9 L347.8 272.9Z"/>
<path d="M385.7 273.4 L385.7 271.3 L391.9 273.4 L383.6 254.9 L375.4 273.4 L381.6 271.3 L381.6 273.4Z"/>
<path d="M419.1 271.1 L419.1 269.6 L423.8 271.1 L417.5 257.1 L411.3 271.1 L416.0 269.6 L416.0 271.1Z"/>
<path d="M452.9 270.9 L452.9 269.4 L457.4 270.9 L451.4 257.4 L445.4 270.9 L449.9 269.4 L449.9 270.9Z"/>
<path d="M486.5 269.5 L486.5 268.3 L490.1 269.5 L485.3 258.8 L480.6 269.5 L484.1 268.3 L484.1 269.5Z"/>
<path d="M522.5 269.3 L522.1 268.1 L526.3 268.0 L517.2 258.5 L516.3 271.6 L519.6 269.0 L520.0 270.2Z"/>
<path d="M557.2 269.4 L556.6 268.1 L561.1 267.6 L550.4 258.2 L550.6 272.5 L553.9 269.3 L554.6 270.6Z"/>
<path d="M590.8 268.9 L590.3 267.7 L594.4 267.2 L584.4 258.7 L584.8 271.9 L587.9 268.9 L588.4 270.1Z"/>
<path d="M623.2 265.3 L622.8 265.0 L624.2 264.0 L619.0 262.5 L621.4 267.4 L622.0 265.8 L622.5 266.2Z"/>
<path d="M659.0 265.0 L658.2 264.6 L660.2 262.4 L651.0 262.4 L657.1 269.3 L657.4 266.3 L658.3 266.7Z"/>
<path d="M694.8 264.5 L693.5 264.1 L695.9 260.7 L682.9 262.5 L693.0 270.9 L692.8 266.7 L694.1 267.1Z"/>
<path d="M729.0 266.8 L727.8 265.9 L731.6 263.1 L717.1 260.3 L724.7 272.9 L726.0 268.4 L727.3 269.2Z"/>
<path d="M764.7 266.1 L763.1 265.3 L767.1 261.2 L749.1 260.5 L760.7 274.3 L761.4 268.6 L763.1 269.4Z"/>
<path d="M798.7 267.4 L797.1 266.3 L801.9 262.6 L783.2 259.3 L793.3 275.4 L794.9 269.5 L796.5 270.6Z"/>
<path d="M831.5 265.7 L830.1 265.1 L833.6 261.4 L817.7 261.1 L828.1 273.0 L828.7 268.0 L830.2 268.7Z"/>
<path d="M866.5 262.0 L864.6 262.1 L866.3 256.4 L849.8 264.4 L866.8 271.3 L864.7 265.8 L866.6 265.7Z"/>
<path d="M898.9 262.6 L897.4 262.6 L898.9 258.1 L885.3 264.1 L898.9 270.2 L897.4 265.7 L898.9 265.7Z"/>
<path d="M930.3 263.6 L929.3 263.5 L930.5 260.7 L921.7 263.8 L929.9 268.3 L929.2 265.4 L930.1 265.5Z"/>
<path d="M965.4 262.9 L964.1 262.9 L965.4 259.3 L954.4 264.1 L965.4 269.0 L964.1 265.4 L965.4 265.4Z"/>
<path d="M998.0 263.2 L997.1 263.2 L998.0 260.4 L989.5 264.1 L998.0 267.9 L997.1 265.1 L998.0 265.1Z"/>
<path d="M1032.6 262.9 L1031.5 262.9 L1032.5 259.5 L1022.6 264.3 L1032.8 268.4 L1031.6 265.1 L1032.7 265.1Z"/>
<path d="M1067.5 262.6 L1066.2 262.6 L1067.4 258.6 L1055.5 264.3 L1067.7 269.3 L1066.3 265.3 L1067.6 265.3Z"/>
<path d="M1100.3 262.6 L1099.2 262.7 L1100.0 259.3 L1090.5 264.6 L1100.8 268.1 L1099.4 264.9 L1100.5 264.8Z"/>
<path d="M1133.6 263.6 L1132.7 263.5 L1133.9 260.7 L1125.1 263.8 L1133.2 268.3 L1132.5 265.4 L1133.5 265.5Z"/>
<path d="M1168.3 263.9 L1167.2 263.7 L1168.9 260.6 L1158.3 263.3 L1167.4 269.4 L1166.9 265.9 L1168.0 266.1Z"/>
<path d="M1198.8 268.2 L1198.6 267.2 L1201.6 267.7 L1196.4 260.0 L1194.1 269.0 L1196.8 267.6 L1196.9 268.5Z"/>
<path d="M1231.9 268.1 L1231.9 267.3 L1234.6 268.1 L1231.0 260.1 L1227.5 268.1 L1230.1 267.3 L1230.1 268.1Z"/>
<path d="M1264.7 268.2 L1265.0 267.4 L1267.3 268.9 L1265.9 260.3 L1260.4 267.1 L1263.2 266.9 L1263.0 267.8Z"/>
<path d="M1298.1 267.4 L1298.4 266.7 L1300.0 268.3 L1300.2 261.2 L1294.8 265.9 L1297.1 266.1 L1296.8 266.8Z"/>
<path d="M1333.3 266.6 L1333.3 266.1 L1334.9 266.6 L1332.7 261.6 L1330.5 266.6 L1332.1 266.1 L1332.1 266.6Z"/>
<path d="M317.2 304.1 L317.2 302.7 L321.2 304.1 L315.9 292.1 L310.5 304.1 L314.5 302.7 L314.5 304.1Z"/>
<path d="M353.1 307.2 L352.8 305.0 L359.4 306.2 L348.4 288.7 L342.7 308.5 L348.7 305.6 L349.0 307.8Z"/>
<path d="M385.6 307.1 L385.6 305.1 L391.6 307.1 L383.6 289.1 L375.6 307.1 L381.6 305.1 L381.6 307.1Z"/>
<path d="M419.4 306.3 L419.4 304.5 L424.9 306.3 L417.5 289.8 L410.2 306.3 L415.7 304.5 L415.7 306.3Z"/>
<path d="M452.7 305.6 L452.8 304.0 L457.7 305.9 L451.8 290.6 L444.4 305.2 L449.5 303.8 L449.4 305.5Z"/>
<path d="M485.4 304.2 L485.7 302.9 L489.3 305.0 L486.6 292.2 L478.9 302.8 L483.1 302.3 L482.8 303.7Z"/>
<path d="M520.6 302.5 L520.5 301.5 L523.6 302.2 L518.8 293.6 L515.6 302.9 L518.5 301.6 L518.6 302.6Z"/>
<path d="M555.7 301.9 L555.4 300.9 L558.5 300.7 L551.4 293.9 L551.1 303.7 L553.5 301.7 L553.9 302.6Z"/>
<path d="M589.8 300.7 L589.4 300.0 L591.9 299.3 L584.9 294.9 L586.3 303.1 L588.0 301.0 L588.4 301.7Z"/>
<path d="M625.8 299.7 L624.8 299.1 L627.5 296.8 L616.6 295.5 L622.9 304.4 L623.7 301.0 L624.6 301.6Z"/>
<path d="M657.9 297.9 L657.2 297.8 L658.2 296.0 L651.8 297.5 L657.3 301.2 L657.0 299.1 L657.6 299.2Z"/>
<path d="M692.4 299.8 L691.7 299.2 L694.0 297.6 L685.5 295.7 L689.7 303.3 L690.6 300.6 L691.4 301.2Z"/>
<path d="M726.1 298.7 L725.4 298.4 L727.0 296.6 L719.4 296.7 L724.6 302.3 L724.8 299.8 L725.5 300.1Z"/>
<path d="M763.3 299.4 L761.9 298.8 L765.1 295.3 L750.3 295.3 L760.2 306.3 L760.7 301.6 L762.0 302.2Z"/>
<path d="M799.3 299.4 L797.5 298.7 L801.5 293.9 L782.1 294.9 L795.8 308.6 L796.1 302.4 L797.9 303.1Z"/>
<path d="M831.8 299.6 L830.3 298.9 L833.8 295.0 L817.4 295.0 L828.4 307.2 L828.9 302.0 L830.4 302.6Z"/>
<path d="M865.0 296.5 L863.5 296.5 L865.0 292.0 L851.4 298.1 L865.0 304.1 L863.5 299.6 L865.0 299.6Z"/>
<path d="M899.0 297.8 L897.5 297.5 L899.8 293.3 L885.4 296.9 L897.7 305.2 L897.0 300.5 L898.5 300.7Z"/>
<path d="M933.1 298.4 L931.6 298.0 L934.3 293.9 L919.2 296.2 L931.1 305.9 L930.8 301.0 L932.3 301.4Z"/>
<path d="M964.2 297.9 L963.3 297.7 L964.7 295.1 L955.7 297.3 L963.4 302.5 L962.9 299.6 L963.9 299.7Z"/>
<path d="M996.8 297.4 L996.1 297.4 L996.8 295.4 L990.8 298.1 L996.8 300.7 L996.1 298.7 L996.8 298.7Z"/>
<path d="M1032.5 297.4 L1031.4 297.3 L1032.7 294.3 L1022.9 297.6 L1032.0 302.7 L1031.2 299.4 L1032.3 299.5Z"/>
<path d="M1067.7 297.8 L1066.4 297.6 L1068.4 293.8 L1055.6 297.0 L1066.5 304.4 L1065.9 300.2 L1067.2 300.4Z"/>
<path d="M1101.2 295.9 L1099.9 296.1 L1100.6 291.9 L1089.5 298.9 L1102.1 302.5 L1100.2 298.7 L1101.6 298.5Z"/>
<path d="M1136.0 298.0 L1134.6 297.7 L1136.9 293.8 L1123.0 296.7 L1134.5 305.1 L1134.0 300.5 L1135.4 300.8Z"/>
<path d="M1168.3 297.4 L1167.2 297.3 L1168.6 294.1 L1158.2 297.6 L1167.8 302.9 L1167.0 299.5 L1168.1 299.6Z"/>
<path d="M1200.9 297.6 L1200.1 297.5 L1201.1 295.1 L1193.4 297.7 L1200.6 301.7 L1200.0 299.1 L1200.8 299.2Z"/>
<path d="M1234.8 297.6 L1234.0 297.5 L1235.0 295.1 L1227.3 297.7 L1234.5 301.7 L1233.8 299.1 L1234.7 299.2Z"/>
<path d="M1268.5 298.5 L1267.7 298.3 L1269.3 296.3 L1261.6 296.9 L1267.1 302.2 L1267.2 299.7 L1267.9 300.0Z"/>
<path d="M1300.9 300.3 L1300.5 299.7 L1302.6 299.3 L1297.3 295.5 L1298.0 302.0 L1299.4 300.4 L1299.7 301.0Z"/>
<path d="M1334.4 299.9 L1334.2 299.5 L1335.9 299.1 L1331.5 295.9 L1332.0 301.3 L1333.2 300.0 L1333.5 300.5Z"/>
<path d="M305.2 330.9 L309.2 332.1 L305.4 337.6 L325.9 335.0 L310.3 321.5 L310.4 328.1 L306.4 326.9Z"/>
<path d="M351.8 341.5 L351.8 339.3 L358.1 341.4 L349.7 322.5 L341.3 341.4 L347.6 339.3 L347.6 341.5Z"/>
<path d="M385.6 341.0 L385.6 339.0 L391.6 341.0 L383.6 323.0 L375.6 341.0 L381.6 339.0 L381.6 341.0Z"/>
<path d="M419.5 341.0 L419.5 339.0 L425.5 341.0 L417.5 323.0 L409.5 341.0 L415.5 339.0 L415.5 341.0Z"/>
<path d="M452.9 340.6 L453.0 338.7 L458.5 340.9 L451.9 323.5 L443.4 340.1 L449.2 338.5 L449.1 340.4Z"/>
<path d="M485.5 339.7 L485.8 338.0 L490.4 340.6 L486.8 324.6 L477.3 338.1 L482.6 337.4 L482.3 339.0Z"/>
<path d="M517.8 336.9 L518.3 335.9 L520.7 338.5 L521.6 327.6 L512.9 334.2 L516.4 334.8 L515.8 335.8Z"/>
<path d="M552.0 334.8 L552.4 334.3 L553.6 336.0 L554.8 329.5 L549.2 333.0 L551.3 333.5 L550.9 334.1Z"/>
<path d="M587.5 334.2 L587.5 333.7 L589.0 334.2 L587.0 329.7 L585.0 334.2 L586.5 333.7 L586.5 334.2Z"/>
<circle cx="620.9" cy="332.0" r="2.1"/>
<path d="M657.6 331.9 L657.0 331.7 L657.9 330.1 L652.1 331.5 L657.1 334.9 L656.8 333.0 L657.4 333.1Z"/>
<circle cx="688.7" cy="332.0" r="2.1"/>
<path d="M724.9 331.9 L724.4 331.8 L725.2 330.4 L720.4 331.6 L724.5 334.3 L724.2 332.8 L724.7 332.9Z"/>
<path d="M760.1 333.9 L759.4 333.4 L761.8 331.9 L753.5 329.4 L757.2 337.3 L758.2 334.7 L758.9 335.3Z"/>
<path d="M796.4 332.0 L795.1 331.7 L797.2 328.2 L784.7 330.7 L794.9 338.4 L794.5 334.3 L795.8 334.6Z"/>
<path d="M831.9 332.0 L830.3 331.7 L833.0 327.2 L817.1 330.3 L830.0 340.1 L829.5 334.9 L831.1 335.2Z"/>
<path d="M864.6 333.9 L863.3 333.2 L866.7 330.1 L852.5 328.8 L861.1 340.2 L861.9 335.7 L863.2 336.4Z"/>
<path d="M896.3 335.5 L895.6 334.6 L899.2 333.3 L888.7 327.7 L891.6 339.2 L893.7 336.0 L894.4 337.0Z"/>
<path d="M930.4 334.1 L929.6 333.5 L932.4 331.6 L922.1 329.0 L927.1 338.4 L928.3 335.2 L929.1 335.8Z"/>
<path d="M967.1 335.0 L965.7 334.0 L970.1 330.8 L953.5 327.6 L962.2 342.0 L963.8 336.8 L965.2 337.8Z"/>
<path d="M998.8 331.3 L997.7 331.2 L999.1 328.0 L988.8 331.5 L998.3 336.8 L997.5 333.4 L998.6 333.5Z"/>
<path d="M1034.5 330.7 L1033.0 330.7 L1034.7 326.2 L1020.8 331.7 L1034.2 338.3 L1032.9 333.7 L1034.4 333.7Z"/>
<path d="M1068.4 331.1 L1066.9 330.9 L1068.8 326.6 L1054.8 331.4 L1067.8 338.6 L1066.7 333.9 L1068.2 334.1Z"/>
<path d="M1101.5 331.2 L1100.2 331.1 L1101.9 327.2 L1089.5 331.5 L1100.9 337.8 L1100.0 333.7 L1101.3 333.8Z"/>
<path d="M1135.9 330.8 L1134.4 330.7 L1136.0 326.4 L1122.8 331.8 L1135.6 338.0 L1134.3 333.6 L1135.8 333.7Z"/>
<path d="M1169.3 330.9 L1167.9 330.8 L1169.4 326.9 L1157.2 331.8 L1169.0 337.5 L1167.8 333.5 L1169.2 333.5Z"/>
<path d="M1200.9 331.1 L1200.0 331.1 L1200.9 328.6 L1193.4 332.0 L1200.9 335.3 L1200.0 332.8 L1200.9 332.8Z"/>
<path d="M1235.5 331.0 L1234.5 331.0 L1235.5 328.0 L1226.5 332.0 L1235.5 336.0 L1234.5 333.0 L1235.5 333.0Z"/>
<path d="M1268.7 331.1 L1267.8 331.1 L1268.7 328.6 L1261.2 332.0 L1268.7 335.3 L1267.8 332.8 L1268.7 332.8Z"/>
<path d="M1303.8 331.0 L1302.7 331.0 L1304.0 327.7 L1293.8 331.8 L1303.6 336.6 L1302.7 333.2 L1303.8 333.3Z"/>
<path d="M1336.7 331.2 L1335.8 331.2 L1336.8 328.6 L1328.7 331.8 L1336.6 335.7 L1335.8 333.0 L1336.7 333.0Z"/>
<path d="M351.2 372.4 L351.2 371.0 L355.5 372.4 L349.7 359.4 L344.0 372.4 L348.3 371.0 L348.3 372.4Z"/>
<path d="M385.7 375.3 L385.7 373.2 L392.0 375.3 L383.6 356.6 L375.3 375.3 L381.6 373.2 L381.6 375.3Z"/>
<path d="M419.5 374.9 L419.5 372.9 L425.5 374.9 L417.5 356.9 L409.5 374.9 L415.5 372.9 L415.5 374.9Z"/>
<path d="M452.5 374.0 L452.7 372.3 L457.8 374.5 L452.1 357.9 L443.6 373.2 L449.1 371.9 L449.0 373.7Z"/>
<path d="M485.9 373.0 L486.1 371.5 L490.5 373.7 L486.3 359.0 L478.2 372.0 L483.0 371.1 L482.8 372.6Z"/>
<path d="M518.4 371.2 L518.8 370.1 L521.7 372.5 L521.1 361.0 L513.0 369.1 L516.7 369.3 L516.2 370.4Z"/>
<path d="M551.6 370.2 L552.1 369.4 L554.1 371.8 L555.5 362.1 L547.4 367.6 L550.4 368.3 L549.9 369.1Z"/>
<path d="M585.5 368.6 L586.0 368.1 L587.1 369.9 L589.0 363.6 L583.0 366.4 L585.0 367.2 L584.5 367.7Z"/>
<path d="M620.2 368.1 L620.5 367.7 L621.5 368.8 L622.0 364.0 L618.0 366.8 L619.6 367.2 L619.3 367.6Z"/>
<path d="M654.2 363.4 L654.2 364.0 L652.6 363.4 L654.8 368.4 L657.0 363.4 L655.4 364.0 L655.4 363.4Z"/>
<path d="M684.9 367.4 L685.8 367.3 L685.3 370.0 L692.6 365.3 L684.2 363.0 L685.5 365.5 L684.6 365.6Z"/>
<path d="M717.8 367.0 L718.9 367.0 L717.8 370.1 L727.3 365.9 L717.8 361.7 L718.9 364.8 L717.8 364.8Z"/>
<path d="M749.3 367.2 L750.9 367.3 L749.1 372.0 L763.6 366.1 L749.6 359.3 L751.0 364.1 L749.4 364.1Z"/>
<path d="M795.5 369.6 L794.6 368.5 L798.6 366.8 L786.3 361.3 L790.4 374.1 L792.6 370.4 L793.5 371.4Z"/>
<path d="M832.5 369.8 L830.9 368.6 L836.1 365.1 L817.3 360.5 L826.4 377.5 L828.5 371.7 L830.0 372.9Z"/>
<path d="M862.0 367.5 L861.2 367.0 L863.5 365.3 L854.9 363.6 L859.4 371.1 L860.2 368.4 L860.9 368.9Z"/>
<path d="M898.5 368.5 L897.2 367.7 L901.0 364.9 L886.5 362.0 L894.2 374.7 L895.5 370.1 L896.7 371.0Z"/>
<path d="M931.6 367.8 L930.5 367.1 L933.7 364.5 L920.9 362.9 L928.3 373.4 L929.2 369.4 L930.3 370.0Z"/>
<path d="M968.0 368.9 L966.4 367.9 L971.1 364.2 L952.7 361.3 L962.9 376.9 L964.4 371.1 L966.0 372.1Z"/>
<path d="M1000.8 364.3 L999.2 364.3 L1000.8 359.7 L986.8 365.9 L1000.8 372.1 L999.2 367.5 L1000.8 367.5Z"/>
<path d="M1034.4 364.4 L1032.9 364.4 L1034.4 359.9 L1020.8 365.9 L1034.4 371.9 L1032.9 367.4 L1034.4 367.4Z"/>
<path d="M1066.5 364.8 L1065.4 364.8 L1066.5 361.5 L1056.5 365.9 L1066.5 370.3 L1065.4 367.0 L1066.5 367.0Z"/>
<path d="M1099.9 364.9 L1098.9 364.9 L1099.9 361.9 L1090.9 365.9 L1099.9 369.9 L1098.9 366.9 L1099.9 366.9Z"/>
<path d="M1133.3 365.0 L1132.4 365.0 L1133.3 362.3 L1125.3 365.9 L1133.3 369.5 L1132.4 366.8 L1133.3 366.8Z"/>
<path d="M1170.0 364.4 L1168.5 364.4 L1170.0 359.9 L1156.4 365.9 L1170.0 371.9 L1168.5 367.4 L1170.0 367.4Z"/>
<path d="M1203.3 364.5 L1201.9 364.5 L1203.3 360.4 L1190.9 365.9 L1203.3 371.4 L1201.9 367.3 L1203.3 367.3Z"/>
<path d="M1236.3 364.7 L1235.1 364.7 L1236.3 361.2 L1225.8 365.9 L1236.3 370.6 L1235.1 367.1 L1236.3 367.1Z"/>
<path d="M1268.7 365.1 L1267.8 365.1 L1268.7 362.6 L1261.2 365.9 L1268.7 369.2 L1267.8 366.7 L1268.7 366.7Z"/>
<path d="M1303.1 365.0 L1302.1 365.0 L1303.1 362.1 L1294.6 365.9 L1303.1 369.7 L1302.1 366.8 L1303.1 366.8Z"/>
<path d="M1335.7 365.2 L1335.0 365.2 L1335.7 363.2 L1329.7 365.9 L1335.7 368.6 L1335.0 366.6 L1335.7 366.6Z"/>
<path d="M351.1 405.8 L351.1 404.5 L355.1 405.8 L349.7 393.8 L344.4 405.8 L348.4 404.5 L348.4 405.8Z"/>
<path d="M385.3 407.1 L385.3 405.5 L390.1 407.1 L383.6 392.6 L377.2 407.1 L382.0 405.5 L382.0 407.1Z"/>
<path d="M419.3 407.8 L419.3 406.0 L424.6 407.8 L417.5 391.8 L410.4 407.8 L415.8 406.0 L415.8 407.8Z"/>
<path d="M452.3 406.7 L452.5 405.2 L456.9 407.1 L452.0 393.0 L444.8 406.1 L449.5 405.0 L449.3 406.5Z"/>
<path d="M485.3 406.0 L485.6 404.7 L489.2 406.9 L486.7 394.0 L478.8 404.5 L483.0 404.1 L482.7 405.4Z"/>
<path d="M520.0 405.9 L520.1 404.6 L524.0 406.3 L519.7 393.8 L513.4 405.3 L517.5 404.4 L517.4 405.7Z"/>
<path d="M554.2 404.8 L554.2 403.7 L557.6 404.8 L553.1 394.8 L548.7 404.8 L552.0 403.7 L552.0 404.8Z"/>
<path d="M588.2 405.2 L588.2 404.0 L591.8 405.2 L587.0 394.5 L582.3 405.2 L585.8 404.0 L585.8 405.2Z"/>
<path d="M622.2 405.8 L622.2 404.5 L626.2 405.8 L620.9 393.8 L615.6 405.8 L619.6 404.5 L619.6 405.8Z"/>
<path d="M654.1 404.1 L654.4 403.2 L656.7 405.1 L656.4 395.9 L649.8 402.3 L652.7 402.5 L652.4 403.4Z"/>
<path d="M686.3 404.4 L687.0 403.5 L688.9 406.5 L691.9 396.0 L682.1 400.8 L685.3 402.1 L684.6 402.9Z"/>
<path d="M719.2 403.7 L720.1 403.0 L721.2 406.4 L726.6 396.9 L715.9 399.2 L718.8 401.2 L717.9 401.9Z"/>
<path d="M752.7 405.2 L753.7 404.2 L755.5 408.4 L761.3 395.5 L747.9 399.9 L751.8 402.1 L750.7 403.1Z"/>
<path d="M790.0 408.7 L790.5 406.9 L795.6 410.2 L792.6 391.4 L780.7 406.2 L786.8 405.9 L786.3 407.7Z"/>
<path d="M826.1 405.7 L826.0 404.4 L830.1 405.3 L823.8 393.8 L819.5 406.3 L823.4 404.6 L823.5 405.9Z"/>
<path d="M863.7 402.6 L862.6 401.7 L866.2 399.5 L853.5 396.0 L859.5 407.7 L861.0 403.8 L862.0 404.6Z"/>
<path d="M895.5 400.9 L894.8 400.5 L896.7 398.9 L889.0 398.1 L893.5 404.3 L894.0 401.9 L894.7 402.2Z"/>
<path d="M931.6 402.2 L930.5 401.4 L933.9 398.9 L921.0 396.4 L927.8 407.6 L929.0 403.6 L930.1 404.4Z"/>
<path d="M962.1 400.5 L961.6 400.3 L962.8 399.2 L957.9 398.7 L960.8 402.7 L961.1 401.1 L961.6 401.4Z"/>
<path d="M999.3 402.4 L998.3 401.6 L1001.8 399.2 L989.0 396.2 L995.3 407.7 L996.7 403.7 L997.7 404.5Z"/>
<path d="M1031.3 401.0 L1030.6 400.6 L1032.6 398.8 L1024.4 397.9 L1029.2 404.6 L1029.8 402.0 L1030.5 402.4Z"/>
<path d="M1065.0 400.9 L1064.3 400.5 L1066.1 398.9 L1058.5 398.1 L1063.0 404.3 L1063.5 401.9 L1064.2 402.2Z"/>
<path d="M1098.9 402.5 L1098.3 401.7 L1101.1 400.6 L1092.7 396.6 L1095.3 405.5 L1096.8 403.0 L1097.4 403.7Z"/>
<path d="M1132.5 400.8 L1131.9 400.5 L1133.6 398.9 L1126.5 398.2 L1130.7 403.9 L1131.2 401.7 L1131.8 402.1Z"/>
<path d="M1165.8 400.2 L1165.2 400.0 L1166.3 398.6 L1160.9 399.0 L1164.8 402.8 L1164.9 401.0 L1165.4 401.2Z"/>
<path d="M1199.4 399.3 L1198.9 399.3 L1199.4 397.8 L1194.9 399.8 L1199.4 401.8 L1198.9 400.3 L1199.4 400.3Z"/>
<path d="M1236.8 398.8 L1235.5 398.7 L1236.9 395.0 L1225.3 399.6 L1236.5 405.1 L1235.4 401.2 L1236.7 401.3Z"/>
<path d="M1269.8 398.7 L1268.7 398.7 L1269.8 395.5 L1260.1 399.8 L1269.8 404.1 L1268.7 400.9 L1269.8 400.9Z"/>
<path d="M1303.5 398.8 L1302.5 398.8 L1303.5 395.6 L1294.1 399.8 L1303.5 404.0 L1302.5 400.9 L1303.5 400.9Z"/>
<path d="M1336.7 398.9 L1335.8 398.9 L1336.7 396.3 L1328.7 399.8 L1336.7 403.4 L1335.8 400.7 L1336.7 400.7Z"/>
<path d="M346.6 440.1 L347.5 438.9 L350.2 443.0 L354.1 428.3 L340.6 435.3 L345.1 437.0 L344.2 438.2Z"/>
<path d="M385.6 442.7 L385.6 440.7 L391.6 442.7 L383.6 424.7 L375.6 442.7 L381.6 440.7 L381.6 442.7Z"/>
<path d="M419.1 441.0 L419.1 439.4 L424.0 441.0 L417.5 426.5 L411.1 441.0 L415.9 439.4 L415.9 441.0Z"/>
<path d="M452.4 439.3 L452.4 438.1 L456.0 439.5 L451.7 428.2 L446.3 439.0 L450.0 437.9 L449.9 439.2Z"/>
<path d="M485.0 439.9 L485.3 438.6 L488.8 441.0 L487.0 428.0 L478.5 438.0 L482.8 437.9 L482.4 439.1Z"/>
<path d="M518.9 440.1 L519.3 438.8 L523.0 441.2 L520.8 427.7 L512.2 438.3 L516.6 438.1 L516.3 439.4Z"/>
<path d="M553.3 438.9 L553.5 437.8 L556.6 439.4 L554.0 428.8 L547.9 437.9 L551.3 437.4 L551.2 438.5Z"/>
<path d="M588.0 438.0 L588.0 437.0 L590.8 438.0 L587.0 429.5 L583.2 438.0 L586.1 437.0 L586.1 438.0Z"/>
<path d="M622.0 438.7 L622.0 437.6 L625.3 438.7 L620.9 428.7 L616.5 438.7 L619.8 437.6 L619.8 438.7Z"/>
<path d="M654.4 438.3 L654.7 437.4 L657.3 439.2 L656.1 429.4 L649.7 436.9 L652.8 436.8 L652.5 437.8Z"/>
<path d="M686.8 437.1 L687.4 436.5 L688.7 438.8 L691.2 431.0 L683.7 434.3 L686.1 435.3 L685.6 436.0Z"/>
<path d="M719.8 436.7 L720.5 436.2 L721.3 438.9 L725.9 431.5 L717.3 433.0 L719.5 434.7 L718.8 435.2Z"/>
<path d="M755.7 440.1 L756.1 438.8 L759.6 441.5 L758.6 427.9 L749.1 437.7 L753.5 437.8 L753.0 439.1Z"/>
<path d="M790.3 441.4 L790.7 439.8 L795.2 442.5 L792.1 426.4 L782.2 439.5 L787.4 439.0 L787.1 440.7Z"/>
<path d="M825.7 440.2 L825.7 438.8 L830.1 440.2 L824.3 427.2 L818.5 440.2 L822.8 438.8 L822.8 440.2Z"/>
<path d="M860.7 437.0 L860.3 436.2 L863.1 435.9 L856.5 430.1 L856.6 438.9 L858.7 436.9 L859.1 437.7Z"/>
<path d="M895.9 435.3 L895.1 434.8 L897.4 433.1 L888.8 431.4 L893.3 438.9 L894.1 436.3 L894.8 436.8Z"/>
<path d="M931.3 435.4 L930.3 434.8 L933.2 432.3 L921.2 431.0 L928.3 440.7 L929.1 436.9 L930.1 437.5Z"/>
<path d="M965.2 435.4 L964.2 434.8 L967.1 432.3 L955.1 431.0 L962.2 440.7 L962.9 436.9 L964.0 437.5Z"/>
<path d="M997.7 435.0 L996.9 434.5 L999.0 432.7 L990.3 431.7 L995.4 438.8 L996.0 436.1 L996.8 436.5Z"/>
<path d="M1029.2 435.8 L1029.0 435.3 L1030.7 435.1 L1026.6 431.5 L1026.7 436.9 L1028.0 435.7 L1028.2 436.2Z"/>
<circle cx="1061.5" cy="433.7" r="2.1"/>
<circle cx="1095.4" cy="433.7" r="2.1"/>
<path d="M1131.6 433.2 L1131.1 433.2 L1131.6 431.7 L1127.1 433.7 L1131.6 435.7 L1131.1 434.2 L1131.6 434.2Z"/>
<path d="M1165.4 434.4 L1165.0 434.2 L1166.2 433.1 L1161.3 432.6 L1164.2 436.6 L1164.5 435.0 L1164.9 435.3Z"/>
<path d="M1199.6 434.5 L1199.1 434.2 L1200.4 433.1 L1195.0 432.5 L1198.2 436.9 L1198.5 435.2 L1199.0 435.5Z"/>
<circle cx="1231.0" cy="433.7" r="2.1"/>
<circle cx="1264.9" cy="433.7" r="2.1"/>
<circle cx="1298.8" cy="433.7" r="2.1"/>
<path d="M1335.1 434.5 L1334.7 434.2 L1336.0 433.1 L1330.5 432.5 L1333.8 436.9 L1334.1 435.2 L1334.6 435.5Z"/>
<path d="M350.6 471.7 L350.6 470.8 L353.3 471.7 L349.7 463.7 L346.2 471.7 L348.9 470.8 L348.9 471.7Z"/>
<path d="M384.2 472.2 L384.3 471.2 L387.2 472.5 L384.0 463.2 L379.3 471.8 L382.3 471.1 L382.3 472.1Z"/>
<path d="M420.5 474.8 L420.2 473.1 L425.4 473.9 L416.2 460.3 L412.3 476.2 L416.9 473.7 L417.2 475.3Z"/>
<path d="M452.8 473.7 L452.8 472.3 L456.8 473.7 L451.4 461.7 L446.1 473.7 L450.1 472.3 L450.1 473.7Z"/>
<path d="M486.7 473.7 L486.7 472.3 L490.7 473.7 L485.3 461.7 L480.0 473.7 L484.0 472.3 L484.0 473.7Z"/>
<path d="M518.7 474.2 L519.1 472.9 L522.8 475.5 L521.1 461.5 L511.9 472.2 L516.4 472.0 L516.0 473.4Z"/>
<path d="M551.7 473.0 L552.3 471.9 L554.9 474.7 L555.6 462.8 L546.4 470.3 L550.1 470.9 L549.6 471.9Z"/>
<path d="M585.7 471.5 L586.2 470.8 L588.0 472.9 L589.1 464.2 L581.9 469.3 L584.6 469.9 L584.2 470.6Z"/>
<path d="M621.9 472.2 L621.9 471.2 L624.9 472.2 L620.9 463.2 L616.9 472.2 L619.9 471.2 L619.9 472.2Z"/>
<path d="M655.7 471.7 L655.7 470.8 L658.4 471.7 L654.8 463.7 L651.2 471.7 L653.9 470.8 L653.9 471.7Z"/>
<path d="M687.8 470.6 L688.1 470.0 L689.5 471.6 L690.2 465.1 L684.9 468.9 L687.0 469.3 L686.6 469.9Z"/>
<path d="M723.1 470.2 L723.1 469.6 L724.8 470.2 L722.6 465.2 L720.4 470.2 L722.0 469.6 L722.0 470.2Z"/>
<path d="M757.5 472.2 L757.5 471.2 L760.5 472.2 L756.5 463.2 L752.5 472.2 L755.5 471.2 L755.5 472.2Z"/>
<path d="M791.9 474.4 L791.9 472.9 L796.4 474.4 L790.4 460.9 L784.4 474.4 L788.9 472.9 L788.9 474.4Z"/>
<path d="M825.5 473.2 L825.5 471.9 L829.2 473.2 L824.3 462.2 L819.4 473.2 L823.1 471.9 L823.1 473.2Z"/>
<path d="M861.8 470.5 L861.2 469.7 L864.1 468.5 L855.3 464.2 L858.0 473.7 L859.7 471.0 L860.3 471.7Z"/>
<path d="M896.5 469.0 L895.6 468.5 L898.0 466.4 L888.2 465.4 L894.0 473.4 L894.6 470.3 L895.5 470.8Z"/>
<path d="M928.9 468.6 L928.3 468.2 L929.9 466.9 L923.4 466.2 L927.2 471.5 L927.6 469.4 L928.2 469.7Z"/>
<path d="M963.5 468.8 L962.8 468.4 L964.8 466.6 L956.6 465.8 L961.4 472.4 L962.0 469.8 L962.7 470.3Z"/>
<path d="M996.8 467.3 L996.1 467.2 L997.0 465.3 L990.8 467.4 L996.5 470.6 L996.0 468.5 L996.7 468.6Z"/>
<path d="M1031.7 468.2 L1030.9 467.9 L1032.6 465.7 L1023.9 466.3 L1030.2 472.4 L1030.3 469.6 L1031.1 469.9Z"/>
<path d="M1065.1 468.1 L1064.4 467.9 L1065.9 465.9 L1058.3 466.5 L1063.8 471.8 L1063.8 469.3 L1064.6 469.6Z"/>
<path d="M1098.2 468.3 L1097.6 468.0 L1099.0 466.6 L1092.9 466.5 L1096.9 471.0 L1097.1 469.1 L1097.7 469.4Z"/>
<path d="M1131.8 468.4 L1131.3 468.2 L1132.6 467.0 L1127.2 466.4 L1130.4 470.8 L1130.7 469.1 L1131.2 469.4Z"/>
<circle cx="1163.2" cy="467.7" r="2.1"/>
<circle cx="1197.1" cy="467.7" r="2.1"/>
<circle cx="1231.0" cy="467.7" r="2.1"/>
<circle cx="1264.9" cy="467.7" r="2.1"/>
<path d="M1300.5 469.9 L1300.3 469.3 L1302.2 469.1 L1297.6 465.2 L1297.8 471.2 L1299.2 469.9 L1299.4 470.4Z"/>
<path d="M1335.1 468.4 L1334.7 468.2 L1336.0 467.0 L1330.5 466.4 L1333.8 470.8 L1334.1 469.1 L1334.6 469.4Z"/>
<circle cx="349.7" cy="501.6" r="2.1"/>
<path d="M381.1 502.1 L381.7 502.1 L381.1 503.8 L386.1 501.6 L381.1 499.4 L381.7 501.0 L381.1 501.0Z"/>
<path d="M419.5 506.9 L419.3 505.6 L423.1 506.3 L416.8 496.1 L413.5 507.7 L416.9 506.0 L417.1 507.2Z"/>
<path d="M452.7 507.3 L452.7 506.1 L456.5 507.3 L451.4 495.8 L446.3 507.3 L450.2 506.1 L450.2 507.3Z"/>
<path d="M486.5 506.8 L486.5 505.7 L490.0 506.8 L485.3 496.3 L480.7 506.8 L484.2 505.7 L484.2 506.8Z"/>
<path d="M519.2 508.8 L519.5 507.2 L523.7 509.8 L520.8 494.8 L511.6 507.0 L516.5 506.5 L516.1 508.1Z"/>
<path d="M552.4 506.8 L552.8 505.7 L555.6 507.9 L554.9 496.8 L547.1 504.8 L550.7 504.9 L550.3 506.0Z"/>
<path d="M587.3 506.1 L587.4 505.1 L590.2 506.5 L587.7 497.2 L582.5 505.3 L585.5 504.8 L585.4 505.8Z"/>
<path d="M619.9 504.8 L620.3 504.1 L621.8 505.8 L622.5 498.8 L616.8 503.0 L619.0 503.4 L618.7 504.0Z"/>
<path d="M653.8 504.8 L654.2 504.1 L655.7 505.8 L656.4 498.8 L650.7 503.0 L652.9 503.4 L652.5 504.0Z"/>
<path d="M689.3 504.1 L689.3 503.5 L690.9 504.1 L688.7 499.1 L686.5 504.1 L688.1 503.5 L688.1 504.1Z"/>
<path d="M724.5 504.2 L724.3 503.6 L726.5 503.3 L721.3 498.7 L721.3 505.7 L723.0 504.1 L723.2 504.8Z"/>
<path d="M759.0 505.2 L758.6 504.3 L761.6 504.1 L754.9 497.6 L754.6 506.9 L756.8 505.0 L757.2 505.9Z"/>
<path d="M793.2 505.2 L792.8 504.3 L795.9 504.0 L788.5 497.5 L788.7 507.3 L791.0 505.2 L791.4 506.1Z"/>
<path d="M828.3 504.8 L827.6 503.9 L830.9 502.7 L821.1 497.7 L824.0 508.3 L825.9 505.3 L826.6 506.2Z"/>
<path d="M862.7 503.7 L861.8 503.1 L864.6 501.2 L854.3 498.6 L859.3 508.0 L860.5 504.8 L861.3 505.4Z"/>
<path d="M896.6 503.3 L895.7 502.7 L898.3 500.6 L888.1 499.0 L893.7 507.7 L894.6 504.5 L895.5 505.1Z"/>
<path d="M930.6 501.4 L929.6 501.2 L931.1 498.4 L921.5 500.8 L929.7 506.3 L929.2 503.2 L930.2 503.3Z"/>
<path d="M963.1 502.3 L962.5 502.0 L964.0 500.3 L956.9 500.2 L961.6 505.6 L961.8 503.3 L962.5 503.6Z"/>
<path d="M998.5 502.8 L997.5 502.3 L999.9 500.0 L989.5 499.4 L996.1 507.5 L996.6 504.2 L997.5 504.7Z"/>
<path d="M1033.2 500.6 L1032.0 500.5 L1033.3 496.9 L1022.1 501.4 L1033.0 506.7 L1031.9 503.0 L1033.1 503.0Z"/>
<path d="M1068.0 500.1 L1066.6 500.1 L1068.0 495.8 L1055.0 501.6 L1068.0 507.4 L1066.6 503.0 L1068.0 503.0Z"/>
<path d="M1102.9 499.9 L1101.3 499.9 L1102.9 494.9 L1087.9 501.6 L1102.9 508.2 L1101.3 503.2 L1102.9 503.2Z"/>
<path d="M1137.5 501.2 L1135.8 500.9 L1138.4 496.0 L1121.5 500.2 L1136.0 510.0 L1135.1 504.4 L1136.9 504.7Z"/>
<path d="M1172.1 501.5 L1170.2 501.1 L1173.3 495.8 L1154.7 499.8 L1170.1 511.0 L1169.4 504.9 L1171.3 505.3Z"/>
<path d="M1205.3 501.2 L1203.6 500.9 L1206.2 496.0 L1189.2 500.2 L1203.8 510.0 L1202.9 504.4 L1204.7 504.7Z"/>
<path d="M1237.7 501.3 L1236.2 501.0 L1238.4 497.0 L1224.6 500.5 L1236.4 508.4 L1235.7 503.9 L1237.2 504.1Z"/>
<path d="M1271.1 501.8 L1269.8 501.5 L1272.1 498.0 L1259.1 500.0 L1269.3 508.3 L1269.1 504.1 L1270.4 504.4Z"/>
<path d="M1305.1 500.7 L1303.7 500.6 L1305.5 496.6 L1292.6 501.0 L1304.5 507.6 L1303.5 503.4 L1304.9 503.5Z"/>
<path d="M1337.7 500.5 L1336.6 500.5 L1337.7 497.1 L1327.7 501.6 L1337.7 506.0 L1336.6 502.7 L1337.7 502.7Z"/>
<path d="M350.0 533.2 L349.9 533.7 L348.6 532.7 L349.0 537.6 L352.4 534.1 L350.8 534.0 L351.0 533.6Z"/>
<circle cx="383.6" cy="535.5" r="2.1"/>
<path d="M415.0 536.1 L415.6 536.1 L415.0 537.7 L420.0 535.5 L415.0 533.3 L415.6 534.9 L415.0 534.9Z"/>
<path d="M453.3 543.8 L453.3 541.9 L458.8 543.8 L451.4 527.2 L444.1 543.8 L449.6 541.9 L449.6 543.8Z"/>
<path d="M486.4 540.5 L486.4 539.4 L489.8 540.5 L485.3 530.5 L480.9 540.5 L484.2 539.4 L484.2 540.5Z"/>
<path d="M520.3 540.5 L520.3 539.4 L523.7 540.5 L519.2 530.5 L514.8 540.5 L518.1 539.4 L518.1 540.5Z"/>
<path d="M555.2 542.1 L555.1 540.6 L559.7 541.7 L552.5 528.8 L547.7 542.7 L552.1 540.9 L552.2 542.4Z"/>
<path d="M588.0 539.8 L588.0 538.8 L590.8 539.8 L587.0 531.2 L583.2 539.8 L586.1 538.8 L586.1 539.8Z"/>
<path d="M622.3 537.7 L622.1 537.1 L623.8 537.1 L620.0 533.2 L619.7 538.6 L621.0 537.5 L621.2 538.0Z"/>
<path d="M655.6 539.2 L655.6 538.4 L658.1 539.2 L654.8 531.8 L651.5 539.2 L654.0 538.4 L654.0 539.2Z"/>
<path d="M691.3 538.0 L690.8 537.4 L693.2 536.7 L686.8 532.6 L688.0 540.1 L689.5 538.2 L689.9 538.9Z"/>
<path d="M725.6 538.8 L725.1 538.0 L728.2 537.4 L720.4 531.7 L721.4 541.3 L723.5 539.0 L723.9 539.8Z"/>
<path d="M759.4 539.1 L758.9 538.2 L762.1 537.8 L754.5 531.5 L754.9 541.3 L757.1 539.1 L757.6 540.0Z"/>
<path d="M793.9 537.9 L793.3 537.3 L796.0 536.0 L787.5 532.4 L790.5 541.1 L791.9 538.5 L792.6 539.2Z"/>
<path d="M829.1 536.8 L828.1 536.3 L830.6 534.0 L820.0 533.2 L826.5 541.6 L827.1 538.2 L828.1 538.7Z"/>
<path d="M863.8 537.3 L862.7 536.6 L865.7 533.9 L853.2 532.6 L860.6 542.8 L861.4 538.8 L862.5 539.5Z"/>
<path d="M897.0 537.0 L896.0 536.5 L898.6 534.2 L887.7 533.0 L894.2 541.8 L894.9 538.4 L895.8 539.0Z"/>
<path d="M930.4 536.7 L929.5 536.3 L931.8 534.1 L922.0 533.4 L928.1 541.1 L928.6 538.0 L929.5 538.5Z"/>
<path d="M966.3 537.2 L965.0 536.5 L968.3 533.3 L954.1 532.5 L963.0 543.6 L963.7 539.1 L965.0 539.7Z"/>
<path d="M999.7 537.0 L998.5 536.4 L1001.5 533.5 L988.4 532.8 L996.7 543.0 L997.3 538.8 L998.5 539.4Z"/>
<path d="M1029.5 537.9 L1029.2 537.3 L1031.3 537.1 L1026.4 532.8 L1026.5 539.3 L1028.0 537.9 L1028.3 538.5Z"/>
<path d="M1063.4 537.9 L1063.1 537.3 L1065.2 537.1 L1060.3 532.8 L1060.4 539.3 L1061.9 537.9 L1062.2 538.5Z"/>
<circle cx="1095.4" cy="535.5" r="2.1"/>
<path d="M1132.3 534.8 L1131.7 534.8 L1132.3 532.8 L1126.3 535.5 L1132.3 538.2 L1131.7 536.2 L1132.3 536.2Z"/>
<path d="M1167.7 534.5 L1166.7 534.5 L1167.7 531.5 L1158.7 535.5 L1167.7 539.5 L1166.7 536.5 L1167.7 536.5Z"/>
<path d="M1200.6 536.5 L1199.9 536.1 L1201.7 534.4 L1194.0 533.9 L1198.7 539.9 L1199.2 537.5 L1199.8 537.8Z"/>
<path d="M1233.5 534.9 L1233.0 534.9 L1233.5 533.3 L1228.5 535.5 L1233.5 537.7 L1233.0 536.1 L1233.5 536.1Z"/>
<path d="M1269.0 536.0 L1268.1 535.7 L1269.9 533.5 L1261.2 534.1 L1267.5 540.2 L1267.5 537.4 L1268.4 537.7Z"/>
<path d="M1304.7 535.8 L1303.5 535.4 L1305.7 532.1 L1293.3 534.0 L1303.0 541.9 L1302.8 537.9 L1304.0 538.2Z"/>
<path d="M1335.7 535.9 L1335.1 535.7 L1336.4 534.0 L1329.9 534.5 L1334.6 539.0 L1334.7 536.9 L1335.3 537.2Z"/>
<circle cx="349.7" cy="569.4" r="2.1"/>
<circle cx="383.6" cy="569.4" r="2.1"/>
<circle cx="417.5" cy="569.4" r="2.1"/>
<path d="M453.0 576.7 L453.0 575.1 L457.9 576.7 L451.4 562.2 L445.0 576.7 L449.8 575.1 L449.8 576.7Z"/>
<path d="M485.9 571.9 L485.9 571.4 L487.5 571.9 L485.3 566.9 L483.1 571.9 L484.8 571.4 L484.8 571.9Z"/>
<path d="M520.5 572.5 L520.4 571.8 L522.6 572.1 L518.7 566.2 L516.9 573.1 L518.9 572.0 L519.1 572.7Z"/>
<path d="M554.1 573.7 L554.1 572.7 L556.9 573.7 L553.1 565.2 L549.3 573.7 L552.2 572.7 L552.2 573.7Z"/>
<path d="M590.3 573.8 L589.8 572.7 L593.6 572.3 L584.7 564.6 L585.0 576.3 L587.7 573.7 L588.2 574.8Z"/>
<path d="M622.7 572.2 L622.4 571.5 L624.7 571.5 L619.8 566.4 L619.3 573.5 L621.1 572.0 L621.3 572.7Z"/>
<path d="M657.0 572.3 L656.7 571.6 L659.1 571.3 L653.3 566.2 L653.5 573.9 L655.2 572.2 L655.6 572.9Z"/>
<path d="M691.9 571.9 L691.4 571.2 L694.0 570.2 L686.1 566.4 L688.5 574.8 L690.0 572.4 L690.6 573.1Z"/>
<path d="M726.2 571.3 L725.5 570.7 L727.9 569.3 L719.5 566.8 L723.4 574.7 L724.4 572.1 L725.1 572.7Z"/>
<path d="M759.4 571.5 L758.9 570.9 L761.1 569.9 L754.1 566.8 L756.5 574.1 L757.7 572.0 L758.2 572.5Z"/>
<path d="M794.1 572.1 L793.5 571.4 L796.4 570.1 L787.4 566.1 L790.4 575.4 L792.0 572.7 L792.6 573.4Z"/>
<path d="M827.6 571.8 L827.0 571.1 L829.6 570.0 L821.6 566.4 L824.3 574.8 L825.7 572.3 L826.3 573.0Z"/>
<path d="M861.5 571.8 L860.9 571.1 L863.5 570.0 L855.5 566.4 L858.2 574.8 L859.6 572.3 L860.2 573.0Z"/>
<path d="M896.8 571.4 L895.9 570.7 L898.7 568.6 L888.0 566.6 L893.6 575.9 L894.6 572.6 L895.5 573.2Z"/>
<path d="M930.1 570.7 L929.3 570.3 L931.5 568.3 L922.3 567.3 L927.8 574.8 L928.4 571.9 L929.2 572.4Z"/>
<path d="M963.5 570.6 L962.8 570.2 L964.8 568.4 L956.6 567.5 L961.4 574.2 L962.0 571.6 L962.7 572.0Z"/>
<path d="M997.7 570.7 L996.9 570.2 L999.0 568.3 L990.3 567.4 L995.4 574.5 L996.0 571.7 L996.8 572.2Z"/>
<path d="M1033.6 571.1 L1032.4 570.4 L1035.4 567.5 L1022.3 566.6 L1030.4 576.9 L1031.1 572.8 L1032.3 573.4Z"/>
<path d="M1067.5 571.1 L1066.3 570.4 L1069.3 567.5 L1056.2 566.6 L1064.3 576.9 L1065.0 572.8 L1066.2 573.4Z"/>
<path d="M1099.9 570.6 L1099.0 570.2 L1101.3 568.0 L1091.5 567.3 L1097.5 575.1 L1098.1 571.9 L1098.9 572.4Z"/>
<path d="M1133.9 568.8 L1132.9 568.7 L1134.2 565.8 L1124.8 569.0 L1133.5 573.8 L1132.7 570.7 L1133.7 570.8Z"/>
<path d="M1164.0 572.9 L1164.0 572.1 L1166.3 572.9 L1163.2 565.9 L1160.1 572.9 L1162.4 572.1 L1162.4 572.9Z"/>
<path d="M1199.4 568.9 L1198.9 568.9 L1199.4 567.4 L1194.9 569.4 L1199.4 571.4 L1198.9 569.9 L1199.4 569.9Z"/>
<path d="M1233.3 568.9 L1232.8 568.9 L1233.3 567.4 L1228.8 569.4 L1233.3 571.4 L1232.8 569.9 L1233.3 569.9Z"/>
<circle cx="1264.9" cy="569.4" r="2.1"/>
<circle cx="1298.8" cy="569.4" r="2.1"/>
<circle cx="349.7" cy="603.3" r="2.1"/>
<circle cx="383.6" cy="603.3" r="2.1"/>
<circle cx="417.5" cy="603.3" r="2.1"/>
<path d="M452.2 606.8 L452.2 606.1 L454.5 606.8 L451.4 599.8 L448.3 606.8 L450.7 606.1 L450.7 606.8Z"/>
<path d="M486.7 609.3 L486.7 608.0 L490.7 609.3 L485.3 597.3 L480.0 609.3 L484.0 608.0 L484.0 609.3Z"/>
<path d="M517.3 606.4 L517.8 605.8 L518.9 608.0 L521.7 600.9 L514.5 603.6 L516.7 604.7 L516.2 605.3Z"/>
<path d="M549.4 609.0 L550.4 608.0 L552.4 612.2 L557.9 598.7 L544.2 603.7 L548.4 605.9 L547.3 606.9Z"/>
<path d="M589.2 604.0 L588.8 603.8 L590.0 602.7 L585.1 602.2 L588.0 606.2 L588.3 604.6 L588.7 604.9Z"/>
<path d="M622.9 606.0 L622.6 605.3 L624.9 605.1 L619.5 600.4 L619.7 607.5 L621.3 605.9 L621.6 606.6Z"/>
<path d="M656.1 605.1 L655.9 604.7 L657.4 604.5 L653.9 601.4 L654.0 606.1 L655.1 605.1 L655.3 605.5Z"/>
<path d="M690.9 606.2 L690.6 605.5 L693.0 605.2 L687.2 600.2 L687.4 607.8 L689.1 606.1 L689.5 606.8Z"/>
<path d="M727.1 605.7 L726.3 605.0 L729.3 603.1 L718.8 600.1 L723.6 610.0 L724.9 606.7 L725.7 607.4Z"/>
<path d="M759.9 605.5 L759.3 604.9 L761.8 603.7 L753.7 600.5 L756.8 608.7 L758.1 606.2 L758.7 606.8Z"/>
<path d="M794.6 606.3 L793.8 605.5 L797.0 604.1 L787.0 599.6 L790.4 610.0 L792.2 607.0 L792.9 607.8Z"/>
<path d="M828.6 605.6 L827.8 604.9 L830.6 603.2 L820.6 600.3 L825.2 609.6 L826.4 606.5 L827.2 607.2Z"/>
<path d="M861.6 606.0 L861.0 605.3 L863.8 604.2 L855.4 600.1 L858.0 609.0 L859.6 606.5 L860.2 607.2Z"/>
<path d="M895.3 605.8 L894.7 605.2 L897.4 604.1 L889.5 600.3 L891.9 608.7 L893.4 606.3 L894.0 607.0Z"/>
<path d="M930.0 605.6 L929.2 604.9 L932.0 603.4 L922.6 600.3 L926.6 609.3 L927.9 606.4 L928.6 607.1Z"/>
<path d="M962.1 604.0 L961.6 603.8 L962.8 602.7 L957.9 602.2 L960.8 606.2 L961.1 604.6 L961.6 604.9Z"/>
<path d="M996.1 606.4 L995.7 605.6 L998.4 605.3 L992.2 599.9 L992.3 608.1 L994.2 606.3 L994.6 607.1Z"/>
<path d="M1028.8 606.2 L1028.7 605.5 L1030.8 605.8 L1027.1 600.4 L1025.5 606.8 L1027.4 605.8 L1027.5 606.4Z"/>
<path d="M1063.4 605.8 L1063.1 605.2 L1065.2 604.9 L1060.3 600.6 L1060.4 607.2 L1061.9 605.7 L1062.2 606.3Z"/>
<circle cx="1095.4" cy="603.3" r="2.1"/>
<path d="M1131.2 605.8 L1130.9 605.2 L1133.0 604.9 L1128.1 600.6 L1128.2 607.2 L1129.7 605.7 L1130.0 606.3Z"/>
<path d="M1165.7 606.6 L1165.3 605.8 L1168.1 605.5 L1161.5 599.7 L1161.7 608.5 L1163.7 606.5 L1164.1 607.3Z"/>
<path d="M1202.1 605.9 L1201.2 605.2 L1204.5 603.1 L1192.9 599.8 L1198.2 610.6 L1199.6 607.0 L1200.5 607.8Z"/>
<path d="M1235.3 605.1 L1234.5 604.5 L1237.0 602.6 L1227.3 600.8 L1232.4 609.2 L1233.3 606.2 L1234.1 606.7Z"/>
<circle cx="1264.9" cy="603.3" r="2.1"/>
<circle cx="1298.8" cy="603.3" r="2.1"/>
<circle cx="349.7" cy="637.3" r="2.1"/>
<circle cx="383.6" cy="637.3" r="2.1"/>
<circle cx="417.5" cy="637.3" r="2.1"/>
<circle cx="451.4" cy="637.3" r="2.1"/>
<path d="M487.0 644.8 L487.0 643.1 L492.0 644.8 L485.3 629.8 L478.7 644.8 L483.7 643.1 L483.7 644.8Z"/>
<path d="M520.0 640.8 L520.0 640.0 L522.3 640.8 L519.2 633.8 L516.1 640.8 L518.4 640.0 L518.4 640.8Z"/>
<path d="M552.8 639.5 L553.0 639.1 L554.2 640.1 L553.9 635.1 L550.5 638.7 L552.0 638.7 L551.9 639.2Z"/>
<circle cx="587.0" cy="637.3" r="2.1"/>
<path d="M622.8 640.3 L622.6 639.6 L625.0 639.5 L619.7 634.0 L619.2 641.6 L621.1 640.1 L621.4 640.8Z"/>
<path d="M656.5 639.5 L656.3 638.9 L658.2 638.7 L653.6 634.8 L653.7 640.8 L655.2 639.5 L655.4 640.0Z"/>
<path d="M690.1 639.1 L689.9 638.6 L691.5 638.5 L687.7 635.2 L687.8 640.1 L689.0 639.1 L689.2 639.5Z"/>
<path d="M725.0 639.9 L724.6 639.2 L727.0 638.7 L720.8 634.2 L721.6 641.8 L723.3 640.0 L723.7 640.7Z"/>
<path d="M759.8 639.6 L759.2 639.0 L761.8 637.9 L753.8 634.3 L756.5 642.6 L757.9 640.2 L758.5 640.8Z"/>
<path d="M794.6 639.7 L793.8 638.9 L796.7 637.3 L786.9 634.1 L791.1 643.6 L792.4 640.5 L793.2 641.2Z"/>
<path d="M828.7 638.6 L827.8 638.1 L830.2 636.0 L820.4 635.0 L826.2 643.0 L826.8 639.9 L827.7 640.4Z"/>
<path d="M861.8 640.8 L861.2 639.9 L864.6 639.0 L855.4 633.1 L857.2 643.9 L859.4 641.1 L860.0 642.1Z"/>
<path d="M894.7 640.4 L894.3 639.6 L897.1 639.1 L890.2 633.7 L890.8 642.5 L892.7 640.4 L893.2 641.2Z"/>
<path d="M927.8 639.7 L927.6 639.1 L929.6 638.9 L924.7 634.5 L924.8 641.1 L926.3 639.7 L926.6 640.3Z"/>
<path d="M961.1 639.2 L960.9 638.7 L962.5 638.7 L959.1 635.1 L958.7 640.1 L960.0 639.1 L960.2 639.5Z"/>
<path d="M995.1 639.0 L994.9 638.6 L996.4 638.4 L992.8 635.3 L992.9 640.0 L994.0 639.0 L994.2 639.4Z"/>
<path d="M1031.6 638.5 L1030.8 638.0 L1032.9 636.2 L1024.2 635.3 L1029.3 642.3 L1029.9 639.6 L1030.7 640.0Z"/>
<path d="M1065.7 638.4 L1064.9 638.0 L1067.1 635.9 L1057.8 635.3 L1063.5 642.6 L1064.0 639.6 L1064.8 640.1Z"/>
<path d="M1099.6 638.4 L1098.8 638.0 L1101.0 635.9 L1091.7 635.3 L1097.4 642.6 L1097.9 639.6 L1098.7 640.1Z"/>
<path d="M1133.0 638.4 L1132.3 638.0 L1134.2 636.2 L1126.1 635.4 L1130.9 642.0 L1131.4 639.4 L1132.2 639.9Z"/>
<path d="M1167.0 638.8 L1166.3 638.3 L1168.5 636.6 L1159.9 635.0 L1164.5 642.5 L1165.3 639.8 L1166.0 640.3Z"/>
<path d="M1202.6 640.1 L1201.6 639.2 L1205.1 637.0 L1192.5 633.4 L1198.3 645.2 L1199.8 641.3 L1200.9 642.1Z"/>
<path d="M1235.8 639.7 L1234.9 639.0 L1238.0 637.1 L1227.0 633.9 L1232.0 644.2 L1233.4 640.8 L1234.3 641.5Z"/>
<path d="M1269.1 638.4 L1268.3 638.0 L1270.4 635.9 L1261.2 635.3 L1266.9 642.6 L1267.4 639.6 L1268.2 640.1Z"/>
<path d="M1303.4 636.7 L1302.4 636.6 L1303.6 633.7 L1294.3 636.9 L1302.9 641.6 L1302.2 638.6 L1303.2 638.6Z"/>
<path d="M1336.2 636.5 L1335.4 636.5 L1336.2 634.1 L1329.2 637.3 L1336.2 640.4 L1335.4 638.0 L1336.2 638.0Z"/>
<path d="M311.9 672.1 L312.7 672.1 L311.9 674.7 L319.9 671.2 L311.9 667.6 L312.7 670.3 L311.9 670.3Z"/>
<path d="M344.4 672.9 L345.6 672.8 L344.7 676.5 L355.2 670.7 L343.8 666.8 L345.4 670.3 L344.2 670.4Z"/>
<path d="M376.0 672.2 L377.7 672.3 L375.6 677.2 L391.1 671.8 L376.7 663.9 L378.0 669.0 L376.3 668.9Z"/>
<path d="M419.6 673.8 L419.3 673.2 L421.5 672.9 L416.2 668.2 L416.3 675.3 L417.9 673.8 L418.3 674.4Z"/>
<circle cx="451.4" cy="671.2" r="2.1"/>
<path d="M482.4 676.4 L483.2 675.5 L485.3 679.1 L489.3 666.8 L477.5 672.1 L481.3 673.7 L480.4 674.7Z"/>
<path d="M517.6 674.4 L518.1 673.8 L519.4 675.9 L521.5 668.5 L514.6 671.9 L516.9 672.8 L516.4 673.4Z"/>
<circle cx="553.1" cy="671.2" r="2.1"/>
<circle cx="587.0" cy="671.2" r="2.1"/>
<circle cx="620.9" cy="671.2" r="2.1"/>
<circle cx="654.8" cy="671.2" r="2.1"/>
<circle cx="688.7" cy="671.2" r="2.1"/>
<path d="M723.1 673.3 L723.1 672.9 L724.5 673.3 L722.6 669.0 L720.7 673.3 L722.1 672.9 L722.1 673.3Z"/>
<path d="M758.2 673.4 L757.9 672.9 L759.9 672.6 L755.3 668.7 L755.4 674.7 L756.8 673.4 L757.1 673.9Z"/>
<circle cx="790.4" cy="671.2" r="2.1"/>
<path d="M827.0 674.2 L826.6 673.4 L829.4 672.9 L822.3 667.7 L823.2 676.4 L825.1 674.3 L825.5 675.1Z"/>
<path d="M860.5 674.2 L860.2 673.5 L862.8 673.2 L856.6 667.8 L856.7 676.0 L858.6 674.2 L859.0 674.9Z"/>
<path d="M894.6 674.4 L894.2 673.6 L897.0 673.3 L890.4 667.6 L890.5 676.3 L892.6 674.4 L892.9 675.2Z"/>
<path d="M929.5 672.6 L928.8 672.2 L930.9 670.6 L922.9 669.0 L927.1 676.1 L927.9 673.5 L928.6 674.0Z"/>
<path d="M964.5 672.6 L963.6 672.1 L966.1 669.9 L955.7 668.8 L961.9 677.2 L962.5 673.9 L963.4 674.5Z"/>
<path d="M998.7 672.5 L997.7 672.0 L1000.3 669.6 L989.3 668.8 L996.1 677.5 L996.7 674.0 L997.6 674.5Z"/>
<path d="M1032.3 672.5 L1031.4 672.0 L1033.8 669.7 L1023.5 669.0 L1029.9 677.1 L1030.4 673.8 L1031.3 674.3Z"/>
<path d="M1065.7 672.3 L1064.9 671.9 L1067.1 669.8 L1057.8 669.2 L1063.5 676.5 L1064.0 673.6 L1064.8 674.0Z"/>
<path d="M1099.9 672.4 L1099.0 671.9 L1101.3 669.8 L1091.5 669.1 L1097.5 676.8 L1098.1 673.7 L1098.9 674.2Z"/>
<path d="M1132.8 672.1 L1132.1 671.8 L1133.9 670.1 L1126.2 669.5 L1131.0 675.6 L1131.4 673.1 L1132.1 673.5Z"/>
<path d="M1166.9 672.2 L1166.2 671.8 L1168.1 670.0 L1159.9 669.4 L1165.0 675.9 L1165.4 673.3 L1166.1 673.7Z"/>
<path d="M1202.5 672.9 L1201.4 672.3 L1204.3 669.7 L1192.4 668.4 L1199.4 678.2 L1200.2 674.4 L1201.3 675.0Z"/>
<path d="M1236.4 672.9 L1235.3 672.3 L1238.2 669.7 L1226.3 668.4 L1233.3 678.2 L1234.1 674.4 L1235.2 675.0Z"/>
<path d="M1270.5 671.7 L1269.4 671.3 L1271.7 668.2 L1259.7 669.5 L1268.6 677.5 L1268.6 673.7 L1269.8 674.0Z"/>
<path d="M1302.9 671.0 L1302.0 670.8 L1303.4 668.4 L1294.9 670.5 L1302.1 675.4 L1301.7 672.6 L1302.6 672.7Z"/>
<path d="M1335.8 671.0 L1335.1 670.9 L1336.1 669.1 L1329.7 670.7 L1335.2 674.3 L1334.9 672.2 L1335.5 672.4Z"/>
<path d="M346.1 703.9 L346.8 704.4 L344.8 706.1 L353.0 707.0 L348.2 700.3 L347.6 702.9 L346.9 702.5Z"/>
<path d="M376.2 705.4 L377.8 705.7 L375.4 710.2 L390.8 706.4 L377.6 697.5 L378.4 702.5 L376.8 702.3Z"/>
<path d="M410.7 706.6 L412.2 706.6 L410.7 711.1 L424.3 705.1 L410.7 699.1 L412.2 703.6 L410.7 703.6Z"/>
<path d="M443.9 706.8 L445.6 706.8 L443.9 711.8 L458.9 705.1 L443.9 698.4 L445.6 703.4 L443.9 703.4Z"/>
<path d="M479.7 705.8 L481.0 705.9 L479.4 709.5 L490.8 705.6 L480.3 699.8 L481.2 703.5 L480.0 703.4Z"/>
<path d="M515.2 706.8 L516.1 706.6 L515.7 709.6 L523.4 704.4 L514.4 702.1 L515.8 704.7 L514.9 704.9Z"/>
<path d="M555.4 704.6 L554.9 704.6 L555.4 703.1 L550.9 705.1 L555.4 707.1 L554.9 705.6 L555.4 705.6Z"/>
<circle cx="587.0" cy="705.1" r="2.1"/>
<circle cx="620.9" cy="705.1" r="2.1"/>
<circle cx="654.8" cy="705.1" r="2.1"/>
<circle cx="688.7" cy="705.1" r="2.1"/>
<path d="M723.1 707.6 L723.1 707.0 L724.8 707.6 L722.6 702.6 L720.4 707.6 L722.0 707.0 L722.0 707.6Z"/>
<path d="M757.0 707.4 L757.0 706.9 L758.5 707.4 L756.5 702.9 L754.5 707.4 L756.0 706.9 L756.0 707.4Z"/>
<path d="M790.9 707.4 L790.9 706.9 L792.4 707.4 L790.4 702.9 L788.4 707.4 L789.9 706.9 L789.9 707.4Z"/>
<path d="M824.8 707.6 L824.8 707.0 L826.5 707.6 L824.3 702.6 L822.1 707.6 L823.7 707.0 L823.7 707.6Z"/>
<path d="M861.1 706.0 L860.5 705.7 L862.1 704.3 L855.6 703.6 L859.4 708.9 L859.9 706.8 L860.4 707.2Z"/>
<path d="M894.5 705.9 L894.0 705.6 L895.3 704.4 L889.9 703.9 L893.1 708.3 L893.5 706.6 L894.0 706.8Z"/>
<path d="M928.9 706.0 L928.3 705.7 L929.9 704.3 L923.4 703.6 L927.2 708.9 L927.6 706.8 L928.2 707.2Z"/>
<path d="M963.6 706.1 L962.8 705.7 L964.7 703.9 L956.5 703.3 L961.6 709.8 L962.0 707.2 L962.8 707.6Z"/>
<path d="M997.5 706.1 L996.7 705.7 L998.6 703.9 L990.4 703.3 L995.5 709.8 L995.9 707.2 L996.7 707.6Z"/>
<path d="M1032.3 705.3 L1031.3 705.0 L1033.0 702.4 L1023.3 703.9 L1031.0 710.1 L1030.8 707.0 L1031.7 707.2Z"/>
<path d="M1066.9 705.1 L1065.8 704.8 L1067.6 701.6 L1056.4 704.0 L1065.7 710.8 L1065.3 707.1 L1066.4 707.3Z"/>
<path d="M1101.3 705.1 L1100.1 704.9 L1102.2 701.4 L1089.8 703.8 L1099.9 711.4 L1099.5 707.4 L1100.8 707.6Z"/>
<path d="M1134.2 705.3 L1133.2 705.0 L1135.0 702.3 L1124.7 703.9 L1132.8 710.4 L1132.6 707.1 L1133.6 707.3Z"/>
<path d="M1168.8 705.8 L1167.7 705.4 L1170.1 702.4 L1158.1 703.2 L1166.7 711.6 L1166.8 707.7 L1168.0 708.1Z"/>
<path d="M1202.0 705.3 L1201.0 705.0 L1202.8 702.3 L1192.5 703.9 L1200.6 710.4 L1200.4 707.1 L1201.4 707.3Z"/>
<path d="M1237.4 705.7 L1236.1 705.3 L1238.7 701.7 L1225.1 703.2 L1235.2 712.3 L1235.2 707.9 L1236.5 708.4Z"/>
<path d="M1270.8 705.9 L1269.5 705.4 L1272.1 702.3 L1259.5 703.1 L1268.6 711.9 L1268.7 707.8 L1269.9 708.3Z"/>
<path d="M1303.9 705.3 L1302.8 705.0 L1304.8 702.1 L1294.0 703.8 L1302.5 710.7 L1302.3 707.2 L1303.3 707.5Z"/>
<path d="M1336.8 705.3 L1335.9 705.0 L1337.5 702.7 L1328.8 704.1 L1335.6 709.6 L1335.5 706.8 L1336.3 707.0Z"/>
<path d="M347.3 738.3 L347.8 738.5 L346.5 739.7 L351.9 740.3 L348.7 735.8 L348.3 737.6 L347.9 737.3Z"/>
<path d="M380.2 737.9 L380.9 738.3 L379.1 740.0 L386.7 740.8 L382.2 734.6 L381.7 737.0 L381.0 736.6Z"/>
<path d="M414.1 737.9 L414.8 738.3 L412.9 740.0 L420.6 740.8 L416.1 734.6 L415.6 737.0 L414.9 736.6Z"/>
<path d="M447.9 740.5 L448.7 740.3 L448.3 743.0 L455.1 738.4 L447.2 736.4 L448.4 738.7 L447.6 738.9Z"/>
<path d="M483.8 737.3 L484.0 737.8 L482.5 738.1 L486.5 741.0 L485.9 736.1 L484.9 737.3 L484.6 736.8Z"/>
<path d="M521.1 741.1 L520.8 740.6 L522.7 740.2 L517.8 736.6 L518.5 742.6 L519.8 741.2 L520.1 741.7Z"/>
<path d="M558.0 738.8 L556.9 738.6 L558.5 735.7 L548.4 738.2 L557.1 744.0 L556.6 740.7 L557.6 740.9Z"/>
<path d="M583.6 740.1 L584.4 740.0 L583.8 742.4 L590.5 738.7 L583.3 736.2 L584.2 738.5 L583.5 738.6Z"/>
<path d="M621.8 743.3 L621.8 742.3 L624.7 743.3 L620.9 734.8 L617.1 743.3 L620.0 742.3 L620.0 743.3Z"/>
<circle cx="654.8" cy="739.0" r="2.1"/>
<path d="M692.8 741.1 L692.0 740.5 L694.7 738.8 L685.2 736.1 L689.6 745.0 L690.7 742.0 L691.5 742.7Z"/>
<path d="M723.1 741.2 L723.1 740.7 L724.5 741.2 L722.6 736.9 L720.7 741.2 L722.1 740.7 L722.1 741.2Z"/>
<circle cx="756.5" cy="739.0" r="2.1"/>
<circle cx="790.4" cy="739.0" r="2.1"/>
<circle cx="824.3" cy="739.0" r="2.1"/>
<path d="M861.1 739.9 L860.5 739.6 L862.1 738.2 L855.6 737.5 L859.4 742.8 L859.9 740.8 L860.4 741.1Z"/>
<path d="M894.4 739.8 L893.9 739.5 L895.2 738.4 L890.0 737.8 L893.1 742.1 L893.4 740.4 L893.9 740.7Z"/>
<path d="M928.1 739.7 L927.6 739.4 L928.8 738.4 L924.1 737.9 L926.9 741.8 L927.2 740.3 L927.6 740.5Z"/>
<path d="M963.6 740.0 L962.8 739.7 L964.7 737.8 L956.5 737.3 L961.6 743.7 L962.0 741.1 L962.8 741.5Z"/>
<path d="M997.8 739.9 L996.9 739.5 L998.9 737.5 L990.1 737.3 L995.9 743.9 L996.2 741.1 L997.0 741.5Z"/>
<path d="M1032.8 739.2 L1031.7 739.0 L1033.6 736.0 L1022.8 737.7 L1031.3 744.6 L1031.1 741.1 L1032.2 741.4Z"/>
<path d="M1067.2 738.8 L1066.0 738.6 L1067.8 735.2 L1056.1 738.1 L1066.1 744.8 L1065.5 741.0 L1066.7 741.2Z"/>
<path d="M1101.8 738.5 L1100.4 738.3 L1102.4 734.4 L1089.2 738.2 L1100.9 745.4 L1100.1 741.1 L1101.4 741.3Z"/>
<path d="M1134.7 738.6 L1133.5 738.4 L1135.2 735.1 L1124.1 738.3 L1133.9 744.4 L1133.2 740.7 L1134.4 740.9Z"/>
<path d="M1168.1 738.8 L1167.0 738.6 L1168.6 735.7 L1158.5 738.2 L1167.2 744.0 L1166.7 740.7 L1167.7 740.9Z"/>
<path d="M1202.0 738.8 L1200.9 738.6 L1202.5 735.7 L1192.4 738.2 L1201.1 744.0 L1200.6 740.7 L1201.6 740.9Z"/>
<path d="M1236.4 740.5 L1235.4 739.9 L1238.2 737.3 L1226.2 736.4 L1233.6 745.9 L1234.2 742.1 L1235.3 742.7Z"/>
<path d="M1269.7 738.0 L1268.6 738.0 L1269.7 734.8 L1260.2 739.0 L1269.7 743.2 L1268.6 740.1 L1269.7 740.1Z"/>
<path d="M1303.6 738.0 L1302.5 738.0 L1303.6 734.8 L1294.1 739.0 L1303.6 743.2 L1302.5 740.1 L1303.6 740.1Z"/>
<path d="M1336.7 738.1 L1335.8 738.1 L1336.7 735.5 L1328.7 739.0 L1336.7 742.6 L1335.8 739.9 L1336.7 739.9Z"/>
<circle cx="349.7" cy="772.9" r="2.1"/>
<circle cx="383.6" cy="772.9" r="2.1"/>
<circle cx="417.5" cy="772.9" r="2.1"/>
<circle cx="451.4" cy="772.9" r="2.1"/>
<circle cx="485.3" cy="772.9" r="2.1"/>
<circle cx="519.2" cy="772.9" r="2.1"/>
<path d="M556.0 773.9 L555.5 773.5 L557.0 772.1 L550.5 771.4 L554.4 776.7 L554.8 774.7 L555.4 775.0Z"/>
<path d="M587.5 775.1 L587.5 774.6 L588.9 775.1 L587.0 770.8 L585.1 775.1 L586.5 774.6 L586.5 775.1Z"/>
<path d="M621.4 775.1 L621.4 774.6 L622.8 775.1 L620.9 770.8 L619.0 775.1 L620.4 774.6 L620.4 775.1Z"/>
<circle cx="654.8" cy="772.9" r="2.1"/>
<circle cx="688.7" cy="772.9" r="2.1"/>
<path d="M723.4 776.4 L723.4 775.7 L725.7 776.4 L722.6 769.4 L719.5 776.4 L721.8 775.7 L721.8 776.4Z"/>
<circle cx="756.5" cy="772.9" r="2.1"/>
<circle cx="790.4" cy="772.9" r="2.1"/>
<path d="M824.8 775.1 L824.8 774.6 L826.2 775.1 L824.3 770.8 L822.4 775.1 L823.8 774.6 L823.8 775.1Z"/>
<path d="M860.7 772.4 L860.1 772.4 L860.7 770.7 L855.7 772.9 L860.7 775.2 L860.1 773.5 L860.7 773.5Z"/>
<path d="M895.1 772.3 L894.4 772.3 L895.1 770.3 L889.1 772.9 L895.1 775.6 L894.4 773.6 L895.1 773.6Z"/>
<path d="M929.0 772.3 L928.3 772.3 L929.0 770.3 L923.0 772.9 L929.0 775.6 L928.3 773.6 L929.0 773.6Z"/>
<path d="M962.9 772.3 L962.2 772.3 L962.9 770.3 L956.9 772.9 L962.9 775.6 L962.2 773.6 L962.9 773.6Z"/>
<path d="M997.0 772.2 L996.3 772.2 L997.0 770.1 L990.5 772.9 L997.0 775.8 L996.3 773.7 L997.0 773.7Z"/>
<path d="M1031.1 772.2 L1030.4 772.2 L1031.1 769.8 L1024.1 772.9 L1031.1 776.1 L1030.4 773.7 L1031.1 773.7Z"/>
<path d="M1065.8 772.0 L1064.8 772.0 L1065.8 769.2 L1057.3 772.9 L1065.8 776.7 L1064.8 773.9 L1065.8 773.9Z"/>
<path d="M1099.9 771.9 L1098.9 771.9 L1099.9 768.9 L1090.9 772.9 L1099.9 776.9 L1098.9 773.9 L1099.9 773.9Z"/>
<path d="M1133.8 771.9 L1132.8 771.9 L1133.8 768.9 L1124.8 772.9 L1133.8 776.9 L1132.8 773.9 L1133.8 773.9Z"/>
<path d="M1167.7 771.9 L1166.7 771.9 L1167.7 768.9 L1158.7 772.9 L1167.7 776.9 L1166.7 773.9 L1167.7 773.9Z"/>
<path d="M1201.6 771.9 L1200.6 771.9 L1201.6 768.9 L1192.6 772.9 L1201.6 776.9 L1200.6 773.9 L1201.6 773.9Z"/>
<path d="M1235.5 771.9 L1234.5 771.9 L1235.5 768.9 L1226.5 772.9 L1235.5 776.9 L1234.5 773.9 L1235.5 773.9Z"/>
<path d="M1269.8 771.9 L1268.7 771.9 L1269.8 768.6 L1260.1 772.9 L1269.8 777.3 L1268.7 774.0 L1269.8 774.0Z"/>
<path d="M1303.8 771.8 L1302.7 771.8 L1303.8 768.5 L1293.8 772.9 L1303.8 777.4 L1302.7 774.1 L1303.8 774.1Z"/>
<path d="M1336.7 772.1 L1335.8 772.1 L1336.7 769.4 L1328.7 772.9 L1336.7 776.5 L1335.8 773.8 L1336.7 773.8Z"/>
<path d="M350.2 809.0 L350.2 808.5 L351.7 809.0 L349.7 804.7 L347.8 809.0 L349.3 808.5 L349.3 809.0Z"/>
<circle cx="383.6" cy="806.9" r="2.1"/>
<circle cx="417.5" cy="806.9" r="2.1"/>
<circle cx="451.4" cy="806.9" r="2.1"/>
<circle cx="485.3" cy="806.9" r="2.1"/>
<circle cx="519.2" cy="806.9" r="2.1"/>
<circle cx="553.1" cy="806.9" r="2.1"/>
<circle cx="587.0" cy="806.9" r="2.1"/>
<circle cx="620.9" cy="806.9" r="2.1"/>
<circle cx="654.8" cy="806.9" r="2.1"/>
<path d="M691.9 806.1 L691.2 806.1 L691.9 804.0 L685.4 806.9 L691.9 809.7 L691.2 807.6 L691.9 807.6Z"/>
<path d="M729.0 808.6 L727.7 808.0 L731.0 804.8 L716.9 803.8 L725.6 815.0 L726.4 810.5 L727.7 811.2Z"/>
<path d="M762.9 805.7 L761.5 805.6 L763.1 801.4 L750.1 806.6 L762.7 812.8 L761.4 808.5 L762.8 808.5Z"/>
<path d="M796.3 804.5 L794.9 804.7 L795.6 800.4 L784.3 807.8 L797.4 811.3 L795.4 807.5 L796.7 807.3Z"/>
<path d="M827.9 806.7 L827.1 806.6 L828.3 804.4 L820.8 806.3 L827.2 810.5 L826.8 808.1 L827.6 808.2Z"/>
<path d="M861.4 806.1 L860.7 806.1 L861.4 804.0 L854.9 806.9 L861.4 809.7 L860.7 807.6 L861.4 807.6Z"/>
<path d="M894.4 805.9 L893.9 806.0 L894.1 804.2 L889.6 807.3 L894.9 808.6 L894.1 807.1 L894.6 807.0Z"/>
<path d="M928.5 806.3 L927.9 806.3 L928.5 804.6 L923.5 806.9 L928.5 809.1 L927.9 807.4 L928.5 807.4Z"/>
<path d="M962.2 806.3 L961.6 806.3 L962.2 804.8 L957.6 806.9 L962.2 808.9 L961.6 807.4 L962.2 807.4Z"/>
<path d="M996.5 806.2 L995.9 806.2 L996.5 804.4 L991.0 806.9 L996.5 809.3 L995.9 807.5 L996.5 807.5Z"/>
<path d="M1030.9 807.3 L1030.3 807.0 L1031.7 805.3 L1024.6 805.7 L1029.7 810.7 L1029.8 808.4 L1030.5 808.7Z"/>
<path d="M1065.1 807.0 L1064.4 806.8 L1065.7 804.8 L1058.2 806.0 L1064.1 810.8 L1064.0 808.3 L1064.7 808.5Z"/>
<path d="M1100.0 806.0 L1099.0 806.0 L1100.1 803.0 L1090.9 806.7 L1099.8 811.0 L1098.9 808.0 L1099.9 808.0Z"/>
<path d="M1133.8 805.9 L1132.8 805.9 L1133.8 802.9 L1124.8 806.9 L1133.8 810.9 L1132.8 807.9 L1133.8 807.9Z"/>
<path d="M1168.8 807.6 L1167.7 807.2 L1170.1 804.1 L1158.1 805.0 L1166.7 813.3 L1166.8 809.5 L1168.0 809.9Z"/>
<path d="M1201.5 807.0 L1200.6 806.8 L1202.2 804.3 L1193.0 805.8 L1200.2 811.6 L1200.1 808.6 L1201.0 808.9Z"/>
<path d="M1234.5 806.1 L1233.7 806.1 L1234.5 803.7 L1227.5 806.9 L1234.5 810.0 L1233.7 807.6 L1234.5 807.6Z"/>
<path d="M1268.7 806.0 L1267.8 806.0 L1268.7 803.5 L1261.2 806.9 L1268.7 810.2 L1267.8 807.7 L1268.7 807.7Z"/>
<path d="M1303.1 805.9 L1302.1 805.9 L1303.1 803.1 L1294.6 806.9 L1303.1 810.6 L1302.1 807.8 L1303.1 807.8Z"/>
<path d="M319.4 840.0 L318.6 840.0 L319.4 837.7 L312.4 840.8 L319.4 843.9 L318.6 841.6 L319.4 841.6Z"/>
<path d="M353.2 840.0 L352.5 840.0 L353.2 837.7 L346.2 840.8 L353.2 843.9 L352.5 841.6 L353.2 841.6Z"/>
<path d="M387.3 839.6 L386.5 839.7 L387.1 837.1 L379.9 841.1 L387.7 843.8 L386.6 841.4 L387.4 841.3Z"/>
<path d="M421.0 840.0 L420.3 840.0 L421.0 837.7 L414.0 840.8 L421.0 843.9 L420.3 841.6 L421.0 841.6Z"/>
<path d="M455.4 839.9 L454.5 839.9 L455.4 837.2 L447.4 840.8 L455.4 844.3 L454.5 841.7 L455.4 841.7Z"/>
<path d="M488.8 840.0 L488.0 840.0 L488.8 837.7 L481.8 840.8 L488.8 843.9 L488.0 841.6 L488.8 841.6Z"/>
<path d="M522.5 840.9 L521.8 840.7 L523.1 838.8 L516.1 839.9 L521.6 844.4 L521.5 842.1 L522.2 842.3Z"/>
<path d="M555.8 841.6 L555.3 841.3 L556.7 840.0 L550.7 839.4 L554.3 844.3 L554.7 842.4 L555.2 842.7Z"/>
<path d="M590.5 840.0 L589.7 840.0 L590.5 837.7 L583.5 840.8 L590.5 843.9 L589.7 841.6 L590.5 841.6Z"/>
<path d="M625.2 839.8 L624.2 839.8 L625.2 837.0 L616.7 840.8 L625.2 844.6 L624.2 841.7 L625.2 841.7Z"/>
<path d="M661.3 839.9 L659.9 839.8 L661.7 835.7 L648.4 840.2 L660.7 847.0 L659.6 842.6 L661.1 842.8Z"/>
<path d="M695.7 839.2 L694.1 839.2 L695.7 834.6 L681.7 840.8 L695.7 847.0 L694.1 842.3 L695.7 842.3Z"/>
<path d="M727.7 841.0 L726.6 840.7 L728.6 837.8 L717.8 839.5 L726.3 846.4 L726.1 842.9 L727.1 843.1Z"/>
<path d="M761.6 841.0 L760.5 840.7 L762.5 837.8 L751.7 839.5 L760.2 846.4 L760.0 842.9 L761.0 843.1Z"/>
<path d="M794.9 839.8 L793.9 839.8 L794.9 836.8 L785.9 840.8 L794.9 844.8 L793.9 841.8 L794.9 841.8Z"/>
<path d="M829.4 840.1 L828.2 840.0 L829.6 836.8 L819.3 840.3 L828.9 845.6 L828.1 842.2 L829.2 842.3Z"/>
<path d="M861.9 839.9 L861.1 839.9 L861.9 837.4 L854.4 840.8 L861.9 844.1 L861.1 841.6 L861.9 841.6Z"/>
<path d="M894.9 841.1 L894.3 840.9 L895.5 839.4 L889.5 839.8 L893.8 844.0 L893.9 842.1 L894.4 842.3Z"/>
<path d="M928.5 840.2 L927.9 840.2 L928.5 838.6 L923.5 840.8 L928.5 843.0 L927.9 841.3 L928.5 841.3Z"/>
<path d="M962.5 840.2 L961.9 840.2 L962.5 838.4 L957.2 840.8 L962.5 843.1 L961.9 841.4 L962.5 841.4Z"/>
<path d="M996.2 841.5 L995.7 841.3 L997.0 840.1 L991.6 839.5 L994.8 844.0 L995.2 842.2 L995.6 842.5Z"/>
<path d="M1030.6 841.4 L1030.0 841.2 L1031.5 839.6 L1024.9 839.5 L1029.2 844.5 L1029.5 842.4 L1030.1 842.7Z"/>
<path d="M1064.6 840.6 L1064.0 840.5 L1065.0 838.7 L1058.6 840.3 L1064.0 843.9 L1063.7 841.8 L1064.4 842.0Z"/>
<path d="M1097.9 840.2 L1097.4 840.2 L1097.9 838.6 L1092.9 840.8 L1097.9 843.0 L1097.4 841.3 L1097.9 841.3Z"/>
<path d="M1131.6 840.3 L1131.1 840.3 L1131.6 838.8 L1127.1 840.8 L1131.6 842.8 L1131.1 841.3 L1131.6 841.3Z"/>
<path d="M1162.5 843.2 L1162.7 842.7 L1163.9 844.1 L1164.5 838.6 L1160.1 841.8 L1161.8 842.2 L1161.5 842.7Z"/>
<circle cx="1197.1" cy="840.8" r="2.1"/>
<circle cx="1231.0" cy="840.8" r="2.1"/>
<path d="M1265.6 843.8 L1265.6 843.1 L1267.6 843.8 L1264.9 837.8 L1262.2 843.8 L1264.2 843.1 L1264.2 843.8Z"/>
<path d="M1300.1 842.5 L1299.9 842.1 L1301.4 841.9 L1297.9 838.8 L1298.0 843.5 L1299.1 842.5 L1299.3 842.9Z"/>
<path d="M321.9 873.4 L320.5 873.4 L321.9 869.4 L309.9 874.7 L321.9 880.0 L320.5 876.0 L321.9 876.0Z"/>
<path d="M355.9 873.1 L354.6 873.1 L355.8 868.9 L343.5 874.9 L356.2 880.0 L354.7 875.9 L356.0 875.9Z"/>
<path d="M390.4 873.2 L388.9 873.2 L390.4 868.7 L376.9 874.7 L390.4 880.7 L388.9 876.2 L390.4 876.2Z"/>
<path d="M424.8 873.3 L423.2 873.3 L425.0 868.5 L410.3 874.4 L424.6 881.4 L423.1 876.5 L424.7 876.6Z"/>
<path d="M459.1 873.0 L457.4 873.0 L459.1 867.9 L443.8 874.7 L459.1 881.5 L457.4 876.4 L459.1 876.4Z"/>
<path d="M492.7 873.1 L491.1 873.1 L492.7 868.1 L477.9 874.7 L492.7 881.3 L491.1 876.3 L492.7 876.3Z"/>
<path d="M526.9 873.0 L525.2 873.0 L526.9 867.9 L511.6 874.7 L526.9 881.5 L525.2 876.4 L526.9 876.4Z"/>
<path d="M560.6 873.7 L559.0 873.6 L561.1 868.8 L545.7 874.1 L559.9 881.9 L558.7 876.8 L560.3 877.0Z"/>
<path d="M594.4 873.7 L592.8 873.6 L594.8 868.9 L579.8 874.1 L593.7 881.8 L592.5 876.8 L594.1 876.9Z"/>
<path d="M626.9 873.4 L625.6 873.4 L626.9 869.4 L614.9 874.7 L626.9 880.0 L625.6 876.0 L626.9 876.0Z"/>
<path d="M659.1 873.8 L658.1 873.8 L659.1 870.9 L650.6 874.7 L659.1 878.5 L658.1 875.6 L659.1 875.6Z"/>
<path d="M691.4 874.1 L690.8 874.1 L691.4 872.3 L685.9 874.7 L691.4 877.1 L690.8 875.3 L691.4 875.3Z"/>
<path d="M725.1 874.1 L724.5 874.1 L725.1 872.5 L720.1 874.7 L725.1 876.9 L724.5 875.3 L725.1 875.3Z"/>
<path d="M758.7 875.0 L758.2 874.8 L759.2 873.6 L754.5 874.0 L757.9 877.2 L757.9 875.7 L758.3 875.9Z"/>
<circle cx="790.4" cy="874.7" r="2.1"/>
<circle cx="824.3" cy="874.7" r="2.1"/>
<circle cx="858.2" cy="874.7" r="2.1"/>
<circle cx="892.1" cy="874.7" r="2.1"/>
<path d="M928.1 874.2 L927.6 874.2 L928.1 872.8 L923.8 874.7 L928.1 876.6 L927.6 875.2 L928.1 875.2Z"/>
<path d="M961.0 876.6 L960.9 876.1 L962.4 876.1 L959.1 872.7 L958.8 877.4 L960.0 876.4 L960.1 876.9Z"/>
<path d="M994.2 876.9 L994.2 876.4 L995.7 876.9 L993.8 872.6 L991.8 876.9 L993.3 876.4 L993.3 876.9Z"/>
<circle cx="1027.6" cy="874.7" r="2.1"/>
<circle cx="1061.5" cy="874.7" r="2.1"/>
<circle cx="1095.4" cy="874.7" r="2.1"/>
<circle cx="1129.3" cy="874.7" r="2.1"/>
<path d="M1163.8 877.5 L1163.8 876.8 L1165.7 877.5 L1163.2 872.0 L1160.8 877.5 L1162.6 876.8 L1162.6 877.5Z"/>
<path d="M1197.6 876.9 L1197.6 876.4 L1199.0 876.9 L1197.1 872.6 L1195.2 876.9 L1196.6 876.4 L1196.6 876.9Z"/>
<circle cx="1231.0" cy="874.7" r="2.1"/>
<circle cx="1264.9" cy="874.7" r="2.1"/>
<path d="M1298.9 877.3 L1299.0 876.7 L1300.6 877.5 L1299.2 872.2 L1296.2 876.8 L1297.9 876.5 L1297.8 877.1Z"/>
<path d="M320.9 907.5 L319.7 907.5 L320.9 904.2 L310.9 908.6 L320.9 913.1 L319.7 909.7 L320.9 909.7Z"/>
<path d="M355.7 907.3 L354.4 907.3 L355.7 903.3 L343.7 908.6 L355.7 914.0 L354.4 910.0 L355.7 910.0Z"/>
<path d="M389.6 907.3 L388.3 907.3 L389.6 903.3 L377.6 908.6 L389.6 914.0 L388.3 910.0 L389.6 910.0Z"/>
<path d="M423.6 907.8 L422.3 907.7 L424.0 903.8 L411.6 908.1 L423.0 914.5 L422.1 910.4 L423.4 910.5Z"/>
<path d="M458.0 907.7 L456.6 907.6 L458.4 903.4 L445.0 908.1 L457.4 914.9 L456.3 910.5 L457.8 910.6Z"/>
<path d="M491.1 907.3 L489.8 907.3 L491.1 903.5 L479.6 908.6 L491.1 913.7 L489.8 909.9 L491.1 909.9Z"/>
<path d="M524.7 907.4 L523.5 907.4 L524.7 903.7 L513.7 908.6 L524.7 913.5 L523.5 909.8 L524.7 909.8Z"/>
<path d="M558.0 907.5 L556.9 907.5 L558.0 904.3 L548.3 908.6 L558.0 912.9 L556.9 909.7 L558.0 909.7Z"/>
<path d="M590.6 908.5 L589.8 908.3 L591.0 906.2 L583.6 908.0 L589.9 912.3 L589.6 909.9 L590.3 910.0Z"/>
<path d="M624.0 909.0 L623.3 908.8 L624.6 907.1 L618.1 907.6 L622.8 912.2 L622.9 910.0 L623.5 910.3Z"/>
<circle cx="654.8" cy="908.6" r="2.1"/>
<circle cx="688.7" cy="908.6" r="2.1"/>
<circle cx="722.6" cy="908.6" r="2.1"/>
<path d="M759.1 907.5 L758.5 907.6 L758.8 905.7 L753.8 909.1 L759.6 910.5 L758.7 908.9 L759.3 908.7Z"/>
<path d="M792.7 908.9 L792.2 908.8 L793.2 907.5 L788.2 907.8 L791.8 911.3 L791.9 909.7 L792.4 909.9Z"/>
<path d="M822.1 912.1 L822.7 911.4 L824.0 914.0 L827.1 905.8 L818.9 908.9 L821.4 910.2 L820.8 910.8Z"/>
<circle cx="858.2" cy="908.6" r="2.1"/>
<circle cx="892.1" cy="908.6" r="2.1"/>
<circle cx="926.0" cy="908.6" r="2.1"/>
<circle cx="959.9" cy="908.6" r="2.1"/>
<circle cx="993.8" cy="908.6" r="2.1"/>
<circle cx="1027.6" cy="908.6" r="2.1"/>
<circle cx="1061.5" cy="908.6" r="2.1"/>
<path d="M1093.5 910.4 L1094.0 910.1 L1094.4 911.8 L1097.6 907.4 L1092.2 907.9 L1093.5 909.1 L1093.0 909.4Z"/>
<path d="M1125.7 909.8 L1126.5 909.7 L1125.9 912.3 L1133.1 908.3 L1125.3 905.6 L1126.4 908.0 L1125.5 908.1Z"/>
<path d="M1158.0 910.8 L1159.2 910.6 L1158.7 914.4 L1168.6 907.7 L1157.0 904.8 L1158.8 908.2 L1157.6 908.4Z"/>
<circle cx="1197.1" cy="908.6" r="2.1"/>
<circle cx="1231.0" cy="908.6" r="2.1"/>
<path d="M1262.4 909.2 L1263.0 909.2 L1262.4 910.8 L1267.4 908.6 L1262.4 906.4 L1263.0 908.1 L1262.4 908.1Z"/>
<path d="M1299.3 910.8 L1299.3 910.3 L1300.7 910.8 L1298.8 906.5 L1296.9 910.8 L1298.3 910.3 L1298.3 910.8Z"/>
<path d="M319.8 941.3 L318.9 941.4 L319.5 938.6 L311.9 942.9 L320.1 945.7 L319.0 943.2 L319.9 943.1Z"/>
<path d="M353.8 940.9 L352.8 941.0 L353.3 938.1 L345.6 943.3 L354.6 945.5 L353.2 942.9 L354.1 942.7Z"/>
<path d="M387.8 941.2 L386.9 941.3 L387.5 938.4 L379.4 942.9 L388.2 945.9 L387.0 943.2 L388.0 943.1Z"/>
<path d="M421.3 941.7 L420.5 941.7 L421.3 939.2 L413.8 942.5 L421.3 945.9 L420.5 943.4 L421.3 943.4Z"/>
<path d="M455.9 941.5 L454.9 941.5 L455.9 938.5 L446.9 942.5 L455.9 946.5 L454.9 943.5 L455.9 943.5Z"/>
<path d="M489.8 941.5 L488.8 941.5 L489.8 938.5 L480.8 942.5 L489.8 946.5 L488.8 943.5 L489.8 943.5Z"/>
<path d="M521.6 941.0 L521.0 941.2 L521.0 939.3 L516.6 943.5 L522.6 943.9 L521.4 942.4 L522.0 942.2Z"/>
<circle cx="553.1" cy="942.5" r="2.1"/>
<circle cx="587.0" cy="942.5" r="2.1"/>
<path d="M623.3 941.6 L622.7 941.7 L623.0 939.9 L618.4 943.0 L623.8 944.3 L622.9 942.7 L623.5 942.7Z"/>
<circle cx="654.8" cy="942.5" r="2.1"/>
<path d="M690.8 942.1 L690.4 942.1 L690.8 940.6 L686.5 942.5 L690.8 944.5 L690.4 943.0 L690.8 943.0Z"/>
<path d="M725.0 941.3 L724.4 941.4 L724.5 939.6 L720.0 943.2 L725.8 944.1 L724.7 942.6 L725.3 942.4Z"/>
<path d="M759.3 941.4 L758.7 941.5 L759.0 939.4 L753.5 943.1 L759.9 944.6 L758.9 942.8 L759.6 942.7Z"/>
<path d="M793.1 941.1 L792.5 941.3 L792.6 939.2 L787.5 943.3 L794.0 944.3 L792.8 942.6 L793.5 942.4Z"/>
<path d="M826.8 941.2 L826.2 941.4 L826.3 939.5 L821.6 943.3 L827.6 944.2 L826.5 942.6 L827.1 942.4Z"/>
<circle cx="858.2" cy="942.5" r="2.1"/>
<path d="M889.7 943.5 L890.2 943.4 L890.0 945.2 L894.5 942.1 L889.2 940.8 L890.1 942.3 L889.5 942.4Z"/>
<circle cx="926.0" cy="942.5" r="2.1"/>
<circle cx="959.9" cy="942.5" r="2.1"/>
<path d="M995.9 942.1 L995.4 942.1 L995.9 940.6 L991.6 942.5 L995.9 944.5 L995.4 943.0 L995.9 943.0Z"/>
<circle cx="1027.6" cy="942.5" r="2.1"/>
<path d="M1064.0 943.3 L1063.5 943.0 L1064.8 941.9 L1059.4 941.3 L1062.6 945.7 L1062.9 944.0 L1063.4 944.3Z"/>
<path d="M1098.5 940.6 L1097.7 940.9 L1097.7 938.4 L1092.1 943.7 L1099.8 944.3 L1098.3 942.3 L1099.0 942.1Z"/>
<path d="M1125.8 942.1 L1126.5 942.3 L1125.0 944.3 L1132.6 943.7 L1127.1 938.4 L1127.0 940.9 L1126.3 940.6Z"/>
<path d="M1159.8 943.6 L1160.6 943.6 L1160.0 945.9 L1166.7 942.2 L1159.5 939.7 L1160.4 942.0 L1159.7 942.1Z"/>
<circle cx="1197.1" cy="942.5" r="2.1"/>
<circle cx="1231.0" cy="942.5" r="2.1"/>
<circle cx="1264.9" cy="942.5" r="2.1"/>
<circle cx="1298.8" cy="942.5" r="2.1"/>
<path d="M347.5 975.8 L348.0 976.0 L346.8 977.1 L351.7 977.6 L348.8 973.6 L348.5 975.2 L348.0 974.9Z"/>
<circle cx="383.6" cy="976.5" r="2.1"/>
<circle cx="417.5" cy="976.5" r="2.1"/>
<path d="M449.3 975.8 L449.7 976.0 L448.6 977.0 L453.3 977.5 L450.5 973.7 L450.2 975.2 L449.8 975.0Z"/>
<path d="M484.8 974.2 L484.8 974.7 L483.3 974.2 L485.3 978.7 L487.3 974.2 L485.8 974.7 L485.8 974.2Z"/>
<path d="M519.8 979.0 L519.8 978.4 L521.4 979.0 L519.2 974.0 L517.0 979.0 L518.7 978.4 L518.7 979.0Z"/>
<path d="M553.7 979.2 L553.7 978.6 L555.6 979.2 L553.1 973.7 L550.7 979.2 L552.5 978.6 L552.5 979.2Z"/>
<path d="M589.3 976.0 L588.8 976.0 L589.3 974.5 L584.8 976.5 L589.3 978.5 L588.8 977.0 L589.3 977.0Z"/>
<path d="M623.2 976.0 L622.7 976.0 L623.2 974.5 L618.7 976.5 L623.2 978.5 L622.7 977.0 L623.2 977.0Z"/>
<path d="M657.6 976.1 L657.0 976.0 L657.8 974.3 L652.1 976.2 L657.3 979.1 L656.9 977.3 L657.5 977.3Z"/>
<path d="M691.5 976.1 L690.9 976.0 L691.6 974.3 L686.0 976.2 L691.2 979.1 L690.8 977.3 L691.4 977.3Z"/>
<path d="M725.1 976.3 L724.6 976.3 L725.4 974.7 L720.1 976.0 L724.7 979.1 L724.4 977.3 L725.0 977.4Z"/>
<path d="M758.9 977.2 L758.4 977.0 L759.8 975.8 L754.3 975.2 L757.5 979.6 L757.9 977.9 L758.4 978.2Z"/>
<path d="M792.9 976.3 L792.4 976.3 L793.2 974.7 L787.9 976.0 L792.5 979.1 L792.2 977.3 L792.7 977.4Z"/>
<path d="M826.8 976.3 L826.3 976.3 L827.1 974.7 L821.8 976.0 L826.4 979.1 L826.1 977.3 L826.6 977.4Z"/>
<circle cx="858.2" cy="976.5" r="2.1"/>
<circle cx="892.1" cy="976.5" r="2.1"/>
<path d="M928.1 976.0 L927.6 976.0 L928.1 974.5 L923.8 976.5 L928.1 978.4 L927.6 976.9 L928.1 976.9Z"/>
<circle cx="959.9" cy="976.5" r="2.1"/>
<path d="M993.2 974.2 L993.2 974.7 L991.7 974.2 L993.8 978.8 L995.8 974.2 L994.3 974.7 L994.3 974.2Z"/>
<circle cx="1027.6" cy="976.5" r="2.1"/>
<path d="M1062.1 979.0 L1062.1 978.4 L1063.8 979.0 L1061.5 974.0 L1059.3 979.0 L1061.0 978.4 L1061.0 979.0Z"/>
<path d="M1097.9 975.9 L1097.4 975.9 L1097.9 974.2 L1092.9 976.5 L1097.9 978.7 L1097.4 977.0 L1097.9 977.0Z"/>
<circle cx="1129.3" cy="976.5" r="2.1"/>
<circle cx="1163.2" cy="976.5" r="2.1"/>
<circle cx="1197.1" cy="976.5" r="2.1"/>
<path d="M1228.9 976.9 L1229.3 976.9 L1228.9 978.4 L1233.2 976.5 L1228.9 974.5 L1229.3 976.0 L1228.9 976.0Z"/>
<circle cx="1264.9" cy="976.5" r="2.1"/>
<circle cx="1298.8" cy="976.5" r="2.1"/>
<path d="M347.3 1010.1 L347.8 1010.2 L346.8 1011.6 L352.0 1011.2 L348.2 1007.6 L348.2 1009.2 L347.7 1009.1Z"/>
<circle cx="383.6" cy="1010.4" r="2.1"/>
<circle cx="417.5" cy="1010.4" r="2.1"/>
<path d="M453.4 1013.4 L453.1 1012.7 L455.6 1012.6 L450.2 1007.1 L449.7 1014.7 L451.6 1013.2 L451.9 1013.9Z"/>
<path d="M489.3 1011.5 L488.5 1011.1 L490.5 1009.1 L481.8 1008.5 L487.2 1015.4 L487.7 1012.6 L488.4 1013.0Z"/>
<path d="M523.7 1009.4 L522.7 1009.4 L523.7 1006.4 L514.7 1010.4 L523.7 1014.4 L522.7 1011.4 L523.7 1011.4Z"/>
<path d="M556.9 1009.5 L556.0 1009.5 L556.9 1007.0 L549.4 1010.4 L556.9 1013.7 L556.0 1011.2 L556.9 1011.2Z"/>
<path d="M590.4 1011.5 L589.8 1011.1 L591.6 1009.4 L584.0 1008.6 L588.5 1014.8 L589.0 1012.4 L589.7 1012.8Z"/>
<path d="M623.4 1009.8 L622.8 1009.8 L623.4 1008.2 L618.4 1010.4 L623.4 1012.6 L622.8 1010.9 L623.4 1010.9Z"/>
<path d="M657.6 1009.8 L656.9 1009.8 L657.6 1007.9 L652.1 1010.4 L657.6 1012.8 L656.9 1011.0 L657.6 1011.0Z"/>
<path d="M689.3 1012.9 L689.3 1012.3 L690.9 1012.9 L688.7 1007.9 L686.5 1012.9 L688.1 1012.3 L688.1 1012.9Z"/>
<path d="M723.3 1013.4 L723.3 1012.7 L725.3 1013.4 L722.6 1007.4 L719.9 1013.4 L721.9 1012.7 L721.9 1013.4Z"/>
<path d="M757.0 1012.9 L757.0 1012.3 L758.7 1012.9 L756.5 1007.9 L754.3 1012.9 L755.9 1012.3 L755.9 1012.9Z"/>
<path d="M789.7 1012.5 L790.0 1012.1 L791.0 1013.2 L791.5 1008.5 L787.6 1011.3 L789.1 1011.6 L788.9 1012.0Z"/>
<path d="M823.6 1012.5 L823.9 1012.1 L824.9 1013.2 L825.4 1008.5 L821.5 1011.3 L823.0 1011.6 L822.8 1012.0Z"/>
<circle cx="858.2" cy="1010.4" r="2.1"/>
<circle cx="892.1" cy="1010.4" r="2.1"/>
<circle cx="926.0" cy="1010.4" r="2.1"/>
<path d="M958.8 1012.3 L959.1 1012.0 L959.9 1013.3 L961.2 1008.7 L957.0 1010.8 L958.4 1011.4 L958.1 1011.7Z"/>
<path d="M991.9 1012.1 L992.3 1011.8 L992.7 1013.6 L995.9 1009.1 L990.5 1009.7 L991.8 1010.9 L991.3 1011.1Z"/>
<circle cx="1027.6" cy="1010.4" r="2.1"/>
<path d="M1062.1 1012.9 L1062.1 1012.3 L1063.8 1012.9 L1061.5 1007.9 L1059.3 1012.9 L1061.0 1012.3 L1061.0 1012.9Z"/>
<path d="M1097.9 1009.8 L1097.4 1009.8 L1097.9 1008.2 L1092.9 1010.4 L1097.9 1012.6 L1097.4 1010.9 L1097.9 1010.9Z"/>
<circle cx="1129.3" cy="1010.4" r="2.1"/>
<circle cx="1163.2" cy="1010.4" r="2.1"/>
<circle cx="1197.1" cy="1010.4" r="2.1"/>
<circle cx="1231.0" cy="1010.4" r="2.1"/>
<path d="M1265.1 1013.7 L1265.2 1013.0 L1267.2 1014.1 L1265.5 1007.2 L1261.5 1013.1 L1263.8 1012.7 L1263.6 1013.5Z"/>
<path d="M1299.3 1012.6 L1299.3 1012.1 L1300.8 1012.6 L1298.8 1008.1 L1296.8 1012.6 L1298.3 1012.1 L1298.3 1012.6Z"/>
<path d="M414.5 1044.4 L415.1 1044.6 L414.1 1046.4 L420.5 1044.8 L415.0 1041.2 L415.4 1043.2 L414.7 1043.1Z"/>
<path d="M447.8 1044.5 L448.6 1044.6 L447.4 1046.8 L454.9 1044.9 L448.5 1040.6 L448.9 1043.1 L448.1 1042.9Z"/>
<path d="M516.7 1044.9 L517.3 1044.9 L516.7 1046.5 L521.7 1044.3 L516.7 1042.1 L517.3 1043.7 L516.7 1043.7Z"/>
</g>
</g>
<rect x="315.40" y="196.00" width="1017.70" height="848.10" fill="none" stroke="#000" stroke-width="2.0"/>
<g fill="#f00" shape-rendering="crispEdges">
<rect x="315.40" y="196.00" width="3.60" height="848.10"/>
<rect x="315.40" y="196.00" width="1017.70" height="3.10"/>
<rect x="1330.90" y="196.00" width="2.20" height="848.10"/>
<rect x="315.40" y="1041.85" width="1017.70" height="2.25"/>
</g>
<g clip-path="url(#ax)"><circle cx="316.2" cy="925.5" r="10.5" fill="#1f77b4" stroke="#000" stroke-width="1.3"/></g>
<g fill="#000"><path d="M1242.1 198.9 L1244.0 198.9 L1242.1 204.5 L1258.9 197.0 L1242.1 189.5 L1244.0 195.1 L1242.1 195.1Z"/></g>
<text x="1281.5" y="204.4" font-size="26" textLength="72" lengthAdjust="spacingAndGlyphs">10 m s</text><text x="1354.5" y="195.5" font-size="17" textLength="29" lengthAdjust="spacingAndGlyphs">−1</text>
<text x="421.9" y="115.5" font-size="31.3" textLength="55.7" lengthAdjust="spacingAndGlyphs">GFS</text>
<text x="486.4" y="115.5" font-size="31.3" textLength="55.4" lengthAdjust="spacingAndGlyphs">850</text>
<text x="550.6" y="115.5" font-size="31.3" textLength="47.3" lengthAdjust="spacingAndGlyphs">hPa</text>
<text x="606.7" y="115.5" font-size="31.3" textLength="16.2" lengthAdjust="spacingAndGlyphs">–</text>
<text x="631.7" y="115.5" font-size="31.3" textLength="143.8" lengthAdjust="spacingAndGlyphs">Vorticidad</text>
<text x="784.3" y="115.5" font-size="31.3" textLength="124.2" lengthAdjust="spacingAndGlyphs">ciclónica</text>
<text x="917.3" y="115.5" font-size="31.3" textLength="179.9" lengthAdjust="spacingAndGlyphs">(sombreado,</text>
<text x="1106.0" y="115.5" font-size="31.3" textLength="61.8" lengthAdjust="spacingAndGlyphs">10⁻⁵</text>
<text x="1176.6" y="115.5" font-size="31.3" textLength="49.4" lengthAdjust="spacingAndGlyphs">s⁻¹)</text>
<text x="278.0" y="148.7" font-size="31.3" textLength="133.4" lengthAdjust="spacingAndGlyphs">Promedio</text>
<text x="420.2" y="148.7" font-size="31.3" textLength="140.3" lengthAdjust="spacingAndGlyphs">500–1000</text>
<text x="569.3" y="148.7" font-size="31.3" textLength="46.0" lengthAdjust="spacingAndGlyphs">km</text>
<text x="624.1" y="148.7" font-size="31.3" textLength="155.9" lengthAdjust="spacingAndGlyphs">(contornos</text>
<text x="788.8" y="148.7" font-size="31.3" textLength="123.4" lengthAdjust="spacingAndGlyphs">&gt;1×10⁻⁵</text>
<text x="921.0" y="148.7" font-size="31.3" textLength="50.7" lengthAdjust="spacingAndGlyphs">s⁻¹)</text>
<text x="980.5" y="148.7" font-size="31.3" textLength="17.2" lengthAdjust="spacingAndGlyphs">y</text>
<text x="1006.5" y="148.7" font-size="31.3" textLength="88.9" lengthAdjust="spacingAndGlyphs">viento</text>
<text x="1104.2" y="148.7" font-size="31.3" textLength="50.6" lengthAdjust="spacingAndGlyphs">850</text>
<text x="1163.6" y="148.7" font-size="31.3" textLength="56.2" lengthAdjust="spacingAndGlyphs">hPa</text>
<text x="1228.6" y="148.7" font-size="31.3" textLength="141.2" lengthAdjust="spacingAndGlyphs">(vectores)</text>
<text x="588.7" y="182.5" font-size="31.3" textLength="90.7" lengthAdjust="spacingAndGlyphs">Válido</text>
<text x="688.2" y="182.5" font-size="31.3" textLength="69.9" lengthAdjust="spacingAndGlyphs">para:</text>
<text x="766.9" y="182.5" font-size="31.3" textLength="35.6" lengthAdjust="spacingAndGlyphs">23</text>
<text x="811.3" y="182.5" font-size="31.3" textLength="64.9" lengthAdjust="spacingAndGlyphs">abril</text>
<text x="885.0" y="182.5" font-size="31.3" textLength="72.9" lengthAdjust="spacingAndGlyphs">2026</text>
<text x="966.7" y="182.5" font-size="31.3" textLength="34.0" lengthAdjust="spacingAndGlyphs">(9</text>
<text x="1009.5" y="182.5" font-size="31.3" textLength="48.2" lengthAdjust="spacingAndGlyphs">am)</text>
<text x="245.6" y="373.8" font-size="26.0" textLength="57.7" lengthAdjust="spacingAndGlyphs">25°N</text>
<text x="245.6" y="543.4" font-size="26.0" textLength="57.7" lengthAdjust="spacingAndGlyphs">20°N</text>
<text x="245.6" y="713.0" font-size="26.0" textLength="57.7" lengthAdjust="spacingAndGlyphs">15°N</text>
<text x="245.6" y="882.6" font-size="26.0" textLength="57.7" lengthAdjust="spacingAndGlyphs">10°N</text>
<text x="454.3" y="1075.6" font-size="26.0" textLength="62.0" lengthAdjust="spacingAndGlyphs">95°W</text>
<text x="623.8" y="1075.6" font-size="26.0" textLength="62.0" lengthAdjust="spacingAndGlyphs">90°W</text>
<text x="793.3" y="1075.6" font-size="26.0" textLength="62.0" lengthAdjust="spacingAndGlyphs">85°W</text>
<text x="962.8" y="1075.6" font-size="26.0" textLength="62.0" lengthAdjust="spacingAndGlyphs">80°W</text>
<text x="1132.2" y="1075.6" font-size="26.0" textLength="62.0" lengthAdjust="spacingAndGlyphs">75°W</text>
<g shape-rendering="crispEdges">
<rect x="106.00" y="1097.0" width="179.80" height="36.0" fill="#fff"/>
<rect x="285.50" y="1097.0" width="179.80" height="36.0" fill="#fee8c8"/>
<rect x="465.00" y="1097.0" width="179.80" height="36.0" fill="#fdd49e"/>
<rect x="644.50" y="1097.0" width="179.80" height="36.0" fill="#fdbb84"/>
<rect x="824.00" y="1097.0" width="179.80" height="36.0" fill="#fc8d59"/>
<rect x="1003.50" y="1097.0" width="179.80" height="36.0" fill="#ef6548"/>
<rect x="1183.00" y="1097.0" width="179.80" height="36.0" fill="#d7301f"/>
<rect x="1362.50" y="1097.0" width="179.80" height="36.0" fill="#7d3c92"/>
</g>
<rect x="106.0" y="1097.0" width="1436.0" height="36.0" fill="none" stroke="#000" stroke-width="2"/>
<path d="M106.0 1133.0 V1140.5" stroke="#000" stroke-width="1.8"/>
<path d="M285.5 1133.0 V1140.5" stroke="#000" stroke-width="1.8"/>
<text x="278.8" y="1168.8" font-size="26.0" textLength="13.5" lengthAdjust="spacingAndGlyphs">1</text>
<path d="M465.0 1133.0 V1140.5" stroke="#000" stroke-width="1.8"/>
<text x="458.2" y="1168.8" font-size="26.0" textLength="13.5" lengthAdjust="spacingAndGlyphs">3</text>
<path d="M644.5 1133.0 V1140.5" stroke="#000" stroke-width="1.8"/>
<text x="637.8" y="1168.8" font-size="26.0" textLength="13.5" lengthAdjust="spacingAndGlyphs">5</text>
<path d="M824.0 1133.0 V1140.5" stroke="#000" stroke-width="1.8"/>
<text x="817.2" y="1168.8" font-size="26.0" textLength="13.5" lengthAdjust="spacingAndGlyphs">7</text>
<path d="M1003.5 1133.0 V1140.5" stroke="#000" stroke-width="1.8"/>
<text x="996.8" y="1168.8" font-size="26.0" textLength="13.5" lengthAdjust="spacingAndGlyphs">9</text>
<path d="M1183.0 1133.0 V1140.5" stroke="#000" stroke-width="1.8"/>
<text x="1169.0" y="1168.8" font-size="26.0" textLength="28.0" lengthAdjust="spacingAndGlyphs">11</text>
<path d="M1362.5 1133.0 V1140.5" stroke="#000" stroke-width="1.8"/>
<text x="1348.5" y="1168.8" font-size="26.0" textLength="28.0" lengthAdjust="spacingAndGlyphs">13</text>
<path d="M1542.0 1133.0 V1140.5" stroke="#000" stroke-width="1.8"/>
<text x="1528.0" y="1168.8" font-size="26.0" textLength="28.0" lengthAdjust="spacingAndGlyphs">15</text>
<text x="603.5" y="1203.4" font-size="26.6" textLength="127.4" lengthAdjust="spacingAndGlyphs">Vorticidad</text>
<text x="738.7" y="1203.4" font-size="26.6" textLength="78.3" lengthAdjust="spacingAndGlyphs">relativa</text>
<text x="825.0" y="1203.4" font-size="26.6" textLength="103.4" lengthAdjust="spacingAndGlyphs">ciclónica</text>
<text x="936.2" y="1203.4" font-size="26.6" textLength="61.5" lengthAdjust="spacingAndGlyphs">[10⁻⁵</text>
<text x="1005.5" y="1203.4" font-size="26.6" textLength="39.5" lengthAdjust="spacingAndGlyphs">s⁻¹]</text>
<text x="578.0" y="1375.6" font-size="24.0" textLength="88.2" lengthAdjust="spacingAndGlyphs">Instituto</text>
<text x="673.0" y="1375.6" font-size="24.0" textLength="148.9" lengthAdjust="spacingAndGlyphs">Meteorológico</text>
<text x="828.7" y="1375.6" font-size="24.0" textLength="91.4" lengthAdjust="spacingAndGlyphs">Nacional</text>
<text x="926.9" y="1375.6" font-size="24.0" textLength="59.7" lengthAdjust="spacingAndGlyphs">Costa</text>
<text x="993.4" y="1375.6" font-size="24.0" textLength="43.4" lengthAdjust="spacingAndGlyphs">Rica</text>
</svg></body></html>
